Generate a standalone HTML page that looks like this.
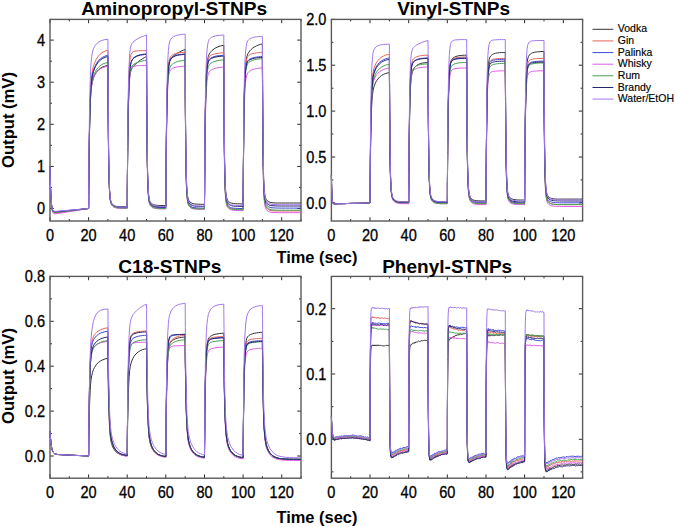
<!DOCTYPE html>
<html><head><meta charset="utf-8"><style>
html,body{margin:0;padding:0;background:#fff;width:675px;height:527px;overflow:hidden;font-family:"Liberation Sans", sans-serif;}
svg{display:block}
</style></head><body>
<svg width="675" height="527" viewBox="0 0 675 527">
<rect width="675" height="527" fill="#fff"/>
<path d="M50.0 221.0V217.2M50.0 19.4V23.2M69.3 221.0V219.0M69.3 19.4V21.4M88.6 221.0V217.2M88.6 19.4V23.2M107.9 221.0V219.0M107.9 19.4V21.4M127.2 221.0V217.2M127.2 19.4V23.2M146.5 221.0V219.0M146.5 19.4V21.4M165.8 221.0V217.2M165.8 19.4V23.2M185.2 221.0V219.0M185.2 19.4V21.4M204.5 221.0V217.2M204.5 19.4V23.2M223.8 221.0V219.0M223.8 19.4V21.4M243.1 221.0V217.2M243.1 19.4V23.2M262.4 221.0V219.0M262.4 19.4V21.4M281.7 221.0V217.2M281.7 19.4V23.2M301.0 221.0V219.0M301.0 19.4V21.4M50.0 208.5H53.8M301.0 208.5H297.2M50.0 166.4H53.8M301.0 166.4H297.2M50.0 124.3H53.8M301.0 124.3H297.2M50.0 82.2H53.8M301.0 82.2H297.2M50.0 40.1H53.8M301.0 40.1H297.2M50.0 187.4H52.0M301.0 187.4H299.0M50.0 145.3H52.0M301.0 145.3H299.0M50.0 103.2H52.0M301.0 103.2H299.0M50.0 61.2H52.0M301.0 61.2H299.0" stroke="#2a2a2a" stroke-width="1.0" fill="none"/>
<rect x="50.0" y="19.4" width="251.0" height="201.6" fill="none" stroke="#5a5a5a" stroke-width="1.4"/>
<g fill="none" stroke-width="1.0" stroke-linejoin="round">
<path d="M50.0 166.4L50.1 171.3L50.2 175.8L50.3 179.7L50.4 183.3L50.6 189.3L50.8 194.1L51.0 197.9L51.4 203.4L51.7 206.9L52.3 210.0L52.9 211.5L53.9 212.5L54.8 212.7L55.8 212.7L57.7 212.5L59.7 212.3L63.5 211.8L69.3 211.0L75.1 210.3L80.9 209.5L88.6 208.5L88.7 203.4L88.7 196.0L88.8 184.8L88.9 174.8L89.0 165.7L89.2 150.3L89.4 137.7L89.6 127.6L89.8 119.3L90.2 106.9L90.5 98.5L91.1 90.4L91.7 85.4L92.5 81.3L93.4 78.0L94.4 75.7L95.4 73.8L96.3 72.3L98.3 70.0L100.2 68.4L102.1 67.2L104.1 66.4L106.0 65.8L107.9 65.4L108.0 73.8L108.0 85.4L108.1 102.5L108.2 117.0L108.3 129.3L108.5 148.8L108.7 162.9L108.9 173.1L109.1 180.7L109.5 190.3L109.9 195.7L110.4 199.9L111.0 202.1L111.8 203.6L112.8 204.7L113.7 205.4L114.7 205.9L115.6 206.2L117.6 206.5L119.5 206.7L121.4 206.8L123.4 206.8L125.3 206.8L127.2 206.8L127.3 201.0L127.3 192.6L127.4 180.0L127.5 168.6L127.6 158.4L127.8 141.1L128.0 127.2L128.2 116.0L128.4 107.0L128.8 93.9L129.2 85.3L129.7 77.5L130.3 73.2L131.1 70.1L132.1 68.0L133.0 66.6L134.0 65.5L135.0 64.6L136.9 62.9L138.8 61.3L140.7 59.9L142.7 58.7L144.6 57.5L146.5 56.5L146.6 65.4L146.6 77.7L146.7 95.6L146.8 110.9L146.9 123.9L147.1 144.4L147.3 159.2L147.5 170.1L147.7 178.0L148.1 188.2L148.5 193.9L149.0 198.3L149.6 200.6L150.4 202.2L151.4 203.3L152.3 204.1L153.3 204.5L154.3 204.9L156.2 205.2L158.1 205.4L160.1 205.5L162.0 205.5L163.9 205.5L165.8 205.5L165.9 199.3L165.9 190.4L166.0 176.9L166.1 164.8L166.2 153.9L166.4 135.5L166.6 120.7L166.8 108.8L167.0 99.2L167.4 85.3L167.8 76.3L168.4 68.2L168.9 63.8L169.7 60.6L170.7 58.7L171.6 57.5L172.6 56.6L173.6 55.8L175.5 54.5L177.4 53.2L179.4 52.1L181.3 51.1L183.2 50.2L185.2 49.4L185.2 58.6L185.3 71.4L185.3 90.0L185.4 105.9L185.5 119.4L185.7 140.7L185.9 156.1L186.1 167.4L186.3 175.7L186.7 186.2L187.1 192.1L187.7 196.8L188.2 199.1L189.0 200.8L190.0 202.0L190.9 202.7L191.9 203.2L192.9 203.6L194.8 204.0L196.7 204.1L198.7 204.2L200.6 204.3L202.5 204.3L204.5 204.3L204.5 198.0L204.6 189.1L204.7 175.5L204.8 163.3L204.8 152.3L205.0 133.7L205.2 118.7L205.4 106.7L205.6 96.9L206.0 82.7L206.4 73.4L207.0 64.8L207.6 60.0L208.3 56.4L209.3 54.0L210.3 52.5L211.2 51.4L212.2 50.4L214.1 48.9L216.0 47.7L218.0 46.8L219.9 46.1L221.8 45.6L223.8 45.2L223.8 54.6L223.9 67.7L224.0 86.8L224.1 103.1L224.2 116.9L224.3 138.7L224.5 154.5L224.7 166.1L224.9 174.5L225.3 185.4L225.7 191.4L226.3 196.2L226.9 198.5L227.6 200.3L228.6 201.5L229.6 202.3L230.5 202.8L231.5 203.1L233.4 203.5L235.4 203.7L237.3 203.8L239.2 203.8L241.1 203.9L243.1 203.9L243.1 197.6L243.2 188.8L243.3 175.3L243.4 163.1L243.5 152.3L243.7 133.7L243.8 118.8L244.0 106.8L244.2 97.1L244.6 82.9L245.0 73.6L245.6 65.0L246.2 60.1L246.9 56.4L247.9 53.8L248.9 52.1L249.8 50.9L250.8 49.8L252.7 48.1L254.7 46.8L256.6 45.8L258.5 45.0L260.5 44.4L262.4 43.9L262.4 53.4L262.5 66.5L262.6 85.7L262.7 102.0L262.8 115.8L263.0 137.7L263.2 153.6L263.4 165.1L263.5 173.6L263.9 184.5L264.3 190.5L264.9 195.3L265.5 197.7L266.2 199.4L267.2 200.7L268.2 201.4L269.1 201.9L270.1 202.3L272.0 202.7L274.0 202.9L275.9 203.0L277.8 203.0L279.8 203.0L281.7 203.0L285.6 203.0L289.4 203.0L293.3 203.0L297.1 203.0L301.0 203.0" stroke="#333333"/>
<path d="M50.0 166.4L50.1 171.3L50.2 175.8L50.3 179.7L50.4 183.3L50.6 189.3L50.8 194.1L51.0 197.9L51.4 203.4L51.7 206.9L52.3 210.0L52.9 211.5L53.9 212.5L54.8 212.7L55.8 212.7L57.7 212.5L59.7 212.3L63.5 211.8L69.3 211.0L75.1 210.3L80.9 209.5L88.6 208.5L88.7 203.0L88.7 195.2L88.8 183.2L88.9 172.5L89.0 162.8L89.2 146.2L89.4 132.7L89.6 121.7L89.8 112.7L90.2 99.2L90.5 90.0L91.1 81.0L91.7 75.3L92.5 70.4L93.4 66.3L94.4 63.4L95.4 61.1L96.3 59.2L98.3 56.2L100.2 54.1L102.1 52.6L104.1 51.5L106.0 50.8L107.9 50.2L108.0 59.6L108.0 72.6L108.1 91.5L108.2 107.7L108.3 121.4L108.5 143.0L108.7 158.7L108.9 170.2L109.1 178.6L109.5 189.3L109.9 195.3L110.4 200.0L111.0 202.4L111.8 204.1L112.8 205.3L113.7 206.1L114.7 206.6L115.6 206.9L117.6 207.3L119.5 207.5L121.4 207.6L123.4 207.6L125.3 207.6L127.2 207.7L127.3 201.1L127.3 191.7L127.4 177.4L127.5 164.6L127.6 153.1L127.8 133.6L128.0 117.9L128.2 105.2L128.4 95.1L128.8 80.3L129.2 70.7L129.7 62.1L130.3 57.5L131.1 54.4L132.1 52.6L133.0 51.8L134.0 51.4L135.0 51.2L136.9 50.9L138.8 50.8L140.7 50.7L142.7 50.7L144.6 50.6L146.5 50.6L146.6 60.0L146.6 72.9L146.7 91.9L146.8 107.9L146.9 121.6L147.1 143.2L147.3 158.9L147.5 170.3L147.7 178.6L148.1 189.4L148.5 195.3L149.0 200.0L149.6 202.4L150.4 204.1L151.4 205.3L152.3 206.1L153.3 206.6L154.3 206.9L156.2 207.3L158.1 207.5L160.1 207.6L162.0 207.6L163.9 207.6L165.8 207.7L165.9 201.3L165.9 192.2L166.0 178.4L166.1 166.0L166.2 154.9L166.4 136.0L166.6 120.8L166.8 108.6L167.0 98.7L167.4 84.4L167.8 75.0L168.4 66.5L168.9 61.9L169.7 58.6L170.7 56.6L171.6 55.5L172.6 54.8L173.6 54.3L175.5 53.6L177.4 53.1L179.4 52.8L181.3 52.5L183.2 52.4L185.2 52.3L185.2 61.6L185.3 74.5L185.3 93.3L185.4 109.3L185.5 122.9L185.7 144.4L185.9 160.0L186.1 171.3L186.3 179.6L186.7 190.3L187.1 196.2L187.7 200.9L188.2 203.3L189.0 205.0L190.0 206.2L190.9 206.9L191.9 207.4L192.9 207.8L194.8 208.2L196.7 208.3L198.7 208.4L200.6 208.5L202.5 208.5L204.5 208.5L204.5 202.0L204.6 192.9L204.7 178.8L204.8 166.3L204.8 155.1L205.0 136.0L205.2 120.6L205.4 108.3L205.6 98.4L206.0 84.0L206.4 74.6L207.0 66.3L207.6 61.7L208.3 58.6L209.3 56.8L210.3 55.8L211.2 55.2L212.2 54.7L214.1 54.1L216.0 53.6L218.0 53.3L219.9 53.0L221.8 52.9L223.8 52.7L223.8 62.1L223.9 75.0L224.0 93.8L224.1 109.9L224.2 123.5L224.3 145.1L224.5 160.7L224.7 172.1L224.9 180.4L225.3 191.1L225.7 197.1L226.3 201.7L226.9 204.1L227.6 205.8L228.6 207.0L229.6 207.8L230.5 208.3L231.5 208.6L233.4 209.0L235.4 209.2L237.3 209.3L239.2 209.3L241.1 209.3L243.1 209.3L243.1 202.8L243.2 193.6L243.3 179.4L243.4 166.8L243.5 155.4L243.7 136.2L243.8 120.7L244.0 108.3L244.2 98.3L244.6 83.8L245.0 74.4L245.6 65.9L246.2 61.4L246.9 58.2L247.9 56.4L248.9 55.4L249.8 54.8L250.8 54.3L252.7 53.6L254.7 53.2L256.6 52.8L258.5 52.6L260.5 52.4L262.4 52.3L262.4 61.8L262.5 74.8L262.6 94.0L262.7 110.2L262.8 124.1L263.0 145.9L263.2 161.7L263.4 173.2L263.5 181.7L263.9 192.5L264.3 198.6L264.9 203.3L265.5 205.7L266.2 207.4L267.2 208.7L268.2 209.4L269.1 209.9L270.1 210.3L272.0 210.7L274.0 210.9L275.9 211.0L277.8 211.0L279.8 211.0L281.7 211.0L285.6 211.0L289.4 211.0L293.3 211.0L297.1 211.0L301.0 211.0" stroke="#e6655a"/>
<path d="M50.0 166.4L50.1 171.3L50.2 175.6L50.3 179.5L50.4 183.0L50.6 188.9L50.8 193.6L51.0 197.4L51.4 202.8L51.7 206.3L52.3 209.2L52.9 210.7L53.9 211.7L54.8 212.0L55.8 212.0L57.7 211.9L59.7 211.7L63.5 211.2L69.3 210.6L75.1 210.0L80.9 209.3L88.6 208.5L88.7 203.1L88.7 195.5L88.8 183.9L88.9 173.4L89.0 164.0L89.2 147.8L89.4 134.7L89.6 124.0L89.8 115.3L90.2 102.2L90.5 93.3L91.1 84.5L91.7 79.1L92.5 74.4L93.4 70.5L94.4 67.7L95.4 65.5L96.3 63.7L98.3 60.9L100.2 59.0L102.1 57.5L104.1 56.5L106.0 55.8L107.9 55.3L108.0 64.3L108.0 76.9L108.1 95.3L108.2 110.9L108.3 124.2L108.5 145.1L108.7 160.3L108.9 171.4L109.1 179.5L109.5 189.9L109.9 195.7L110.4 200.3L111.0 202.5L111.8 204.2L112.8 205.4L113.7 206.1L114.7 206.6L115.6 207.0L117.6 207.3L119.5 207.5L121.4 207.6L123.4 207.6L125.3 207.6L127.2 207.7L127.3 201.5L127.3 192.7L127.4 179.4L127.5 167.4L127.6 156.6L127.8 138.4L128.0 123.6L128.2 111.7L128.4 102.1L128.8 88.1L129.2 78.8L129.7 70.4L130.3 65.6L131.1 62.1L132.1 59.8L133.0 58.4L134.0 57.5L135.0 56.8L136.9 55.8L138.8 55.1L140.7 54.6L142.7 54.3L144.6 54.1L146.5 54.0L146.6 63.1L146.6 75.8L146.7 94.3L146.8 110.1L146.9 123.5L147.1 144.6L147.3 159.9L147.5 171.1L147.7 179.3L148.1 189.7L148.5 195.6L149.0 200.2L149.6 202.5L150.4 204.2L151.4 205.4L152.3 206.1L153.3 206.6L154.3 206.9L156.2 207.3L158.1 207.5L160.1 207.6L162.0 207.6L163.9 207.6L165.8 207.7L165.9 201.4L165.9 192.6L166.0 179.0L166.1 166.9L166.2 156.1L166.4 137.6L166.6 122.7L166.8 110.7L167.0 101.1L167.4 86.9L167.8 77.7L168.4 69.3L168.9 64.6L169.7 61.2L170.7 59.0L171.6 57.8L172.6 57.0L173.6 56.4L175.5 55.5L177.4 54.9L179.4 54.5L181.3 54.3L183.2 54.1L185.2 54.0L185.2 63.2L185.3 75.9L185.3 94.4L185.4 110.2L185.5 123.7L185.7 144.8L185.9 160.2L186.1 171.4L186.3 179.6L186.7 190.1L187.1 196.0L187.7 200.6L188.2 202.9L189.0 204.6L190.0 205.8L190.9 206.5L191.9 207.0L192.9 207.4L194.8 207.7L196.7 207.9L198.7 208.0L200.6 208.0L202.5 208.1L204.5 208.1L204.5 201.7L204.6 192.7L204.7 179.0L204.8 166.7L204.8 155.7L205.0 137.0L205.2 121.9L205.4 109.9L205.6 100.2L206.0 86.0L206.4 76.8L207.0 68.6L207.6 64.2L208.3 61.1L209.3 59.3L210.3 58.3L211.2 57.7L212.2 57.3L214.1 56.6L216.0 56.1L218.0 55.8L219.9 55.6L221.8 55.4L223.8 55.3L223.8 64.4L223.9 77.0L224.0 95.5L224.1 111.2L224.2 124.6L224.3 145.6L224.5 160.9L224.7 172.0L224.9 180.2L225.3 190.6L225.7 196.5L226.3 201.1L226.9 203.4L227.6 205.0L228.6 206.2L229.6 207.0L230.5 207.5L231.5 207.8L233.4 208.2L235.4 208.3L237.3 208.4L239.2 208.5L241.1 208.5L243.1 208.5L243.1 202.2L243.2 193.3L243.3 179.6L243.4 167.4L243.5 156.4L243.7 137.8L243.8 122.9L244.0 110.9L244.2 101.2L244.6 87.2L245.0 78.0L245.6 69.9L246.2 65.4L246.9 62.4L247.9 60.6L248.9 59.6L249.8 59.0L250.8 58.5L252.7 57.9L254.7 57.4L256.6 57.1L258.5 56.8L260.5 56.6L262.4 56.5L262.4 65.5L262.5 78.0L262.6 96.3L262.7 111.8L262.8 125.1L263.0 145.9L263.2 161.0L263.4 172.0L263.5 180.1L263.9 190.4L264.3 196.2L264.9 200.7L265.5 203.0L266.2 204.7L267.2 205.8L268.2 206.6L269.1 207.1L270.1 207.4L272.0 207.8L274.0 207.9L275.9 208.0L277.8 208.0L279.8 208.1L281.7 208.1L285.6 208.1L289.4 208.1L293.3 208.1L297.1 208.1L301.0 208.1" stroke="#3a48d8"/>
<path d="M50.0 166.4L50.1 171.5L50.2 176.0L50.3 180.1L50.4 183.7L50.6 189.9L50.8 194.8L51.0 198.7L51.4 204.4L51.7 208.0L52.3 211.1L52.9 212.6L53.9 213.6L54.8 213.8L55.8 213.8L57.7 213.5L59.7 213.2L63.5 212.6L69.3 211.7L75.1 210.7L80.9 209.8L88.6 208.5L88.7 203.3L88.7 195.9L88.8 184.7L88.9 174.5L89.0 165.4L89.2 149.9L89.4 137.3L89.6 127.0L89.8 118.7L90.2 106.3L90.5 98.0L91.1 90.0L91.7 85.1L92.5 81.1L93.4 78.0L94.4 75.8L95.4 74.1L96.3 72.7L98.3 70.6L100.2 69.0L102.1 67.9L104.1 67.2L106.0 66.6L107.9 66.2L108.0 74.7L108.0 86.4L108.1 103.6L108.2 118.1L108.3 130.5L108.5 150.1L108.7 164.3L108.9 174.6L109.1 182.2L109.5 191.9L109.9 197.3L110.4 201.6L111.0 203.7L111.8 205.3L112.8 206.4L113.7 207.1L114.7 207.5L115.6 207.8L117.6 208.2L119.5 208.4L121.4 208.4L123.4 208.5L125.3 208.5L127.2 208.5L127.3 202.5L127.3 193.9L127.4 180.9L127.5 169.3L127.6 158.8L127.8 141.0L128.0 126.8L128.2 115.3L128.4 106.1L128.8 92.7L129.2 84.0L129.7 76.2L130.3 72.1L131.1 69.3L132.1 67.7L133.0 66.9L134.0 66.5L135.0 66.2L136.9 65.8L138.8 65.6L140.7 65.5L142.7 65.4L144.6 65.4L146.5 65.4L146.6 73.9L146.6 85.7L146.7 103.0L146.8 117.8L146.9 130.3L147.1 150.0L147.3 164.3L147.5 174.7L147.7 182.4L148.1 192.2L148.5 197.7L149.0 201.9L149.6 204.1L150.4 205.7L151.4 206.8L152.3 207.5L153.3 207.9L154.3 208.3L156.2 208.6L158.1 208.8L160.1 208.9L162.0 208.9L163.9 208.9L165.8 208.9L165.9 203.0L165.9 194.6L166.0 181.8L166.1 170.3L166.2 160.1L166.4 142.6L166.6 128.6L166.8 117.3L167.0 108.2L167.4 95.0L167.8 86.3L168.4 78.6L168.9 74.4L169.7 71.5L170.7 69.7L171.6 68.8L172.6 68.2L173.6 67.8L175.5 67.2L177.4 66.8L179.4 66.6L181.3 66.4L183.2 66.3L185.2 66.2L185.2 74.7L185.3 86.5L185.3 103.8L185.4 118.5L185.5 130.9L185.7 150.6L185.9 164.9L186.1 175.3L186.3 182.9L186.7 192.7L187.1 198.1L187.7 202.4L188.2 204.5L189.0 206.1L190.0 207.2L190.9 207.9L191.9 208.4L192.9 208.7L194.8 209.0L196.7 209.2L198.7 209.3L200.6 209.3L202.5 209.3L204.5 209.3L204.5 203.5L204.6 195.3L204.7 182.7L204.8 171.5L204.8 161.4L205.0 144.2L205.2 130.4L205.4 119.3L205.6 110.3L206.0 97.3L206.4 88.8L207.0 81.1L207.6 76.8L208.3 73.8L209.3 71.9L210.3 70.8L211.2 70.1L212.2 69.5L214.1 68.7L216.0 68.1L218.0 67.7L219.9 67.4L221.8 67.2L223.8 67.0L223.8 75.6L223.9 87.4L224.0 104.7L224.1 119.4L224.2 132.0L224.3 151.7L224.5 166.0L224.7 176.4L224.9 184.1L225.3 193.9L225.7 199.3L226.3 203.6L226.9 205.8L227.6 207.4L228.6 208.5L229.6 209.2L230.5 209.6L231.5 209.9L233.4 210.3L235.4 210.5L237.3 210.5L239.2 210.6L241.1 210.6L243.1 210.6L243.1 204.8L243.2 196.5L243.3 183.9L243.4 172.6L243.5 162.5L243.7 145.2L243.8 131.4L244.0 120.3L244.2 111.3L244.6 98.2L245.0 89.6L245.6 81.9L246.2 77.7L246.9 74.7L247.9 72.8L248.9 71.7L249.8 71.0L250.8 70.4L252.7 69.6L254.7 69.0L256.6 68.6L258.5 68.3L260.5 68.0L262.4 67.9L262.4 76.5L262.5 88.4L262.6 105.9L262.7 120.7L262.8 133.4L263.0 153.3L263.2 167.7L263.4 178.2L263.5 185.9L263.9 195.8L264.3 201.3L264.9 205.7L265.5 207.9L266.2 209.4L267.2 210.6L268.2 211.3L269.1 211.7L270.1 212.0L272.0 212.4L274.0 212.6L275.9 212.6L277.8 212.7L279.8 212.7L281.7 212.7L285.6 212.7L289.4 212.7L293.3 212.7L297.1 212.7L301.0 212.7" stroke="#e05ae6"/>
<path d="M50.0 166.4L50.1 171.3L50.2 175.7L50.3 179.6L50.4 183.1L50.6 189.1L50.8 193.8L51.0 197.6L51.4 203.1L51.7 206.6L52.3 209.6L52.9 211.1L53.9 212.1L54.8 212.4L55.8 212.4L57.7 212.2L59.7 212.0L63.5 211.5L69.3 210.8L75.1 210.1L80.9 209.4L88.6 208.5L88.7 203.3L88.7 195.9L88.8 184.6L88.9 174.4L89.0 165.3L89.2 149.7L89.4 137.0L89.6 126.7L89.8 118.2L90.2 105.7L90.5 97.1L91.1 88.8L91.7 83.7L92.5 79.4L93.4 75.9L94.4 73.4L95.4 71.5L96.3 69.9L98.3 67.4L100.2 65.7L102.1 64.4L104.1 63.5L106.0 62.9L107.9 62.4L108.0 71.1L108.0 83.1L108.1 100.7L108.2 115.6L108.3 128.3L108.5 148.3L108.7 162.8L108.9 173.4L109.1 181.2L109.5 191.1L109.9 196.7L110.4 201.0L111.0 203.2L111.8 204.8L112.8 205.9L113.7 206.6L114.7 207.1L115.6 207.4L117.6 207.8L119.5 207.9L121.4 208.0L123.4 208.0L125.3 208.1L127.2 208.1L127.3 202.0L127.3 193.5L127.4 180.4L127.5 168.7L127.6 158.3L127.8 140.5L128.0 126.2L128.2 114.7L128.4 105.4L128.8 91.9L129.2 83.2L129.7 75.3L130.3 71.0L131.1 67.9L132.1 66.0L133.0 65.0L134.0 64.2L135.0 63.6L136.9 62.7L138.8 61.9L140.7 61.4L142.7 60.9L144.6 60.6L146.5 60.3L146.6 69.1L146.6 81.3L146.7 99.2L146.8 114.4L146.9 127.3L147.1 147.7L147.3 162.4L147.5 173.2L147.7 181.1L148.1 191.2L148.5 196.9L149.0 201.3L149.6 203.5L150.4 205.1L151.4 206.3L152.3 207.0L153.3 207.5L154.3 207.8L156.2 208.2L158.1 208.4L160.1 208.4L162.0 208.5L163.9 208.5L165.8 208.5L165.9 202.5L165.9 194.0L166.0 181.1L166.1 169.4L166.2 159.0L166.4 141.3L166.6 127.0L166.8 115.6L167.0 106.3L167.4 92.8L167.8 83.9L168.4 75.9L168.9 71.4L169.7 68.2L170.7 66.1L171.6 64.8L172.6 64.0L173.6 63.3L175.5 62.3L177.4 61.6L179.4 61.1L181.3 60.8L183.2 60.5L185.2 60.3L185.2 69.2L185.3 81.4L185.3 99.3L185.4 114.6L185.5 127.5L185.7 147.9L185.9 162.7L186.1 173.5L186.3 181.5L186.7 191.6L187.1 197.3L187.7 201.7L188.2 203.9L189.0 205.6L190.0 206.7L190.9 207.4L191.9 207.9L192.9 208.2L194.8 208.6L196.7 208.8L198.7 208.9L200.6 208.9L202.5 208.9L204.5 208.9L204.5 202.8L204.6 194.2L204.7 181.0L204.8 169.1L204.8 158.5L205.0 140.5L205.2 126.0L205.4 114.3L205.6 104.9L206.0 91.3L206.4 82.3L207.0 74.3L207.6 69.9L208.3 66.7L209.3 64.8L210.3 63.7L211.2 63.0L212.2 62.4L214.1 61.6L216.0 61.0L218.0 60.6L219.9 60.3L221.8 60.0L223.8 59.9L223.8 68.8L223.9 81.2L224.0 99.2L224.1 114.6L224.2 127.7L224.3 148.2L224.5 163.2L224.7 174.1L224.9 182.1L225.3 192.3L225.7 198.0L226.3 202.5L226.9 204.7L227.6 206.4L228.6 207.5L229.6 208.3L230.5 208.7L231.5 209.1L233.4 209.4L235.4 209.6L237.3 209.7L239.2 209.7L241.1 209.7L243.1 209.8L243.1 203.6L243.2 194.8L243.3 181.4L243.4 169.4L243.5 158.6L243.7 140.3L243.8 125.6L244.0 113.8L244.2 104.2L244.6 90.4L245.0 81.3L245.6 73.1L246.2 68.7L246.9 65.5L247.9 63.5L248.9 62.4L249.8 61.7L250.8 61.1L252.7 60.3L254.7 59.7L256.6 59.3L258.5 59.0L260.5 58.8L262.4 58.6L262.4 67.7L262.5 80.1L262.6 98.4L262.7 113.9L262.8 127.2L263.0 148.0L263.2 163.1L263.4 174.1L263.5 182.2L263.9 192.5L264.3 198.3L264.9 202.8L265.5 205.1L266.2 206.8L267.2 207.9L268.2 208.7L269.1 209.2L270.1 209.5L272.0 209.9L274.0 210.0L275.9 210.1L277.8 210.2L279.8 210.2L281.7 210.2L285.6 210.2L289.4 210.2L293.3 210.2L297.1 210.2L301.0 210.2" stroke="#45a04d"/>
<path d="M50.0 166.4L50.1 171.2L50.2 175.5L50.3 179.4L50.4 182.8L50.6 188.7L50.8 193.3L51.0 197.1L51.4 202.5L51.7 205.9L52.3 208.9L52.9 210.4L53.9 211.4L54.8 211.6L55.8 211.7L57.7 211.5L59.7 211.3L63.5 211.0L69.3 210.4L75.1 209.8L80.9 209.3L88.6 208.5L88.7 203.2L88.7 195.7L88.8 184.1L88.9 173.8L89.0 164.4L89.2 148.4L89.4 135.4L89.6 124.9L89.8 116.2L90.2 103.3L90.5 94.4L91.1 85.7L91.7 80.3L92.5 75.6L93.4 71.8L94.4 69.0L95.4 66.8L96.3 65.0L98.3 62.2L100.2 60.2L102.1 58.8L104.1 57.8L106.0 57.0L107.9 56.5L108.0 65.5L108.0 77.9L108.1 96.1L108.2 111.5L108.3 124.7L108.5 145.4L108.7 160.4L108.9 171.4L109.1 179.4L109.5 189.7L109.9 195.4L110.4 199.9L111.0 202.2L111.8 203.8L112.8 205.0L113.7 205.7L114.7 206.2L115.6 206.5L117.6 206.9L119.5 207.1L121.4 207.2L123.4 207.2L125.3 207.2L127.2 207.2L127.3 201.1L127.3 192.4L127.4 179.1L127.5 167.2L127.6 156.5L127.8 138.3L128.0 123.7L128.2 111.9L128.4 102.3L128.8 88.4L129.2 79.2L129.7 70.7L130.3 66.0L131.1 62.5L132.1 60.2L133.0 58.8L134.0 57.9L135.0 57.2L136.9 56.2L138.8 55.5L140.7 55.1L142.7 54.8L144.6 54.5L146.5 54.4L146.6 63.5L146.6 76.0L146.7 94.4L146.8 110.0L146.9 123.3L147.1 144.3L147.3 159.5L147.5 170.5L147.7 178.6L148.1 189.0L148.5 194.9L149.0 199.4L149.6 201.7L150.4 203.4L151.4 204.6L152.3 205.3L153.3 205.8L154.3 206.1L156.2 206.5L158.1 206.7L160.1 206.7L162.0 206.8L163.9 206.8L165.8 206.8L165.9 200.6L165.9 191.9L166.0 178.5L166.1 166.4L166.2 155.7L166.4 137.3L166.6 122.6L166.8 110.7L167.0 101.1L167.4 87.1L167.8 77.9L168.4 69.6L168.9 65.0L169.7 61.6L170.7 59.5L171.6 58.2L172.6 57.4L173.6 56.8L175.5 55.9L177.4 55.3L179.4 55.0L181.3 54.7L183.2 54.5L185.2 54.4L185.2 63.5L185.3 76.0L185.3 94.3L185.4 109.9L185.5 123.1L185.7 144.0L185.9 159.2L186.1 170.2L186.3 178.3L186.7 188.7L187.1 194.5L187.7 199.0L188.2 201.3L189.0 203.0L190.0 204.1L190.9 204.9L191.9 205.4L192.9 205.7L194.8 206.1L196.7 206.2L198.7 206.3L200.6 206.4L202.5 206.4L204.5 206.4L204.5 200.2L204.6 191.3L204.7 177.8L204.8 165.7L204.8 154.9L205.0 136.5L205.2 121.8L205.4 109.9L205.6 100.3L206.0 86.5L206.4 77.4L207.0 69.3L207.6 65.0L208.3 61.9L209.3 60.1L210.3 59.2L211.2 58.6L212.2 58.1L214.1 57.4L216.0 57.0L218.0 56.6L219.9 56.4L221.8 56.2L223.8 56.1L223.8 65.1L223.9 77.4L224.0 95.6L224.1 111.0L224.2 124.1L224.3 144.7L224.5 159.7L224.7 170.6L224.9 178.6L225.3 188.9L225.7 194.6L226.3 199.1L226.9 201.4L227.6 203.0L228.6 204.2L229.6 204.9L230.5 205.4L231.5 205.7L233.4 206.1L235.4 206.2L237.3 206.3L239.2 206.4L241.1 206.4L243.1 206.4L243.1 200.2L243.2 191.5L243.3 178.1L243.4 166.1L243.5 155.4L243.7 137.1L243.8 122.5L244.0 110.7L244.2 101.3L244.6 87.5L245.0 78.5L245.6 70.5L246.2 66.2L246.9 63.2L247.9 61.4L248.9 60.4L249.8 59.8L250.8 59.4L252.7 58.7L254.7 58.2L256.6 57.9L258.5 57.7L260.5 57.5L262.4 57.4L262.4 66.2L262.5 78.5L262.6 96.4L262.7 111.6L262.8 124.6L263.0 145.0L263.2 159.8L263.4 170.6L263.5 178.5L263.9 188.6L264.3 194.3L264.9 198.8L265.5 201.0L266.2 202.6L267.2 203.8L268.2 204.5L269.1 205.0L270.1 205.3L272.0 205.7L274.0 205.8L275.9 205.9L277.8 205.9L279.8 206.0L281.7 206.0L285.6 206.0L289.4 206.0L293.3 206.0L297.1 206.0L301.0 206.0" stroke="#26266e"/>
<path d="M50.0 166.4L50.1 171.2L50.2 175.4L50.3 179.3L50.4 182.7L50.6 188.5L50.8 193.1L51.0 196.8L51.4 202.2L51.7 205.6L52.3 208.5L52.9 210.0L53.9 211.0L54.8 211.3L55.8 211.3L57.7 211.2L59.7 211.0L63.5 210.7L69.3 210.2L75.1 209.7L80.9 209.2L88.6 208.5L88.7 202.0L88.7 192.8L88.8 178.8L88.9 166.2L89.0 154.9L89.2 135.5L89.4 119.9L89.6 107.3L89.8 97.0L90.2 81.8L90.5 71.6L91.1 62.1L91.7 56.5L92.5 52.0L93.4 48.8L94.4 46.7L95.4 45.2L96.3 44.0L98.3 42.3L100.2 41.1L102.1 40.4L104.1 39.8L106.0 39.5L107.9 39.3L108.0 49.3L108.0 63.1L108.1 83.4L108.2 100.6L108.3 115.2L108.5 138.3L108.7 155.0L108.9 167.2L109.1 176.2L109.5 187.7L109.9 194.1L110.4 199.1L111.0 201.6L111.8 203.4L112.8 204.7L113.7 205.6L114.7 206.1L115.6 206.5L117.6 206.9L119.5 207.1L121.4 207.2L123.4 207.2L125.3 207.2L127.2 207.2L127.3 200.2L127.3 190.3L127.4 175.2L127.5 161.6L127.6 149.5L127.8 128.9L128.0 112.3L128.2 99.1L128.4 88.4L128.8 72.9L129.2 62.8L129.7 53.7L130.3 48.8L131.1 45.4L132.1 43.3L133.0 42.1L134.0 41.2L135.0 40.5L136.9 39.2L138.8 38.1L140.7 37.2L142.7 36.4L144.6 35.7L146.5 35.0L146.6 45.3L146.6 59.4L146.7 80.0L146.8 97.6L146.9 112.5L147.1 136.1L147.3 153.1L147.5 165.6L147.7 174.7L148.1 186.4L148.5 193.0L149.0 198.1L149.6 200.6L150.4 202.5L151.4 203.9L152.3 204.7L153.3 205.2L154.3 205.6L156.2 206.0L158.1 206.2L160.1 206.3L162.0 206.4L163.9 206.4L165.8 206.4L165.9 199.3L165.9 189.4L166.0 174.1L166.1 160.4L166.2 148.1L166.4 127.3L166.6 110.5L166.8 97.0L167.0 86.1L167.4 70.3L167.8 59.9L168.4 50.5L168.9 45.3L169.7 41.6L170.7 39.3L171.6 38.0L172.6 37.2L173.6 36.6L175.5 35.7L177.4 35.1L179.4 34.8L181.3 34.5L183.2 34.3L185.2 34.2L185.2 44.4L185.3 58.6L185.3 79.3L185.4 96.9L185.5 111.9L185.7 135.5L185.9 152.6L186.1 165.1L186.3 174.2L186.7 185.9L187.1 192.5L187.7 197.6L188.2 200.2L189.0 202.1L190.0 203.4L190.9 204.3L191.9 204.8L192.9 205.2L194.8 205.6L196.7 205.8L198.7 205.9L200.6 205.9L202.5 206.0L204.5 206.0L204.5 198.9L204.6 188.9L204.7 173.6L204.8 159.9L204.8 147.6L205.0 126.7L205.2 109.9L205.4 96.4L205.6 85.6L206.0 69.7L206.4 59.4L207.0 50.1L207.6 45.1L208.3 41.6L209.3 39.4L210.3 38.3L211.2 37.6L212.2 37.0L214.1 36.3L216.0 35.8L218.0 35.5L219.9 35.3L221.8 35.1L223.8 35.0L223.8 45.2L223.9 59.2L224.0 79.8L224.1 97.3L224.2 112.1L224.3 135.6L224.5 152.6L224.7 165.0L224.9 174.0L225.3 185.7L225.7 192.2L226.3 197.3L226.9 199.8L227.6 201.7L228.6 203.0L229.6 203.8L230.5 204.4L231.5 204.8L233.4 205.2L235.4 205.4L237.3 205.5L239.2 205.5L241.1 205.5L243.1 205.5L243.1 198.6L243.2 188.6L243.3 173.5L243.4 159.9L243.5 147.8L243.7 127.1L243.8 110.5L244.0 97.1L244.2 86.4L244.6 70.7L245.0 60.5L245.6 51.3L246.2 46.3L246.9 42.8L247.9 40.7L248.9 39.5L249.8 38.8L250.8 38.3L252.7 37.6L254.7 37.1L256.6 36.8L258.5 36.6L260.5 36.4L262.4 36.3L262.4 46.3L262.5 60.2L262.6 80.5L262.7 97.8L262.8 112.5L263.0 135.6L263.2 152.4L263.4 164.6L263.5 173.6L263.9 185.1L264.3 191.5L264.9 196.5L265.5 199.1L266.2 200.9L267.2 202.2L268.2 203.0L269.1 203.6L270.1 203.9L272.0 204.4L274.0 204.5L275.9 204.6L277.8 204.7L279.8 204.7L281.7 204.7L285.6 204.7L289.4 204.7L293.3 204.7L297.1 204.7L301.0 204.7" stroke="#a278ec"/>
</g>
<text transform="translate(45.0,214.3) scale(0.920,1)" text-anchor="end" font-size="15.8" font-family='"Liberation Sans", sans-serif' fill="#000" stroke="#000" stroke-width="0.3">0</text>
<text transform="translate(45.0,172.2) scale(0.920,1)" text-anchor="end" font-size="15.8" font-family='"Liberation Sans", sans-serif' fill="#000" stroke="#000" stroke-width="0.3">1</text>
<text transform="translate(45.0,130.1) scale(0.920,1)" text-anchor="end" font-size="15.8" font-family='"Liberation Sans", sans-serif' fill="#000" stroke="#000" stroke-width="0.3">2</text>
<text transform="translate(45.0,88.0) scale(0.920,1)" text-anchor="end" font-size="15.8" font-family='"Liberation Sans", sans-serif' fill="#000" stroke="#000" stroke-width="0.3">3</text>
<text transform="translate(45.0,45.9) scale(0.920,1)" text-anchor="end" font-size="15.8" font-family='"Liberation Sans", sans-serif' fill="#000" stroke="#000" stroke-width="0.3">4</text>
<text transform="translate(50.0,240.6) scale(0.920,1)" text-anchor="middle" font-size="15.8" font-family='"Liberation Sans", sans-serif' fill="#000" stroke="#000" stroke-width="0.3">0</text>
<text transform="translate(88.6,240.6) scale(0.920,1)" text-anchor="middle" font-size="15.8" font-family='"Liberation Sans", sans-serif' fill="#000" stroke="#000" stroke-width="0.3">20</text>
<text transform="translate(127.2,240.6) scale(0.920,1)" text-anchor="middle" font-size="15.8" font-family='"Liberation Sans", sans-serif' fill="#000" stroke="#000" stroke-width="0.3">40</text>
<text transform="translate(165.8,240.6) scale(0.920,1)" text-anchor="middle" font-size="15.8" font-family='"Liberation Sans", sans-serif' fill="#000" stroke="#000" stroke-width="0.3">60</text>
<text transform="translate(204.5,240.6) scale(0.920,1)" text-anchor="middle" font-size="15.8" font-family='"Liberation Sans", sans-serif' fill="#000" stroke="#000" stroke-width="0.3">80</text>
<text transform="translate(243.1,240.6) scale(0.920,1)" text-anchor="middle" font-size="15.8" font-family='"Liberation Sans", sans-serif' fill="#000" stroke="#000" stroke-width="0.3">100</text>
<text transform="translate(281.7,240.6) scale(0.920,1)" text-anchor="middle" font-size="15.8" font-family='"Liberation Sans", sans-serif' fill="#000" stroke="#000" stroke-width="0.3">120</text>
<path d="M331.4 221.0V217.2M331.4 19.4V23.2M350.7 221.0V219.0M350.7 19.4V21.4M370.0 221.0V217.2M370.0 19.4V23.2M389.4 221.0V219.0M389.4 19.4V21.4M408.7 221.0V217.2M408.7 19.4V23.2M428.0 221.0V219.0M428.0 19.4V21.4M447.3 221.0V217.2M447.3 19.4V23.2M466.7 221.0V219.0M466.7 19.4V21.4M486.0 221.0V217.2M486.0 19.4V23.2M505.3 221.0V219.0M505.3 19.4V21.4M524.6 221.0V217.2M524.6 19.4V23.2M544.0 221.0V219.0M544.0 19.4V21.4M563.3 221.0V217.2M563.3 19.4V23.2M582.6 221.0V219.0M582.6 19.4V21.4M331.4 202.8H335.2M582.6 202.8H578.8M331.4 157.0H335.2M582.6 157.0H578.8M331.4 111.1H335.2M582.6 111.1H578.8M331.4 65.2H335.2M582.6 65.2H578.8M331.4 19.4H335.2M582.6 19.4H578.8M331.4 179.9H333.4M582.6 179.9H580.6M331.4 134.0H333.4M582.6 134.0H580.6M331.4 88.2H333.4M582.6 88.2H580.6M331.4 42.3H333.4M582.6 42.3H580.6" stroke="#2a2a2a" stroke-width="1.0" fill="none"/>
<rect x="331.4" y="19.4" width="251.2" height="201.6" fill="none" stroke="#5a5a5a" stroke-width="1.4"/>
<g fill="none" stroke-width="1.0" stroke-linejoin="round">
<path d="M331.4 175.3L331.5 181.1L331.6 185.7L331.7 189.4L331.8 192.4L332.0 196.6L332.2 199.2L332.4 200.9L332.8 202.7L333.1 203.4L333.7 203.7L334.3 203.8L335.3 203.8L336.2 203.8L337.2 203.8L339.1 203.7L341.1 203.7L344.9 203.6L350.7 203.4L356.5 203.3L362.3 203.2L370.0 203.0L370.1 197.8L370.1 190.4L370.2 179.3L370.3 169.4L370.4 160.7L370.6 146.0L370.8 134.4L371.0 125.2L371.2 117.9L371.6 107.3L372.0 100.5L372.6 94.1L373.1 90.2L373.9 86.9L374.9 84.2L375.8 82.1L376.8 80.5L377.8 79.1L379.7 77.0L381.6 75.4L383.6 74.3L385.5 73.6L387.4 73.0L389.4 72.6L389.4 80.3L389.5 90.9L389.6 106.5L389.7 119.8L389.8 131.1L389.9 148.8L390.1 161.7L390.3 171.1L390.5 178.0L390.9 186.8L391.3 191.7L391.9 195.6L392.5 197.5L393.2 199.0L394.2 200.0L395.2 200.6L396.1 201.0L397.1 201.3L399.0 201.6L401.0 201.8L402.9 201.8L404.8 201.9L406.8 201.9L408.7 201.9L408.7 195.9L408.8 187.4L408.9 174.6L409.0 163.3L409.1 153.2L409.3 136.4L409.5 123.1L409.7 112.7L409.9 104.4L410.2 92.6L410.6 85.0L411.2 78.2L411.8 74.3L412.6 71.3L413.5 69.1L414.5 67.6L415.5 66.5L416.4 65.6L418.4 64.4L420.3 63.6L422.2 63.1L424.2 62.8L426.1 62.6L428.0 62.5L428.1 70.8L428.1 82.3L428.2 99.1L428.3 113.4L428.4 125.5L428.6 144.7L428.8 158.6L429.0 168.7L429.2 176.1L429.6 185.6L429.9 190.9L430.5 195.1L431.1 197.2L431.9 198.7L432.8 199.8L433.8 200.5L434.8 200.9L435.7 201.2L437.7 201.6L439.6 201.7L441.5 201.8L443.5 201.9L445.4 201.9L447.3 201.9L447.4 195.2L447.4 185.8L447.5 171.6L447.6 159.1L447.7 148.0L447.9 129.4L448.1 114.9L448.3 103.5L448.5 94.5L448.9 81.9L449.3 73.9L449.9 67.0L450.4 63.3L451.2 60.7L452.2 59.0L453.1 58.0L454.1 57.3L455.1 56.8L457.0 56.1L458.9 55.7L460.9 55.5L462.8 55.3L464.7 55.2L466.7 55.2L466.7 63.8L466.8 75.9L466.9 93.4L467.0 108.4L467.0 121.1L467.2 141.1L467.4 155.7L467.6 166.3L467.8 174.0L468.2 184.0L468.6 189.5L469.2 193.9L469.8 196.1L470.5 197.7L471.5 198.8L472.5 199.5L473.4 200.0L474.4 200.3L476.3 200.7L478.3 200.8L480.2 200.9L482.1 200.9L484.1 201.0L486.0 201.0L486.0 194.1L486.1 184.5L486.2 170.0L486.3 157.1L486.4 145.8L486.6 126.8L486.8 112.0L487.0 100.4L487.1 91.2L487.5 78.4L487.9 70.3L488.5 63.5L489.1 59.8L489.8 57.3L490.8 55.8L491.8 54.9L492.7 54.3L493.7 53.8L495.6 53.2L497.6 52.9L499.5 52.7L501.4 52.5L503.4 52.5L505.3 52.4L505.3 61.2L505.4 73.4L505.5 91.2L505.6 106.3L505.7 119.2L505.9 139.4L506.1 154.2L506.3 164.9L506.5 172.8L506.9 182.8L507.2 188.5L507.8 192.9L508.4 195.1L509.2 196.7L510.1 197.9L511.1 198.6L512.1 199.0L513.0 199.4L515.0 199.7L516.9 199.9L518.8 200.0L520.8 200.0L522.7 200.0L524.6 200.0L524.7 193.2L524.7 183.6L524.8 169.1L524.9 156.2L525.0 144.9L525.2 125.9L525.4 111.1L525.6 99.5L525.8 90.3L526.2 77.5L526.6 69.4L527.1 62.5L527.7 58.9L528.5 56.4L529.5 54.9L530.4 54.0L531.4 53.4L532.4 52.9L534.3 52.3L536.2 52.0L538.2 51.8L540.1 51.6L542.0 51.5L544.0 51.5L544.0 60.3L544.1 72.5L544.1 90.3L544.2 105.4L544.3 118.3L544.5 138.5L544.7 153.3L544.9 164.0L545.1 171.8L545.5 181.9L545.9 187.6L546.5 192.0L547.0 194.2L547.8 195.8L548.8 196.9L549.8 197.7L550.7 198.1L551.7 198.5L553.6 198.8L555.5 199.0L557.5 199.1L559.4 199.1L561.3 199.1L563.3 199.1L567.1 199.1L571.0 199.1L574.9 199.1L578.7 199.1L582.6 199.1" stroke="#333333"/>
<path d="M331.4 175.3L331.5 181.1L331.6 185.7L331.7 189.4L331.8 192.4L332.0 196.6L332.2 199.2L332.4 200.9L332.8 202.7L333.1 203.4L333.7 203.7L334.3 203.8L335.3 203.8L336.2 203.8L337.2 203.8L339.1 203.7L341.1 203.7L344.9 203.6L350.7 203.4L356.5 203.3L362.3 203.2L370.0 203.0L370.1 196.9L370.1 188.3L370.2 175.2L370.3 163.7L370.4 153.4L370.6 136.3L370.8 122.8L371.0 112.1L371.2 103.6L371.6 91.5L372.0 83.6L372.6 76.4L373.1 72.2L373.9 68.7L374.9 65.9L375.8 63.8L376.8 62.1L377.8 60.8L379.7 58.6L381.6 57.1L383.6 56.0L385.5 55.2L387.4 54.6L389.4 54.2L389.4 63.1L389.5 75.3L389.6 93.2L389.7 108.5L389.8 121.4L389.9 141.8L390.1 156.6L390.3 167.4L390.5 175.3L390.9 185.5L391.3 191.1L391.9 195.6L392.5 197.8L393.2 199.4L394.2 200.6L395.2 201.3L396.1 201.8L397.1 202.1L399.0 202.5L401.0 202.7L402.9 202.7L404.8 202.8L406.8 202.8L408.7 202.8L408.7 196.0L408.8 186.5L408.9 172.1L409.0 159.3L409.1 148.1L409.3 129.3L409.5 114.6L409.7 103.0L409.9 94.0L410.2 81.3L410.6 73.3L411.2 66.5L411.8 62.9L412.6 60.4L413.5 58.9L414.5 58.0L415.5 57.3L416.4 56.9L418.4 56.2L420.3 55.8L422.2 55.5L424.2 55.3L426.1 55.2L428.0 55.2L428.1 64.0L428.1 76.1L428.2 93.9L428.3 109.1L428.4 121.9L428.6 142.2L428.8 156.9L429.0 167.7L429.2 175.5L429.6 185.6L429.9 191.2L430.5 195.6L431.1 197.8L431.9 199.5L432.8 200.6L433.8 201.3L434.8 201.8L435.7 202.1L437.7 202.5L439.6 202.7L441.5 202.7L443.5 202.8L445.4 202.8L447.3 202.8L447.4 196.0L447.4 186.3L447.5 171.8L447.6 159.0L447.7 147.6L447.9 128.7L448.1 113.9L448.3 102.4L448.5 93.3L448.9 80.6L449.3 72.8L449.9 66.2L450.4 62.8L451.2 60.6L452.2 59.3L453.1 58.7L454.1 58.3L455.1 58.0L457.0 57.6L458.9 57.3L460.9 57.2L462.8 57.1L464.7 57.0L466.7 57.0L466.7 65.7L466.8 77.8L466.9 95.5L467.0 110.6L467.0 123.3L467.2 143.5L467.4 158.1L467.6 168.8L467.8 176.6L468.2 186.6L468.6 192.2L469.2 196.6L469.8 198.8L470.5 200.4L471.5 201.5L472.5 202.3L473.4 202.7L474.4 203.0L476.3 203.4L478.3 203.6L480.2 203.6L482.1 203.7L484.1 203.7L486.0 203.7L486.0 196.9L486.1 187.2L486.2 172.7L486.3 159.8L486.4 148.4L486.6 129.5L486.8 114.7L487.0 103.2L487.1 94.1L487.5 81.5L487.9 73.7L488.5 67.1L489.1 63.8L489.8 61.6L490.8 60.4L491.8 59.8L492.7 59.5L493.7 59.2L495.6 58.9L497.6 58.7L499.5 58.5L501.4 58.4L503.4 58.4L505.3 58.4L505.3 67.0L505.4 79.0L505.5 96.5L505.6 111.4L505.7 124.1L505.9 144.1L506.1 158.6L506.3 169.1L506.5 176.9L506.9 186.8L507.2 192.3L507.8 196.7L508.4 198.8L509.2 200.4L510.1 201.6L511.1 202.3L512.1 202.7L513.0 203.0L515.0 203.4L516.9 203.6L518.8 203.7L520.8 203.7L522.7 203.7L524.6 203.7L524.7 196.9L524.7 187.2L524.8 172.7L524.9 159.8L525.0 148.4L525.2 129.5L525.4 114.7L525.6 103.2L525.8 94.1L526.2 81.5L526.6 73.7L527.1 67.1L527.7 63.8L528.5 61.6L529.5 60.4L530.4 59.8L531.4 59.5L532.4 59.2L534.3 58.9L536.2 58.7L538.2 58.5L540.1 58.4L542.0 58.4L544.0 58.4L544.0 67.1L544.1 79.1L544.1 96.8L544.2 111.8L544.3 124.5L544.5 144.6L544.7 159.2L544.9 169.8L545.1 177.6L545.5 187.6L545.9 193.2L546.5 197.5L547.0 199.7L547.8 201.3L548.8 202.5L549.8 203.2L550.7 203.6L551.7 204.0L553.6 204.3L555.5 204.5L557.5 204.6L559.4 204.6L561.3 204.6L563.3 204.6L567.1 204.6L571.0 204.6L574.9 204.6L578.7 204.6L582.6 204.6" stroke="#e6655a"/>
<path d="M331.4 175.3L331.5 181.1L331.6 185.7L331.7 189.4L331.8 192.4L332.0 196.6L332.2 199.2L332.4 200.9L332.8 202.7L333.1 203.4L333.7 203.7L334.3 203.8L335.3 203.8L336.2 203.8L337.2 203.8L339.1 203.7L341.1 203.7L344.9 203.6L350.7 203.4L356.5 203.3L362.3 203.2L370.0 203.0L370.1 197.1L370.1 188.7L370.2 176.0L370.3 164.8L370.4 154.9L370.6 138.2L370.8 125.1L371.0 114.7L371.2 106.5L371.6 94.7L372.0 87.0L372.6 80.0L373.1 75.8L373.9 72.3L374.9 69.5L375.8 67.5L376.8 65.8L377.8 64.4L379.7 62.3L381.6 60.8L383.6 59.7L385.5 58.9L387.4 58.3L389.4 57.9L389.4 66.5L389.5 78.5L389.6 96.0L389.7 110.8L389.8 123.4L389.9 143.3L390.1 157.8L390.3 168.3L390.5 176.0L390.9 185.9L391.3 191.4L391.9 195.8L392.5 197.9L393.2 199.5L394.2 200.7L395.2 201.4L396.1 201.8L397.1 202.1L399.0 202.5L401.0 202.7L402.9 202.7L404.8 202.8L406.8 202.8L408.7 202.8L408.7 196.2L408.8 186.8L408.9 172.7L409.0 160.2L409.1 149.2L409.3 130.7L409.5 116.3L409.7 105.0L409.9 96.1L410.2 83.6L410.6 75.8L411.2 69.1L411.8 65.6L412.6 63.2L413.5 61.6L414.5 60.7L415.5 60.1L416.4 59.6L418.4 58.9L420.3 58.5L422.2 58.3L424.2 58.1L426.1 58.0L428.0 57.9L428.1 66.5L428.1 78.5L428.2 96.0L428.3 110.8L428.4 123.4L428.6 143.3L428.8 157.8L429.0 168.3L429.2 176.0L429.6 185.9L429.9 191.4L430.5 195.8L431.1 197.9L431.9 199.5L432.8 200.7L433.8 201.4L434.8 201.8L435.7 202.1L437.7 202.5L439.6 202.7L441.5 202.7L443.5 202.8L445.4 202.8L447.3 202.8L447.4 196.0L447.4 186.4L447.5 172.0L447.6 159.2L447.7 148.0L447.9 129.2L448.1 114.5L448.3 103.0L448.5 94.0L448.9 81.4L449.3 73.6L449.9 67.1L450.4 63.7L451.2 61.5L452.2 60.2L453.1 59.6L454.1 59.2L455.1 58.9L457.0 58.5L458.9 58.2L460.9 58.1L462.8 58.0L464.7 57.9L466.7 57.9L466.7 66.5L466.8 78.5L466.9 96.0L467.0 110.8L467.0 123.4L467.2 143.3L467.4 157.8L467.6 168.3L467.8 176.0L468.2 185.9L468.6 191.4L469.2 195.8L469.8 197.9L470.5 199.5L471.5 200.7L472.5 201.4L473.4 201.8L474.4 202.1L476.3 202.5L478.3 202.7L480.2 202.7L482.1 202.8L484.1 202.8L486.0 202.8L486.0 196.0L486.1 186.5L486.2 172.2L486.3 159.5L486.4 148.2L486.6 129.6L486.8 115.0L487.0 103.6L487.1 94.6L487.5 82.1L487.9 74.4L488.5 67.9L489.1 64.7L489.8 62.5L490.8 61.4L491.8 60.8L492.7 60.4L493.7 60.1L495.6 59.8L497.6 59.6L499.5 59.4L501.4 59.4L503.4 59.3L505.3 59.3L505.3 67.8L505.4 79.7L505.5 97.0L505.6 111.7L505.7 124.2L505.9 143.9L506.1 158.2L506.3 168.6L506.5 176.3L506.9 186.1L507.2 191.5L507.8 195.8L508.4 198.0L509.2 199.6L510.1 200.7L511.1 201.4L512.1 201.8L513.0 202.1L515.0 202.5L516.9 202.7L518.8 202.7L520.8 202.8L522.7 202.8L524.6 202.8L524.7 196.1L524.7 186.7L524.8 172.6L524.9 160.0L525.0 149.0L525.2 130.5L525.4 116.1L525.6 104.9L525.8 96.0L526.2 83.7L526.6 76.1L527.1 69.7L527.7 66.5L528.5 64.4L529.5 63.2L530.4 62.6L531.4 62.2L532.4 62.0L534.3 61.6L536.2 61.4L538.2 61.3L540.1 61.2L542.0 61.2L544.0 61.1L544.0 69.6L544.1 81.2L544.1 98.3L544.2 112.8L544.3 125.2L544.5 144.6L544.7 158.8L544.9 169.1L545.1 176.6L545.5 186.3L545.9 191.7L546.5 195.9L547.0 198.0L547.8 199.6L548.8 200.7L549.8 201.4L550.7 201.8L551.7 202.1L553.6 202.5L555.5 202.7L557.5 202.7L559.4 202.8L561.3 202.8L563.3 202.8L567.1 202.8L571.0 202.8L574.9 202.8L578.7 202.8L582.6 202.8" stroke="#3a48d8"/>
<path d="M331.4 175.3L331.5 181.1L331.6 185.7L331.7 189.4L331.8 192.4L332.0 196.6L332.2 199.2L332.4 200.9L332.8 202.7L333.1 203.4L333.7 203.7L334.3 203.8L335.3 203.8L336.2 203.8L337.2 203.8L339.1 203.7L341.1 203.7L344.9 203.6L350.7 203.4L356.5 203.3L362.3 203.2L370.0 203.0L370.1 197.4L370.1 189.4L370.2 177.4L370.3 166.8L370.4 157.4L370.6 141.6L370.8 129.2L371.0 119.4L371.2 111.6L371.6 100.5L372.0 93.4L372.6 86.9L373.1 83.2L373.9 80.1L374.9 77.7L375.8 76.0L376.8 74.6L377.8 73.4L379.7 71.6L381.6 70.4L383.6 69.5L385.5 68.8L387.4 68.3L389.4 68.0L389.4 76.1L389.5 87.3L389.6 103.6L389.7 117.5L389.8 129.4L389.9 148.0L390.1 161.5L390.3 171.4L390.5 178.6L390.9 187.9L391.3 193.1L391.9 197.1L392.5 199.2L393.2 200.6L394.2 201.7L395.2 202.4L396.1 202.8L397.1 203.1L399.0 203.4L401.0 203.6L402.9 203.7L404.8 203.7L406.8 203.7L408.7 203.7L408.7 197.4L408.8 188.5L408.9 175.1L409.0 163.2L409.1 152.8L409.3 135.3L409.5 121.6L409.7 110.9L409.9 102.5L410.2 90.7L410.6 83.3L411.2 77.1L411.8 73.8L412.6 71.6L413.5 70.2L414.5 69.4L415.5 68.9L416.4 68.5L418.4 67.9L420.3 67.6L422.2 67.4L424.2 67.2L426.1 67.1L428.0 67.1L428.1 75.2L428.1 86.5L428.2 103.0L428.3 117.0L428.4 128.9L428.6 147.6L428.8 161.3L429.0 171.2L429.2 178.5L429.6 187.8L429.9 193.0L430.5 197.1L431.1 199.1L431.9 200.6L432.8 201.7L433.8 202.4L434.8 202.8L435.7 203.1L437.7 203.4L439.6 203.6L441.5 203.7L443.5 203.7L445.4 203.7L447.3 203.7L447.4 197.3L447.4 188.3L447.5 174.6L447.6 162.6L447.7 152.0L447.9 134.2L448.1 120.4L448.3 109.6L448.5 101.1L448.9 89.3L449.3 82.0L449.9 75.9L450.4 72.8L451.2 70.9L452.2 69.8L453.1 69.3L454.1 68.9L455.1 68.7L457.0 68.4L458.9 68.2L460.9 68.1L462.8 68.1L464.7 68.0L466.7 68.0L466.7 76.1L466.8 87.4L466.9 103.9L467.0 117.9L467.0 129.8L467.2 148.5L467.4 162.2L467.6 172.1L467.8 179.4L468.2 188.7L468.6 193.9L469.2 198.0L469.8 200.0L470.5 201.5L471.5 202.6L472.5 203.3L473.4 203.7L474.4 204.0L476.3 204.3L478.3 204.5L480.2 204.6L482.1 204.6L484.1 204.6L486.0 204.6L486.0 198.3L486.1 189.3L486.2 175.8L486.3 163.9L486.4 153.3L486.6 135.8L486.8 122.1L487.0 111.4L487.1 103.0L487.5 91.3L487.9 84.1L488.5 78.1L489.1 75.2L489.8 73.3L490.8 72.3L491.8 71.8L492.7 71.5L493.7 71.4L495.6 71.1L497.6 71.0L499.5 70.9L501.4 70.8L503.4 70.8L505.3 70.8L505.3 78.7L505.4 89.8L505.5 105.9L505.6 119.6L505.7 131.3L505.9 149.7L506.1 163.0L506.3 172.8L506.5 179.9L506.9 189.0L507.2 194.1L507.8 198.1L508.4 200.1L509.2 201.6L510.1 202.6L511.1 203.3L512.1 203.7L513.0 204.0L515.0 204.3L516.9 204.5L518.8 204.6L520.8 204.6L522.7 204.6L524.6 204.6L524.7 198.3L524.7 189.3L524.8 175.8L524.9 163.9L525.0 153.3L525.2 135.8L525.4 122.1L525.6 111.4L525.8 103.0L526.2 91.3L526.6 84.1L527.1 78.1L527.7 75.2L528.5 73.3L529.5 72.3L530.4 71.8L531.4 71.5L532.4 71.4L534.3 71.1L536.2 71.0L538.2 70.9L540.1 70.8L542.0 70.8L544.0 70.8L544.0 78.8L544.1 90.0L544.1 106.4L544.2 120.3L544.3 132.1L544.5 150.8L544.7 164.3L544.9 174.2L545.1 181.4L545.5 190.6L545.9 195.8L546.5 199.9L547.0 201.9L547.8 203.4L548.8 204.5L549.8 205.1L550.7 205.5L551.7 205.8L553.6 206.2L555.5 206.3L557.5 206.4L559.4 206.4L561.3 206.5L563.3 206.5L567.1 206.5L571.0 206.5L574.9 206.5L578.7 206.5L582.6 206.5" stroke="#e05ae6"/>
<path d="M331.4 175.3L331.5 181.1L331.6 185.7L331.7 189.4L331.8 192.4L332.0 196.6L332.2 199.2L332.4 200.9L332.8 202.7L333.1 203.4L333.7 203.7L334.3 203.8L335.3 203.8L336.2 203.8L337.2 203.8L339.1 203.7L341.1 203.7L344.9 203.6L350.7 203.4L356.5 203.3L362.3 203.2L370.0 203.0L370.1 197.3L370.1 189.3L370.2 177.1L370.3 166.4L370.4 156.8L370.6 140.8L370.8 128.2L371.0 118.3L371.2 110.4L371.6 99.1L372.0 91.7L372.6 85.0L373.1 81.1L373.9 77.8L374.9 75.2L375.8 73.2L376.8 71.7L377.8 70.4L379.7 68.4L381.6 67.0L383.6 66.0L385.5 65.2L387.4 64.7L389.4 64.3L389.4 72.6L389.5 84.0L389.6 100.7L389.7 114.9L389.8 126.9L389.9 146.0L390.1 159.8L390.3 169.8L390.5 177.2L390.9 186.7L391.3 191.9L391.9 196.1L392.5 198.2L393.2 199.7L394.2 200.7L395.2 201.4L396.1 201.9L397.1 202.2L399.0 202.5L401.0 202.7L402.9 202.7L404.8 202.8L406.8 202.8L408.7 202.8L408.7 196.6L408.8 187.8L408.9 174.5L409.0 162.7L409.1 152.3L409.3 135.0L409.5 121.4L409.7 110.7L409.9 102.2L410.2 90.3L410.6 82.8L411.2 76.3L411.8 72.7L412.6 70.2L413.5 68.4L414.5 67.4L415.5 66.6L416.4 66.0L418.4 65.2L420.3 64.6L422.2 64.3L424.2 64.1L426.1 64.0L428.0 63.9L428.1 72.2L428.1 83.7L428.2 100.6L428.3 114.9L428.4 127.1L428.6 146.3L428.8 160.3L429.0 170.4L429.2 177.9L429.6 187.4L429.9 192.7L430.5 196.9L431.1 199.0L431.9 200.6L432.8 201.6L433.8 202.3L434.8 202.8L435.7 203.1L437.7 203.4L439.6 203.6L441.5 203.7L443.5 203.7L445.4 203.7L447.3 203.7L447.4 197.2L447.4 188.0L447.5 174.1L447.6 161.8L447.7 150.9L447.9 132.8L448.1 118.6L448.3 107.5L448.5 98.7L448.9 86.5L449.3 78.9L449.9 72.4L450.4 69.0L451.2 66.7L452.2 65.3L453.1 64.6L454.1 64.1L455.1 63.7L457.0 63.2L458.9 62.9L460.9 62.7L462.8 62.6L464.7 62.5L466.7 62.5L466.7 70.9L466.8 82.5L466.9 99.6L467.0 114.0L467.0 126.4L467.2 145.7L467.4 159.8L467.6 170.1L467.8 177.6L468.2 187.3L468.6 192.6L469.2 196.9L469.8 199.0L470.5 200.5L471.5 201.6L472.5 202.3L473.4 202.8L474.4 203.1L476.3 203.4L478.3 203.6L480.2 203.7L482.1 203.7L484.1 203.7L486.0 203.7L486.0 197.2L486.1 187.9L486.2 173.9L486.3 161.6L486.4 150.7L486.6 132.5L486.8 118.3L487.0 107.2L487.1 98.5L487.5 86.3L487.9 78.8L488.5 72.4L489.1 69.1L489.8 67.0L490.8 65.7L491.8 65.1L492.7 64.7L493.7 64.4L495.6 64.0L497.6 63.7L499.5 63.6L501.4 63.5L503.4 63.4L505.3 63.4L505.3 71.8L505.4 83.3L505.5 100.2L505.6 114.6L505.7 126.9L505.9 146.1L506.1 160.1L506.3 170.3L506.5 177.8L506.9 187.4L507.2 192.7L507.8 196.9L508.4 199.0L509.2 200.5L510.1 201.6L511.1 202.3L512.1 202.8L513.0 203.1L515.0 203.4L516.9 203.6L518.8 203.7L520.8 203.7L522.7 203.7L524.6 203.7L524.7 197.1L524.7 187.9L524.8 173.8L524.9 161.5L525.0 150.5L525.2 132.3L525.4 118.0L525.6 106.9L525.8 98.1L526.2 85.9L526.6 78.3L527.1 71.9L527.7 68.7L528.5 66.5L529.5 65.3L530.4 64.6L531.4 64.2L532.4 63.9L534.3 63.5L536.2 63.3L538.2 63.1L540.1 63.0L542.0 63.0L544.0 63.0L544.0 71.4L544.1 83.1L544.1 100.2L544.2 114.7L544.3 127.0L544.5 146.5L544.7 160.6L544.9 170.9L545.1 178.4L545.5 188.1L545.9 193.5L546.5 197.7L547.0 199.9L547.8 201.4L548.8 202.5L549.8 203.2L550.7 203.7L551.7 204.0L553.6 204.3L555.5 204.5L557.5 204.6L559.4 204.6L561.3 204.6L563.3 204.6L567.1 204.6L571.0 204.6L574.9 204.6L578.7 204.6L582.6 204.6" stroke="#45a04d"/>
<path d="M331.4 175.3L331.5 181.1L331.6 185.7L331.7 189.4L331.8 192.4L332.0 196.6L332.2 199.2L332.4 200.9L332.8 202.7L333.1 203.4L333.7 203.7L334.3 203.8L335.3 203.8L336.2 203.8L337.2 203.8L339.1 203.7L341.1 203.7L344.9 203.6L350.7 203.4L356.5 203.3L362.3 203.2L370.0 203.0L370.1 197.1L370.1 188.9L370.2 176.3L370.3 165.3L370.4 155.4L370.6 139.0L370.8 126.0L371.0 115.7L371.2 107.6L371.6 95.8L372.0 88.2L372.6 81.3L373.1 77.1L373.9 73.7L374.9 70.9L375.8 68.8L376.8 67.2L377.8 65.8L379.7 63.7L381.6 62.1L383.6 61.0L385.5 60.3L387.4 59.7L389.4 59.3L389.4 67.8L389.5 79.6L389.6 96.8L389.7 111.5L389.8 124.0L389.9 143.6L390.1 157.9L390.3 168.3L390.5 175.9L390.9 185.7L391.3 191.1L391.9 195.4L392.5 197.5L393.2 199.1L394.2 200.2L395.2 200.9L396.1 201.4L397.1 201.7L399.0 202.0L401.0 202.2L402.9 202.3L404.8 202.3L406.8 202.3L408.7 202.3L408.7 195.7L408.8 186.5L408.9 172.4L409.0 160.0L409.1 149.1L409.3 130.8L409.5 116.4L409.7 105.2L409.9 96.4L410.2 84.0L410.6 76.2L411.2 69.6L411.8 66.1L412.6 63.6L413.5 62.1L414.5 61.2L415.5 60.5L416.4 60.1L418.4 59.4L420.3 59.0L422.2 58.7L424.2 58.5L426.1 58.4L428.0 58.4L428.1 66.9L428.1 78.8L428.2 96.2L428.3 110.9L428.4 123.5L428.6 143.2L428.8 157.6L429.0 168.1L429.2 175.7L429.6 185.6L429.9 191.0L430.5 195.3L431.1 197.5L431.9 199.1L432.8 200.2L433.8 200.9L434.8 201.4L435.7 201.7L437.7 202.0L439.6 202.2L441.5 202.3L443.5 202.3L445.4 202.3L447.3 202.3L447.4 195.6L447.4 186.1L447.5 171.8L447.6 159.1L447.7 147.9L447.9 129.2L448.1 114.6L448.3 103.2L448.5 94.3L448.9 81.8L449.3 74.0L449.9 67.5L450.4 64.1L451.2 62.0L452.2 60.7L453.1 60.0L454.1 59.6L455.1 59.3L457.0 58.9L458.9 58.7L460.9 58.5L462.8 58.5L464.7 58.4L466.7 58.4L466.7 66.9L466.8 78.7L466.9 96.0L467.0 110.8L467.0 123.3L467.2 143.0L467.4 157.3L467.6 167.7L467.8 175.4L468.2 185.2L468.6 190.6L469.2 194.9L469.8 197.1L470.5 198.6L471.5 199.8L472.5 200.4L473.4 200.9L474.4 201.2L476.3 201.6L478.3 201.7L480.2 201.8L482.1 201.9L484.1 201.9L486.0 201.9L486.0 195.3L486.1 185.9L486.2 171.8L486.3 159.4L486.4 148.4L486.6 130.1L486.8 115.8L487.0 104.6L487.1 95.8L487.5 83.6L487.9 76.0L488.5 69.7L489.1 66.4L489.8 64.4L490.8 63.2L491.8 62.6L492.7 62.2L493.7 62.0L495.6 61.6L497.6 61.4L499.5 61.3L501.4 61.2L503.4 61.2L505.3 61.1L505.3 69.5L505.4 81.1L505.5 98.1L505.6 112.5L505.7 124.8L505.9 144.1L506.1 158.1L506.3 168.4L506.5 175.9L506.9 185.5L507.2 190.8L507.8 195.0L508.4 197.2L509.2 198.7L510.1 199.8L511.1 200.5L512.1 200.9L513.0 201.2L515.0 201.6L516.9 201.7L518.8 201.8L520.8 201.9L522.7 201.9L524.6 201.9L524.7 195.3L524.7 186.0L524.8 172.0L524.9 159.7L525.0 148.8L525.2 130.6L525.4 116.4L525.6 105.3L525.8 96.6L526.2 84.4L526.6 76.9L527.1 70.5L527.7 67.3L528.5 65.3L529.5 64.1L530.4 63.5L531.4 63.1L532.4 62.9L534.3 62.5L536.2 62.3L538.2 62.2L540.1 62.1L542.0 62.1L544.0 62.0L544.0 70.3L544.1 81.8L544.1 98.5L544.2 112.8L544.3 124.9L544.5 143.9L544.7 157.8L544.9 167.9L545.1 175.3L545.5 184.8L545.9 190.1L546.5 194.2L547.0 196.3L547.8 197.8L548.8 198.9L549.8 199.6L550.7 200.0L551.7 200.3L553.6 200.7L555.5 200.8L557.5 200.9L559.4 200.9L561.3 201.0L563.3 201.0L567.1 201.0L571.0 201.0L574.9 201.0L578.7 201.0L582.6 201.0" stroke="#26266e"/>
<path d="M331.4 175.3L331.5 181.1L331.6 185.7L331.7 189.4L331.8 192.4L332.0 196.6L332.2 199.2L332.4 200.9L332.8 202.7L333.1 203.4L333.7 203.7L334.3 203.8L335.3 203.8L336.2 203.8L337.2 203.8L339.1 203.7L341.1 203.7L344.9 203.6L350.7 203.4L356.5 203.3L362.3 203.2L370.0 203.0L370.1 195.7L370.1 185.5L370.2 170.1L370.3 156.4L370.4 144.3L370.6 124.2L370.8 108.4L371.0 96.0L371.2 86.2L371.6 72.5L372.0 63.9L372.6 56.5L373.1 52.6L373.9 49.8L374.9 48.1L375.8 47.0L376.8 46.3L377.8 45.8L379.7 45.1L381.6 44.7L383.6 44.5L385.5 44.3L387.4 44.2L389.4 44.2L389.4 53.6L389.5 66.5L389.6 85.6L389.7 101.7L389.8 115.5L389.9 137.1L390.1 152.9L390.3 164.3L390.5 172.7L390.9 183.5L391.3 189.5L391.9 194.2L392.5 196.6L393.2 198.3L394.2 199.5L395.2 200.3L396.1 200.8L397.1 201.2L399.0 201.5L401.0 201.7L402.9 201.8L404.8 201.8L406.8 201.9L408.7 201.9L408.7 194.5L408.8 184.1L408.9 168.4L409.0 154.5L409.1 142.3L409.3 121.9L409.5 106.0L409.7 93.6L409.9 83.9L410.2 70.3L410.6 61.9L411.2 54.9L411.8 51.3L412.6 48.9L413.5 47.4L414.5 46.5L415.5 45.8L416.4 45.2L418.4 44.1L420.3 43.2L422.2 42.3L424.2 41.6L426.1 41.0L428.0 40.5L428.1 50.1L428.1 63.4L428.2 82.9L428.3 99.4L428.4 113.5L428.6 135.6L428.8 151.7L429.0 163.5L429.2 172.1L429.6 183.1L429.9 189.2L430.5 194.0L431.1 196.5L431.9 198.2L432.8 199.5L433.8 200.3L434.8 200.8L435.7 201.1L437.7 201.5L439.6 201.7L441.5 201.8L443.5 201.8L445.4 201.9L447.3 201.9L447.4 194.2L447.4 183.3L447.5 167.0L447.6 152.5L447.7 139.7L447.9 118.5L448.1 101.8L448.3 88.8L448.5 78.7L448.9 64.4L449.3 55.7L449.9 48.3L450.4 44.6L451.2 42.3L452.2 41.1L453.1 40.5L454.1 40.2L455.1 40.0L457.0 39.8L458.9 39.7L460.9 39.6L462.8 39.6L464.7 39.6L466.7 39.6L466.7 49.2L466.8 62.6L466.9 82.2L467.0 98.8L467.0 113.0L467.2 135.3L467.4 151.4L467.6 163.2L467.8 171.9L468.2 183.0L468.6 189.2L469.2 194.0L469.8 196.4L470.5 198.2L471.5 199.5L472.5 200.3L473.4 200.8L474.4 201.1L476.3 201.5L478.3 201.7L480.2 201.8L482.1 201.8L484.1 201.9L486.0 201.9L486.0 194.2L486.1 183.3L486.2 166.8L486.3 152.3L486.4 139.5L486.6 118.1L486.8 101.5L487.0 88.4L487.1 78.2L487.5 64.0L487.9 55.3L488.5 48.0L489.1 44.3L489.8 42.1L490.8 40.9L491.8 40.4L492.7 40.1L493.7 40.0L495.6 39.8L497.6 39.7L499.5 39.6L501.4 39.6L503.4 39.6L505.3 39.6L505.3 49.2L505.4 62.5L505.5 81.9L505.6 98.5L505.7 112.6L505.9 134.7L506.1 150.8L506.3 162.5L506.5 171.1L506.9 182.2L507.2 188.3L507.8 193.1L508.4 195.6L509.2 197.3L510.1 198.6L511.1 199.4L512.1 199.9L513.0 200.2L515.0 200.6L516.9 200.8L518.8 200.9L520.8 200.9L522.7 201.0L524.6 201.0L524.7 193.3L524.7 182.6L524.8 166.3L524.9 152.0L525.0 139.3L525.2 118.2L525.4 101.7L525.6 88.8L525.8 78.8L526.2 64.7L526.6 56.0L527.1 48.8L527.7 45.2L528.5 43.0L529.5 41.8L530.4 41.3L531.4 41.0L532.4 40.9L534.3 40.7L536.2 40.6L538.2 40.5L540.1 40.5L542.0 40.5L544.0 40.5L544.0 50.0L544.1 63.1L544.1 82.4L544.2 98.7L544.3 112.6L544.5 134.6L544.7 150.5L544.9 162.1L545.1 170.6L545.5 181.4L545.9 187.5L546.5 192.3L547.0 194.7L547.8 196.4L548.8 197.7L549.8 198.5L550.7 199.0L551.7 199.3L553.6 199.7L555.5 199.9L557.5 200.0L559.4 200.0L561.3 200.0L563.3 200.0L567.1 200.0L571.0 200.0L574.9 200.0L578.7 200.0L582.6 200.0" stroke="#a278ec"/>
</g>
<text transform="translate(326.4,208.6) scale(0.920,1)" text-anchor="end" font-size="15.8" font-family='"Liberation Sans", sans-serif' fill="#000" stroke="#000" stroke-width="0.3">0.0</text>
<text transform="translate(326.4,162.8) scale(0.920,1)" text-anchor="end" font-size="15.8" font-family='"Liberation Sans", sans-serif' fill="#000" stroke="#000" stroke-width="0.3">0.5</text>
<text transform="translate(326.4,116.9) scale(0.920,1)" text-anchor="end" font-size="15.8" font-family='"Liberation Sans", sans-serif' fill="#000" stroke="#000" stroke-width="0.3">1.0</text>
<text transform="translate(326.4,71.0) scale(0.920,1)" text-anchor="end" font-size="15.8" font-family='"Liberation Sans", sans-serif' fill="#000" stroke="#000" stroke-width="0.3">1.5</text>
<text transform="translate(326.4,25.2) scale(0.920,1)" text-anchor="end" font-size="15.8" font-family='"Liberation Sans", sans-serif' fill="#000" stroke="#000" stroke-width="0.3">2.0</text>
<text transform="translate(331.4,240.6) scale(0.920,1)" text-anchor="middle" font-size="15.8" font-family='"Liberation Sans", sans-serif' fill="#000" stroke="#000" stroke-width="0.3">0</text>
<text transform="translate(370.0,240.6) scale(0.920,1)" text-anchor="middle" font-size="15.8" font-family='"Liberation Sans", sans-serif' fill="#000" stroke="#000" stroke-width="0.3">20</text>
<text transform="translate(408.7,240.6) scale(0.920,1)" text-anchor="middle" font-size="15.8" font-family='"Liberation Sans", sans-serif' fill="#000" stroke="#000" stroke-width="0.3">40</text>
<text transform="translate(447.3,240.6) scale(0.920,1)" text-anchor="middle" font-size="15.8" font-family='"Liberation Sans", sans-serif' fill="#000" stroke="#000" stroke-width="0.3">60</text>
<text transform="translate(486.0,240.6) scale(0.920,1)" text-anchor="middle" font-size="15.8" font-family='"Liberation Sans", sans-serif' fill="#000" stroke="#000" stroke-width="0.3">80</text>
<text transform="translate(524.6,240.6) scale(0.920,1)" text-anchor="middle" font-size="15.8" font-family='"Liberation Sans", sans-serif' fill="#000" stroke="#000" stroke-width="0.3">100</text>
<text transform="translate(563.3,240.6) scale(0.920,1)" text-anchor="middle" font-size="15.8" font-family='"Liberation Sans", sans-serif' fill="#000" stroke="#000" stroke-width="0.3">120</text>
<path d="M50.0 478.2V474.4M50.0 276.4V280.2M69.3 478.2V476.2M69.3 276.4V278.4M88.6 478.2V474.4M88.6 276.4V280.2M107.9 478.2V476.2M107.9 276.4V278.4M127.2 478.2V474.4M127.2 276.4V280.2M146.5 478.2V476.2M146.5 276.4V278.4M165.8 478.2V474.4M165.8 276.4V280.2M185.2 478.2V476.2M185.2 276.4V278.4M204.5 478.2V474.4M204.5 276.4V280.2M223.8 478.2V476.2M223.8 276.4V278.4M243.1 478.2V474.4M243.1 276.4V280.2M262.4 478.2V476.2M262.4 276.4V278.4M281.7 478.2V474.4M281.7 276.4V280.2M301.0 478.2V476.2M301.0 276.4V278.4M50.0 456.0H53.8M301.0 456.0H297.2M50.0 411.1H53.8M301.0 411.1H297.2M50.0 366.2H53.8M301.0 366.2H297.2M50.0 321.3H53.8M301.0 321.3H297.2M50.0 276.4H53.8M301.0 276.4H297.2M50.0 433.6H52.0M301.0 433.6H299.0M50.0 388.6H52.0M301.0 388.6H299.0M50.0 343.8H52.0M301.0 343.8H299.0M50.0 298.9H52.0M301.0 298.9H299.0" stroke="#2a2a2a" stroke-width="1.0" fill="none"/>
<rect x="50.0" y="276.4" width="251.0" height="201.8" fill="none" stroke="#5a5a5a" stroke-width="1.4"/>
<g fill="none" stroke-width="1.0" stroke-linejoin="round">
<path d="M50.0 431.3L50.1 432.9L50.2 434.4L50.3 435.7L50.4 437.0L50.6 439.3L50.8 441.3L51.0 443.0L51.4 445.8L51.7 448.0L52.3 450.2L52.9 451.7L53.9 453.1L54.8 453.8L55.8 454.2L57.7 454.5L59.7 454.6L63.5 454.8L69.3 455.1L75.1 455.4L80.9 455.6L88.6 456.0L88.7 452.7L88.7 448.1L88.8 441.0L88.9 434.6L89.0 428.8L89.2 418.9L89.4 410.9L89.6 404.3L89.8 398.9L90.2 390.7L90.5 385.0L91.1 379.4L91.7 375.8L92.5 372.5L93.4 369.8L94.4 367.7L95.4 366.1L96.3 364.7L98.3 362.6L100.2 361.1L102.1 360.1L104.1 359.3L106.0 358.7L107.9 358.3L108.0 361.7L108.0 366.6L108.1 374.0L108.2 380.6L108.3 386.6L108.5 396.9L108.7 405.3L108.9 412.1L109.1 417.8L109.5 426.2L109.9 432.0L110.4 437.8L111.0 441.4L111.8 444.6L112.8 447.1L113.7 449.0L114.7 450.4L115.6 451.5L117.6 453.1L119.5 454.2L121.4 455.0L123.4 455.4L125.3 455.8L127.2 456.0L127.3 452.3L127.3 447.1L127.4 439.1L127.5 431.9L127.6 425.4L127.8 414.2L128.0 405.2L128.2 397.8L128.4 391.8L128.8 382.7L129.2 376.4L129.7 370.3L130.3 366.4L131.1 363.0L132.1 360.1L133.0 358.1L134.0 356.4L135.0 355.1L136.9 353.0L138.8 351.5L140.7 350.4L142.7 349.6L144.6 349.1L146.5 348.7L146.6 352.4L146.6 357.8L146.7 366.0L146.8 373.3L146.9 380.0L147.1 391.3L147.3 400.6L147.5 408.2L147.7 414.4L148.1 423.7L148.5 430.1L149.0 436.5L149.6 440.5L150.4 444.0L151.4 446.8L152.3 448.9L153.3 450.4L154.3 451.6L156.2 453.5L158.1 454.7L160.1 455.5L162.0 456.0L163.9 456.4L165.8 456.6L165.9 451.8L165.9 445.0L166.0 434.6L166.1 425.3L166.2 417.0L166.4 402.8L166.6 391.3L166.8 382.1L167.0 374.7L167.4 363.8L167.8 356.7L168.4 350.2L168.9 346.5L169.7 343.8L170.7 342.1L171.6 341.0L172.6 340.3L173.6 339.7L175.5 338.8L177.4 338.2L179.4 337.7L181.3 337.4L183.2 337.2L185.2 337.0L185.2 341.2L185.3 347.1L185.3 356.2L185.4 364.5L185.5 371.8L185.7 384.5L185.9 394.8L186.1 403.3L186.3 410.2L186.7 420.6L187.1 427.7L187.7 434.8L188.2 439.3L189.0 443.2L190.0 446.3L190.9 448.6L191.9 450.3L192.9 451.7L194.8 453.7L196.7 455.1L198.7 456.0L200.6 456.6L202.5 457.0L204.5 457.2L204.5 452.2L204.6 445.0L204.7 434.0L204.8 424.2L204.8 415.4L205.0 400.4L205.2 388.3L205.4 378.6L205.6 370.8L206.0 359.4L206.4 352.0L207.0 345.3L207.6 341.6L208.3 339.0L209.3 337.4L210.3 336.4L211.2 335.8L212.2 335.3L214.1 334.6L216.0 334.1L218.0 333.8L219.9 333.5L221.8 333.3L223.8 333.2L223.8 337.5L223.9 343.7L224.0 353.1L224.1 361.6L224.2 369.3L224.3 382.4L224.5 393.0L224.7 401.8L224.9 408.9L225.3 419.7L225.7 427.1L226.3 434.4L226.9 439.1L227.6 443.1L228.6 446.4L229.6 448.7L230.5 450.5L231.5 451.9L233.4 454.0L235.4 455.4L237.3 456.3L239.2 457.0L241.1 457.4L243.1 457.7L243.1 452.6L243.2 445.3L243.3 434.2L243.4 424.2L243.5 415.3L243.7 400.2L243.8 388.0L244.0 378.2L244.2 370.3L244.6 358.8L245.0 351.3L245.6 344.5L246.2 340.8L246.9 338.1L247.9 336.5L248.9 335.5L249.8 334.9L250.8 334.4L252.7 333.7L254.7 333.2L256.6 332.9L258.5 332.6L260.5 332.4L262.4 332.3L262.4 336.7L262.5 343.0L262.6 352.5L262.7 361.2L262.8 368.9L263.0 382.3L263.2 393.1L263.4 402.0L263.5 409.3L263.9 420.2L264.3 427.7L264.9 435.2L265.5 439.9L266.2 444.0L267.2 447.3L268.2 449.7L269.1 451.5L270.1 452.9L272.0 455.1L274.0 456.5L275.9 457.4L277.8 458.1L279.8 458.5L281.7 458.8L285.6 459.1L289.4 459.3L293.3 459.3L297.1 459.3L301.0 459.4" stroke="#333333"/>
<path d="M50.0 431.3L50.1 432.9L50.2 434.4L50.3 435.7L50.4 437.0L50.6 439.3L50.8 441.3L51.0 443.0L51.4 445.8L51.7 448.0L52.3 450.2L52.9 451.7L53.9 453.1L54.8 453.8L55.8 454.2L57.7 454.5L59.7 454.6L63.5 454.8L69.3 455.1L75.1 455.4L80.9 455.6L88.6 456.0L88.7 451.2L88.7 444.3L88.8 433.8L88.9 424.4L89.0 415.9L89.2 401.5L89.4 389.8L89.6 380.3L89.8 372.7L90.2 361.4L90.5 353.8L91.1 346.7L91.7 342.4L92.5 339.1L93.4 336.6L94.4 334.9L95.4 333.6L96.3 332.6L98.3 331.0L100.2 329.9L102.1 329.1L104.1 328.5L106.0 328.1L107.9 327.8L108.0 332.2L108.0 338.6L108.1 348.2L108.2 356.9L108.3 364.8L108.5 378.2L108.7 389.2L108.9 398.1L109.1 405.4L109.5 416.5L109.9 424.1L110.4 431.6L111.0 436.4L111.8 440.5L112.8 443.8L113.7 446.2L114.7 448.1L115.6 449.5L117.6 451.7L119.5 453.1L121.4 454.1L123.4 454.7L125.3 455.1L127.2 455.4L127.3 450.2L127.3 442.9L127.4 431.7L127.5 421.7L127.6 412.7L127.8 397.5L128.0 385.2L128.2 375.4L128.4 367.5L128.8 356.0L129.2 348.5L129.7 341.8L130.3 338.2L131.1 335.7L132.1 334.2L133.0 333.4L134.0 332.9L135.0 332.6L136.9 332.0L138.8 331.6L140.7 331.4L142.7 331.2L144.6 331.1L146.5 331.0L146.6 335.3L146.6 341.5L146.7 351.0L146.8 359.6L146.9 367.3L147.1 380.6L147.3 391.3L147.5 400.1L147.7 407.4L148.1 418.2L148.5 425.7L149.0 433.1L149.6 437.8L150.4 441.8L151.4 445.2L152.3 447.5L153.3 449.3L154.3 450.7L156.2 452.9L158.1 454.3L160.1 455.2L162.0 455.8L163.9 456.3L165.8 456.5L165.9 451.8L165.9 445.0L166.0 434.6L166.1 425.3L166.2 416.9L166.4 402.7L166.6 391.3L166.8 382.0L167.0 374.6L167.4 363.6L167.8 356.4L168.4 349.8L168.9 346.0L169.7 343.2L170.7 341.2L171.6 340.0L172.6 339.1L173.6 338.4L175.5 337.4L177.4 336.6L179.4 336.1L181.3 335.7L183.2 335.4L185.2 335.2L185.2 339.5L185.3 345.5L185.3 354.7L185.4 363.1L185.5 370.6L185.7 383.4L185.9 393.9L186.1 402.4L186.3 409.5L186.7 420.0L187.1 427.3L187.7 434.5L188.2 439.0L189.0 442.9L190.0 446.2L190.9 448.4L191.9 450.2L192.9 451.6L194.8 453.6L196.7 455.0L198.7 455.9L200.6 456.5L202.5 457.0L204.5 457.2L204.5 452.2L204.6 444.9L204.7 433.9L204.8 424.1L204.8 415.2L205.0 400.3L205.2 388.2L205.4 378.6L205.6 370.8L206.0 359.6L206.4 352.3L207.0 345.9L207.6 342.5L208.3 340.2L209.3 338.9L210.3 338.3L211.2 337.9L212.2 337.6L214.1 337.3L216.0 337.0L218.0 336.9L219.9 336.7L221.8 336.6L223.8 336.6L223.8 340.8L223.9 346.8L224.0 355.9L224.1 364.2L224.2 371.7L224.3 384.4L224.5 394.8L224.7 403.3L224.9 410.3L225.3 420.7L225.7 428.0L226.3 435.1L226.9 439.6L227.6 443.5L228.6 446.7L229.6 449.0L230.5 450.7L231.5 452.1L233.4 454.1L235.4 455.5L237.3 456.4L239.2 457.0L241.1 457.4L243.1 457.7L243.1 452.7L243.2 445.5L243.3 434.7L243.4 424.9L243.5 416.2L243.7 401.4L243.8 389.5L244.0 379.9L244.2 372.3L244.6 361.2L245.0 354.0L245.6 347.6L246.2 344.2L246.9 341.9L247.9 340.7L248.9 340.1L249.8 339.7L250.8 339.4L252.7 339.1L254.7 338.8L256.6 338.6L258.5 338.5L260.5 338.4L262.4 338.4L262.4 342.5L262.5 348.5L262.6 357.6L262.7 365.8L262.8 373.3L263.0 385.9L263.2 396.3L263.4 404.7L263.5 411.6L263.9 422.1L264.3 429.3L264.9 436.3L265.5 440.8L266.2 444.7L267.2 447.9L268.2 450.1L269.1 451.9L270.1 453.2L272.0 455.3L274.0 456.6L275.9 457.5L277.8 458.1L279.8 458.5L281.7 458.8L285.6 459.1L289.4 459.3L293.3 459.3L297.1 459.3L301.0 459.4" stroke="#e6655a"/>
<path d="M50.0 431.3L50.1 432.9L50.2 434.4L50.3 435.7L50.4 437.0L50.6 439.3L50.8 441.3L51.0 443.0L51.4 445.8L51.7 448.0L52.3 450.2L52.9 451.7L53.9 453.1L54.8 453.8L55.8 454.2L57.7 454.5L59.7 454.6L63.5 454.8L69.3 455.1L75.1 455.4L80.9 455.6L88.6 456.0L88.7 451.3L88.7 444.7L88.8 434.5L88.9 425.3L89.0 417.1L89.2 403.1L89.4 391.8L89.6 382.6L89.8 375.2L90.2 364.2L90.5 356.8L91.1 349.8L91.7 345.7L92.5 342.4L93.4 339.9L94.4 338.3L95.4 337.0L96.3 336.0L98.3 334.4L100.2 333.3L102.1 332.5L104.1 331.9L106.0 331.5L107.9 331.2L108.0 335.5L108.0 341.6L108.1 351.1L108.2 359.5L108.3 367.2L108.5 380.3L108.7 390.9L108.9 399.6L109.1 406.8L109.5 417.5L109.9 424.9L110.4 432.2L111.0 436.9L111.8 440.9L112.8 444.2L113.7 446.5L114.7 448.3L115.6 449.7L117.6 451.8L119.5 453.2L121.4 454.1L123.4 454.7L125.3 455.1L127.2 455.4L127.3 450.5L127.3 443.6L127.4 433.0L127.5 423.4L127.6 414.9L127.8 400.4L128.0 388.8L128.2 379.4L128.4 371.8L128.8 360.8L129.2 353.6L129.7 347.1L130.3 343.5L131.1 341.0L132.1 339.4L133.0 338.5L134.0 337.8L135.0 337.4L136.9 336.6L138.8 336.1L140.7 335.8L142.7 335.5L144.6 335.4L146.5 335.2L146.6 339.4L146.6 345.4L146.7 354.6L146.8 362.9L146.9 370.4L147.1 383.2L147.3 393.6L147.5 402.1L147.7 409.0L148.1 419.5L148.5 426.8L149.0 433.9L149.6 438.4L150.4 442.4L151.4 445.6L152.3 447.8L153.3 449.6L154.3 451.0L156.2 453.0L158.1 454.4L160.1 455.3L162.0 455.9L163.9 456.3L165.8 456.6L165.9 451.4L165.9 444.1L166.0 432.9L166.1 423.0L166.2 414.0L166.4 398.8L166.6 386.6L166.8 376.9L167.0 369.0L167.4 357.6L167.8 350.3L168.4 343.7L168.9 340.3L169.7 337.9L170.7 336.6L171.6 336.0L172.6 335.7L173.6 335.4L175.5 335.0L177.4 334.8L179.4 334.6L181.3 334.5L183.2 334.4L185.2 334.3L185.2 338.6L185.3 344.7L185.3 354.0L185.4 362.4L185.5 369.9L185.7 382.9L185.9 393.4L186.1 402.0L186.3 409.1L186.7 419.7L187.1 427.1L187.7 434.3L188.2 438.9L189.0 442.8L190.0 446.1L190.9 448.4L191.9 450.1L192.9 451.6L194.8 453.6L196.7 455.0L198.7 455.9L200.6 456.5L202.5 457.0L204.5 457.2L204.5 452.2L204.6 445.1L204.7 434.2L204.8 424.4L204.8 415.6L205.0 400.8L205.2 388.9L205.4 379.3L205.6 371.7L206.0 360.5L206.4 353.3L207.0 346.9L207.6 343.5L208.3 341.3L209.3 340.0L210.3 339.4L211.2 339.0L212.2 338.8L214.1 338.4L216.0 338.2L218.0 338.0L219.9 337.8L221.8 337.8L223.8 337.7L223.8 341.9L223.9 347.8L224.0 356.9L224.1 365.1L224.2 372.4L224.3 385.1L224.5 395.4L224.7 403.8L224.9 410.7L225.3 421.1L225.7 428.2L226.3 435.3L226.9 439.8L227.6 443.6L228.6 446.8L229.6 449.1L230.5 450.8L231.5 452.1L233.4 454.2L235.4 455.5L237.3 456.4L239.2 457.0L241.1 457.4L243.1 457.7L243.1 452.8L243.2 445.8L243.3 435.1L243.4 425.5L243.5 417.0L243.7 402.5L243.8 390.8L244.0 381.4L244.2 373.9L244.6 363.0L245.0 356.0L245.6 349.7L246.2 346.4L246.9 344.2L247.9 342.9L248.9 342.3L249.8 341.9L250.8 341.7L252.7 341.3L254.7 341.1L256.6 340.9L258.5 340.8L260.5 340.7L262.4 340.6L262.4 344.7L262.5 350.6L262.6 359.5L262.7 367.6L262.8 374.8L263.0 387.3L263.2 397.4L263.4 405.7L263.5 412.5L263.9 422.8L264.3 429.8L264.9 436.8L265.5 441.2L266.2 445.0L267.2 448.1L268.2 450.3L269.1 452.0L270.1 453.4L272.0 455.3L274.0 456.7L275.9 457.6L277.8 458.2L279.8 458.6L281.7 458.8L285.6 459.1L289.4 459.3L293.3 459.3L297.1 459.3L301.0 459.4" stroke="#3a48d8"/>
<path d="M50.0 431.3L50.1 432.9L50.2 434.4L50.3 435.7L50.4 437.0L50.6 439.3L50.8 441.3L51.0 443.0L51.4 445.8L51.7 448.0L52.3 450.2L52.9 451.7L53.9 453.1L54.8 453.8L55.8 454.2L57.7 454.5L59.7 454.6L63.5 454.8L69.3 455.1L75.1 455.4L80.9 455.6L88.6 456.0L88.7 451.5L88.7 445.1L88.8 435.4L88.9 426.7L89.0 418.8L89.2 405.5L89.4 394.8L89.6 386.1L89.8 379.1L90.2 368.8L90.5 362.0L91.1 355.7L91.7 352.1L92.5 349.4L93.4 347.5L94.4 346.3L95.4 345.4L96.3 344.7L98.3 343.6L100.2 342.9L102.1 342.4L104.1 342.0L106.0 341.7L107.9 341.5L108.0 345.5L108.0 351.2L108.1 359.8L108.2 367.7L108.3 374.7L108.5 386.8L108.7 396.6L108.9 404.7L109.1 411.3L109.5 421.2L109.9 428.0L110.4 434.8L111.0 439.0L111.8 442.7L112.8 445.7L113.7 447.9L114.7 449.5L115.6 450.8L117.6 452.8L119.5 454.1L121.4 454.9L123.4 455.5L125.3 455.9L127.2 456.1L127.3 451.3L127.3 444.4L127.4 433.8L127.5 424.4L127.6 415.9L127.8 401.6L128.0 390.1L128.2 380.8L128.4 373.5L128.8 362.8L129.2 355.9L129.7 349.8L130.3 346.7L131.1 344.6L132.1 343.5L133.0 343.1L134.0 342.9L135.0 342.7L136.9 342.5L138.8 342.4L140.7 342.3L142.7 342.3L144.6 342.2L146.5 342.2L146.6 346.2L146.6 351.9L146.7 360.6L146.8 368.4L146.9 375.5L147.1 387.6L147.3 397.5L147.5 405.6L147.7 412.2L148.1 422.2L148.5 429.0L149.0 435.8L149.6 440.1L150.4 443.8L151.4 446.8L152.3 449.0L153.3 450.6L154.3 451.9L156.2 453.9L158.1 455.2L160.1 456.0L162.0 456.6L163.9 457.0L165.8 457.3L165.9 452.5L165.9 445.7L166.0 435.4L166.1 426.1L166.2 417.8L166.4 403.8L166.6 392.5L166.8 383.5L167.0 376.2L167.4 365.7L167.8 359.0L168.4 353.1L168.9 350.0L169.7 347.9L170.7 346.9L171.6 346.5L172.6 346.2L173.6 346.1L175.5 345.9L177.4 345.8L179.4 345.7L181.3 345.6L183.2 345.6L185.2 345.5L185.2 349.5L185.3 355.0L185.3 363.6L185.4 371.2L185.5 378.2L185.7 390.0L185.9 399.7L186.1 407.6L186.3 414.1L186.7 423.8L187.1 430.5L187.7 437.2L188.2 441.4L189.0 445.0L190.0 448.0L190.9 450.1L191.9 451.7L192.9 453.0L194.8 454.9L196.7 456.1L198.7 457.0L200.6 457.5L202.5 457.9L204.5 458.2L204.5 453.6L204.6 447.0L204.7 437.0L204.8 428.0L204.8 420.0L205.0 406.3L205.2 395.4L205.4 386.5L205.6 379.5L206.0 369.2L206.4 362.5L207.0 356.6L207.6 353.3L208.3 351.1L209.3 349.8L210.3 349.2L211.2 348.8L212.2 348.5L214.1 348.0L216.0 347.7L218.0 347.5L219.9 347.3L221.8 347.2L223.8 347.1L223.8 351.0L223.9 356.5L224.0 365.0L224.1 372.6L224.2 379.5L224.3 391.3L224.5 400.8L224.7 408.7L224.9 415.1L225.3 424.8L225.7 431.4L226.3 438.0L226.9 442.2L227.6 445.8L228.6 448.7L229.6 450.8L230.5 452.4L231.5 453.7L233.4 455.6L235.4 456.8L237.3 457.7L239.2 458.2L241.1 458.6L243.1 458.9L243.1 454.3L243.2 447.7L243.3 437.7L243.4 428.8L243.5 420.8L243.7 407.2L243.8 396.3L244.0 387.5L244.2 380.5L244.6 370.2L245.0 363.6L245.6 357.6L246.2 354.4L246.9 352.3L247.9 351.0L248.9 350.3L249.8 349.9L250.8 349.6L252.7 349.1L254.7 348.8L256.6 348.6L258.5 348.4L260.5 348.3L262.4 348.2L262.4 352.1L262.5 357.6L262.6 366.1L262.7 373.7L262.8 380.6L263.0 392.4L263.2 402.0L263.4 409.8L263.5 416.2L263.9 425.9L264.3 432.6L264.9 439.1L265.5 443.3L266.2 446.9L267.2 449.8L268.2 451.9L269.1 453.5L270.1 454.8L272.0 456.7L274.0 457.9L275.9 458.8L277.8 459.3L279.8 459.7L281.7 460.0L285.6 460.3L289.4 460.4L293.3 460.4L297.1 460.5L301.0 460.5" stroke="#e05ae6"/>
<path d="M50.0 431.3L50.1 432.9L50.2 434.4L50.3 435.7L50.4 437.0L50.6 439.3L50.8 441.3L51.0 443.0L51.4 445.8L51.7 448.0L52.3 450.2L52.9 451.7L53.9 453.1L54.8 453.8L55.8 454.2L57.7 454.5L59.7 454.6L63.5 454.8L69.3 455.1L75.1 455.4L80.9 455.6L88.6 456.0L88.7 451.6L88.7 445.4L88.8 436.0L88.9 427.5L89.0 419.8L89.2 406.8L89.4 396.3L89.6 387.8L89.8 380.9L90.2 370.7L90.5 363.8L91.1 357.4L91.7 353.7L92.5 350.6L93.4 348.4L94.4 346.9L95.4 345.8L96.3 344.9L98.3 343.5L100.2 342.5L102.1 341.7L104.1 341.2L106.0 340.9L107.9 340.6L108.0 344.6L108.0 350.3L108.1 359.0L108.2 366.8L108.3 373.9L108.5 386.0L108.7 395.8L108.9 403.9L109.1 410.5L109.5 420.4L109.9 427.3L110.4 434.0L111.0 438.3L111.8 442.0L112.8 445.1L113.7 447.2L114.7 448.8L115.6 450.2L117.6 452.1L119.5 453.4L121.4 454.2L123.4 454.8L125.3 455.2L127.2 455.5L127.3 450.8L127.3 444.1L127.4 433.9L127.5 424.7L127.6 416.6L127.8 402.6L128.0 391.4L128.2 382.4L128.4 375.1L128.8 364.6L129.2 357.6L129.7 351.4L130.3 347.9L131.1 345.4L132.1 343.8L133.0 342.9L134.0 342.3L135.0 341.8L136.9 341.1L138.8 340.6L140.7 340.3L142.7 340.0L144.6 339.8L146.5 339.7L146.6 343.8L146.6 349.6L146.7 358.4L146.8 366.4L146.9 373.6L147.1 385.9L147.3 395.9L147.5 404.1L147.7 410.8L148.1 420.9L148.5 427.9L149.0 434.8L149.6 439.1L150.4 442.9L151.4 446.0L152.3 448.2L153.3 449.8L154.3 451.2L156.2 453.1L158.1 454.5L160.1 455.3L162.0 455.9L163.9 456.3L165.8 456.6L165.9 451.9L165.9 445.3L166.0 435.2L166.1 426.1L166.2 417.9L166.4 404.1L166.6 392.9L166.8 383.9L167.0 376.7L167.4 366.1L167.8 359.1L168.4 352.7L168.9 349.1L169.7 346.5L170.7 344.8L171.6 343.7L172.6 343.0L173.6 342.4L175.5 341.5L177.4 340.9L179.4 340.4L181.3 340.1L183.2 339.9L185.2 339.7L185.2 343.8L185.3 349.6L185.3 358.5L185.4 366.5L185.5 373.8L185.7 386.1L185.9 396.2L186.1 404.5L186.3 411.2L186.7 421.4L187.1 428.4L187.7 435.3L188.2 439.7L189.0 443.5L190.0 446.6L190.9 448.8L191.9 450.5L192.9 451.8L194.8 453.8L196.7 455.1L198.7 456.0L200.6 456.6L202.5 457.0L204.5 457.3L204.5 452.4L204.6 445.5L204.7 434.9L204.8 425.5L204.8 417.0L205.0 402.7L205.2 391.1L205.4 381.9L205.6 374.4L206.0 363.6L206.4 356.6L207.0 350.4L207.6 347.0L208.3 344.7L209.3 343.4L210.3 342.7L211.2 342.3L212.2 341.9L214.1 341.5L216.0 341.2L218.0 341.0L219.9 340.8L221.8 340.7L223.8 340.6L223.8 344.7L223.9 350.5L224.0 359.3L224.1 367.3L224.2 374.5L224.3 386.9L224.5 396.9L224.7 405.1L224.9 411.9L225.3 422.0L225.7 429.0L226.3 435.9L226.9 440.2L227.6 444.0L228.6 447.1L229.6 449.3L230.5 451.0L231.5 452.3L233.4 454.3L235.4 455.6L237.3 456.5L239.2 457.0L241.1 457.4L243.1 457.7L243.1 452.9L243.2 446.0L243.3 435.5L243.4 426.1L243.5 417.6L243.7 403.3L243.8 391.9L244.0 382.6L244.2 375.2L244.6 364.4L245.0 357.5L245.6 351.2L246.2 347.9L246.9 345.6L247.9 344.3L248.9 343.6L249.8 343.2L250.8 342.8L252.7 342.4L254.7 342.1L256.6 341.9L258.5 341.7L260.5 341.6L262.4 341.5L262.4 345.6L262.5 351.4L262.6 360.3L262.7 368.3L262.8 375.5L263.0 387.8L263.2 397.9L263.4 406.1L263.5 412.9L263.9 423.0L264.3 430.0L264.9 436.9L265.5 441.3L266.2 445.1L267.2 448.2L268.2 450.4L269.1 452.1L270.1 453.4L272.0 455.4L274.0 456.7L275.9 457.6L277.8 458.2L279.8 458.6L281.7 458.8L285.6 459.1L289.4 459.3L293.3 459.3L297.1 459.3L301.0 459.4" stroke="#45a04d"/>
<path d="M50.0 431.3L50.1 432.9L50.2 434.4L50.3 435.7L50.4 437.0L50.6 439.3L50.8 441.3L51.0 443.0L51.4 445.8L51.7 448.0L52.3 450.2L52.9 451.7L53.9 453.1L54.8 453.8L55.8 454.2L57.7 454.5L59.7 454.6L63.5 454.8L69.3 455.1L75.1 455.4L80.9 455.6L88.6 456.0L88.7 451.6L88.7 445.3L88.8 435.6L88.9 427.0L89.0 419.2L89.2 405.9L89.4 395.2L89.6 386.5L89.8 379.5L90.2 369.0L90.5 362.0L91.1 355.3L91.7 351.4L92.5 348.2L93.4 345.8L94.4 344.1L95.4 342.8L96.3 341.8L98.3 340.2L100.2 339.1L102.1 338.3L104.1 337.7L106.0 337.3L107.9 337.0L108.0 341.1L108.0 347.0L108.1 356.0L108.2 364.0L108.3 371.3L108.5 383.8L108.7 394.0L108.9 402.3L109.1 409.1L109.5 419.3L109.9 426.4L110.4 433.4L111.0 437.8L111.8 441.6L112.8 444.7L113.7 446.9L114.7 448.6L115.6 450.0L117.6 452.0L119.5 453.3L121.4 454.2L123.4 454.8L125.3 455.2L127.2 455.5L127.3 450.3L127.3 443.0L127.4 431.9L127.5 422.0L127.6 413.1L127.8 397.9L128.0 385.8L128.2 376.0L128.4 368.1L128.8 356.7L129.2 349.3L129.7 342.6L130.3 339.0L131.1 336.6L132.1 335.1L133.0 334.3L134.0 333.8L135.0 333.5L136.9 332.9L138.8 332.5L140.7 332.3L142.7 332.1L144.6 332.0L146.5 331.9L146.6 336.2L146.6 342.4L146.7 351.8L146.8 360.3L146.9 368.0L147.1 381.1L147.3 391.8L147.5 400.6L147.7 407.7L148.1 418.5L148.5 425.9L149.0 433.3L149.6 437.9L150.4 441.9L151.4 445.2L152.3 447.6L153.3 449.4L154.3 450.8L156.2 452.9L158.1 454.3L160.1 455.2L162.0 455.8L163.9 456.3L165.8 456.5L165.9 451.3L165.9 443.9L166.0 432.6L166.1 422.4L166.2 413.3L166.4 397.9L166.6 385.6L166.8 375.7L167.0 367.8L167.4 356.3L167.8 348.9L168.4 342.4L168.9 339.0L169.7 336.8L170.7 335.7L171.6 335.2L172.6 335.0L173.6 334.9L175.5 334.7L177.4 334.6L179.4 334.5L181.3 334.4L183.2 334.4L185.2 334.3L185.2 338.6L185.3 344.7L185.3 354.0L185.4 362.4L185.5 369.9L185.7 382.9L185.9 393.4L186.1 402.0L186.3 409.1L186.7 419.7L187.1 427.1L187.7 434.3L188.2 438.9L189.0 442.8L190.0 446.1L190.9 448.4L191.9 450.1L192.9 451.6L194.8 453.6L196.7 455.0L198.7 455.9L200.6 456.5L202.5 457.0L204.5 457.2L204.5 452.2L204.6 445.1L204.7 434.2L204.8 424.4L204.8 415.6L205.0 400.8L205.2 388.9L205.4 379.3L205.6 371.7L206.0 360.5L206.4 353.3L207.0 346.9L207.6 343.5L208.3 341.3L209.3 340.0L210.3 339.4L211.2 339.0L212.2 338.8L214.1 338.4L216.0 338.2L218.0 338.0L219.9 337.8L221.8 337.8L223.8 337.7L223.8 341.9L223.9 347.8L224.0 356.9L224.1 365.1L224.2 372.4L224.3 385.1L224.5 395.4L224.7 403.8L224.9 410.7L225.3 421.1L225.7 428.2L226.3 435.3L226.9 439.8L227.6 443.6L228.6 446.8L229.6 449.1L230.5 450.8L231.5 452.1L233.4 454.2L235.4 455.5L237.3 456.4L239.2 457.0L241.1 457.4L243.1 457.7L243.1 452.8L243.2 445.9L243.3 435.3L243.4 425.8L243.5 417.3L243.7 402.9L243.8 391.3L244.0 382.1L244.2 374.6L244.6 363.8L245.0 356.8L245.6 350.6L246.2 347.3L246.9 345.0L247.9 343.8L248.9 343.2L249.8 342.8L250.8 342.6L252.7 342.2L254.7 342.0L256.6 341.8L258.5 341.7L260.5 341.6L262.4 341.5L262.4 345.6L262.5 351.4L262.6 360.3L262.7 368.3L262.8 375.5L263.0 387.8L263.2 397.9L263.4 406.1L263.5 412.9L263.9 423.0L264.3 430.0L264.9 436.9L265.5 441.3L266.2 445.1L267.2 448.2L268.2 450.4L269.1 452.1L270.1 453.4L272.0 455.4L274.0 456.7L275.9 457.6L277.8 458.2L279.8 458.6L281.7 458.8L285.6 459.1L289.4 459.3L293.3 459.3L297.1 459.3L301.0 459.4" stroke="#26266e"/>
<path d="M50.0 431.3L50.1 432.9L50.2 434.4L50.3 435.7L50.4 437.0L50.6 439.3L50.8 441.3L51.0 443.0L51.4 445.8L51.7 448.0L52.3 450.2L52.9 451.7L53.9 453.1L54.8 453.8L55.8 454.2L57.7 454.5L59.7 454.6L63.5 454.8L69.3 455.1L75.1 455.4L80.9 455.6L88.6 456.0L88.7 451.2L88.7 444.4L88.8 433.9L88.9 424.4L89.0 415.7L89.2 400.9L89.4 388.6L89.6 378.5L89.8 370.0L90.2 357.1L90.5 347.8L91.1 338.3L91.7 331.9L92.5 326.2L93.4 321.5L94.4 318.2L95.4 315.9L96.3 314.1L98.3 311.8L100.2 310.5L102.1 309.8L104.1 309.3L106.0 309.1L107.9 309.0L108.0 314.0L108.0 321.1L108.1 332.1L108.2 341.9L108.3 350.8L108.5 366.0L108.7 378.4L108.9 388.5L109.1 396.7L109.5 409.1L109.9 417.7L110.4 426.0L111.0 431.3L111.8 435.9L112.8 439.7L113.7 442.4L114.7 444.6L115.6 446.3L117.6 449.0L119.5 450.8L121.4 452.1L123.4 453.0L125.3 453.6L127.2 454.1L127.3 448.4L127.3 440.2L127.4 427.8L127.5 416.7L127.6 406.7L127.8 389.8L128.0 376.1L128.2 365.1L128.4 356.2L128.8 343.2L129.2 334.7L129.7 326.8L130.3 322.3L131.1 318.9L132.1 316.5L133.0 314.8L134.0 313.5L135.0 312.3L136.9 310.4L138.8 308.7L140.7 307.3L142.7 306.1L144.6 305.1L146.5 304.2L146.6 309.4L146.6 316.8L146.7 328.2L146.8 338.4L146.9 347.6L147.1 363.3L147.3 376.1L147.5 386.6L147.7 395.1L148.1 407.9L148.5 416.8L149.0 425.5L149.6 430.9L150.4 435.7L151.4 439.6L152.3 442.4L153.3 444.7L154.3 446.5L156.2 449.2L158.1 451.1L160.1 452.4L162.0 453.4L163.9 454.0L165.8 454.5L165.9 448.7L165.9 440.5L166.0 427.9L166.1 416.7L166.2 406.6L166.4 389.3L166.6 375.3L166.8 364.0L167.0 354.8L167.4 341.3L167.8 332.2L168.4 323.7L168.9 318.7L169.7 314.7L170.7 311.8L171.6 310.0L172.6 308.6L173.6 307.6L175.5 306.0L177.4 305.0L179.4 304.3L181.3 303.9L183.2 303.5L185.2 303.3L185.2 308.6L185.3 316.1L185.3 327.5L185.4 337.8L185.5 347.1L185.7 362.9L185.9 375.8L186.1 386.4L186.3 395.0L186.7 408.0L187.1 416.9L187.7 425.6L188.2 431.2L189.0 436.0L190.0 439.9L190.9 442.8L191.9 445.0L192.9 446.8L194.8 449.6L196.7 451.5L198.7 452.9L200.6 453.8L202.5 454.5L204.5 454.9L204.5 449.1L204.6 440.9L204.7 428.4L204.8 417.1L204.8 406.9L205.0 389.6L205.2 375.6L205.4 364.3L205.6 355.1L206.0 341.4L206.4 332.3L207.0 323.7L207.6 318.6L208.3 314.6L209.3 311.8L210.3 310.0L211.2 308.7L212.2 307.7L214.1 306.3L216.0 305.5L218.0 304.9L219.9 304.6L221.8 304.4L223.8 304.2L223.8 309.5L223.9 316.9L224.0 328.3L224.1 338.6L224.2 347.8L224.3 363.7L224.5 376.5L224.7 387.0L224.9 395.6L225.3 408.6L225.7 417.5L226.3 426.2L226.9 431.7L227.6 436.5L228.6 440.4L229.6 443.3L230.5 445.5L231.5 447.3L233.4 450.1L235.4 452.0L237.3 453.3L239.2 454.3L241.1 454.9L243.1 455.4L243.1 449.6L243.2 441.5L243.3 429.0L243.4 417.8L243.5 407.7L243.7 390.5L243.8 376.6L244.0 365.3L244.2 356.2L244.6 342.6L245.0 333.5L245.6 325.0L246.2 319.9L246.9 316.0L247.9 313.1L248.9 311.3L249.8 310.0L250.8 309.0L252.7 307.7L254.7 306.8L256.6 306.3L258.5 305.9L260.5 305.7L262.4 305.6L262.4 310.8L262.5 318.3L262.6 329.7L262.7 339.9L262.8 349.2L263.0 365.0L263.2 377.9L263.4 388.4L263.5 397.0L263.9 409.9L264.3 418.8L264.9 427.5L265.5 433.0L266.2 437.8L267.2 441.8L268.2 444.6L269.1 446.8L270.1 448.7L272.0 451.4L274.0 453.3L275.9 454.7L277.8 455.6L279.8 456.3L281.7 456.7L285.6 457.3L289.4 457.5L293.3 457.7L297.1 457.7L301.0 457.8" stroke="#a278ec"/>
</g>
<text transform="translate(45.0,461.8) scale(0.920,1)" text-anchor="end" font-size="15.8" font-family='"Liberation Sans", sans-serif' fill="#000" stroke="#000" stroke-width="0.3">0.0</text>
<text transform="translate(45.0,416.9) scale(0.920,1)" text-anchor="end" font-size="15.8" font-family='"Liberation Sans", sans-serif' fill="#000" stroke="#000" stroke-width="0.3">0.2</text>
<text transform="translate(45.0,372.0) scale(0.920,1)" text-anchor="end" font-size="15.8" font-family='"Liberation Sans", sans-serif' fill="#000" stroke="#000" stroke-width="0.3">0.4</text>
<text transform="translate(45.0,327.1) scale(0.920,1)" text-anchor="end" font-size="15.8" font-family='"Liberation Sans", sans-serif' fill="#000" stroke="#000" stroke-width="0.3">0.6</text>
<text transform="translate(45.0,282.2) scale(0.920,1)" text-anchor="end" font-size="15.8" font-family='"Liberation Sans", sans-serif' fill="#000" stroke="#000" stroke-width="0.3">0.8</text>
<text transform="translate(50.0,497.8) scale(0.920,1)" text-anchor="middle" font-size="15.8" font-family='"Liberation Sans", sans-serif' fill="#000" stroke="#000" stroke-width="0.3">0</text>
<text transform="translate(88.6,497.8) scale(0.920,1)" text-anchor="middle" font-size="15.8" font-family='"Liberation Sans", sans-serif' fill="#000" stroke="#000" stroke-width="0.3">20</text>
<text transform="translate(127.2,497.8) scale(0.920,1)" text-anchor="middle" font-size="15.8" font-family='"Liberation Sans", sans-serif' fill="#000" stroke="#000" stroke-width="0.3">40</text>
<text transform="translate(165.8,497.8) scale(0.920,1)" text-anchor="middle" font-size="15.8" font-family='"Liberation Sans", sans-serif' fill="#000" stroke="#000" stroke-width="0.3">60</text>
<text transform="translate(204.5,497.8) scale(0.920,1)" text-anchor="middle" font-size="15.8" font-family='"Liberation Sans", sans-serif' fill="#000" stroke="#000" stroke-width="0.3">80</text>
<text transform="translate(243.1,497.8) scale(0.920,1)" text-anchor="middle" font-size="15.8" font-family='"Liberation Sans", sans-serif' fill="#000" stroke="#000" stroke-width="0.3">100</text>
<text transform="translate(281.7,497.8) scale(0.920,1)" text-anchor="middle" font-size="15.8" font-family='"Liberation Sans", sans-serif' fill="#000" stroke="#000" stroke-width="0.3">120</text>
<path d="M331.4 478.2V474.4M331.4 276.4V280.2M350.7 478.2V476.2M350.7 276.4V278.4M370.0 478.2V474.4M370.0 276.4V280.2M389.4 478.2V476.2M389.4 276.4V278.4M408.7 478.2V474.4M408.7 276.4V280.2M428.0 478.2V476.2M428.0 276.4V278.4M447.3 478.2V474.4M447.3 276.4V280.2M466.7 478.2V476.2M466.7 276.4V278.4M486.0 478.2V474.4M486.0 276.4V280.2M505.3 478.2V476.2M505.3 276.4V278.4M524.6 478.2V474.4M524.6 276.4V280.2M544.0 478.2V476.2M544.0 276.4V278.4M563.3 478.2V474.4M563.3 276.4V280.2M582.6 478.2V476.2M582.6 276.4V278.4M331.4 439.3H335.2M582.6 439.3H578.8M331.4 374.0H335.2M582.6 374.0H578.8M331.4 308.7H335.2M582.6 308.7H578.8M331.4 471.9H333.4M582.6 471.9H580.6M331.4 406.7H333.4M582.6 406.7H580.6M331.4 341.4H333.4M582.6 341.4H580.6" stroke="#2a2a2a" stroke-width="1.0" fill="none"/>
<rect x="331.4" y="276.4" width="251.2" height="201.8" fill="none" stroke="#5a5a5a" stroke-width="1.4"/>
<g fill="none" stroke-width="1.0" stroke-linejoin="round">
<path d="M331.4 416.9L331.5 420.1L331.6 421.9L331.7 424.3L331.8 427.1L332.0 430.3L332.0 430.3L332.2 432.4L332.4 434.5L332.6 435.8L332.8 436.9L333.1 437.8L333.1 438.1L333.7 439.0L333.7 439.3L334.3 439.9L334.3 439.9L334.9 439.5L335.3 439.4L335.5 439.2L336.0 438.8L336.2 438.8L336.6 439.2L337.2 438.9L337.2 439.0L337.8 439.4L338.4 438.9L338.9 438.8L339.1 438.4L339.5 438.2L340.1 438.4L340.7 438.1L341.1 438.4L341.3 438.9L341.8 438.5L342.4 437.9L343.0 438.5L343.6 438.4L344.2 438.2L344.7 438.3L344.9 438.2L345.3 438.2L345.9 437.7L346.5 438.3L347.1 438.2L347.6 437.4L348.2 438.0L348.8 437.9L349.4 437.6L350.0 437.7L350.5 437.6L350.7 438.0L351.1 437.6L351.7 438.0L352.3 437.5L352.8 438.1L353.4 438.1L354.0 437.7L354.6 437.9L355.2 438.2L355.7 438.1L356.3 437.9L356.5 437.6L356.9 437.8L357.5 438.2L358.1 437.8L358.6 438.6L359.2 438.0L359.8 438.7L360.4 438.2L361.0 439.0L361.5 438.8L362.1 438.7L362.3 438.7L362.7 438.9L363.3 439.0L363.9 438.8L364.4 438.8L365.0 439.2L365.6 439.8L366.2 439.6L366.8 439.1L367.3 440.0L367.9 440.0L368.5 440.3L369.1 439.7L370.0 440.5L370.1 427.9L370.1 413.5L370.2 393.8L370.3 379.9L370.4 370.7L370.6 357.7L370.8 351.9L371.0 349.1L371.2 346.8L371.4 346.1L371.6 346.2L372.0 345.4L372.0 345.7L372.6 344.9L372.6 345.2L373.1 345.1L373.1 345.6L373.7 345.0L373.9 345.9L374.3 344.9L374.9 345.7L374.9 345.0L375.5 345.2L375.8 345.8L376.0 345.1L376.6 345.2L376.8 345.7L377.2 345.4L377.8 345.0L377.8 346.0L378.4 345.2L378.9 345.0L379.5 345.4L379.7 345.6L380.1 345.8L380.7 345.1L381.3 345.4L381.6 345.1L381.8 345.5L382.4 345.8L383.0 345.8L383.6 346.0L383.6 345.8L384.2 345.9L384.7 345.8L385.3 345.5L385.5 345.3L385.9 345.7L386.5 345.4L387.1 345.2L387.4 345.5L387.6 346.0L388.2 345.2L389.4 345.7L389.4 357.4L389.5 373.0L389.6 393.3L389.7 409.8L389.8 420.9L389.9 437.0L390.1 445.8L390.3 450.5L390.5 453.9L390.5 453.5L390.9 456.0L391.1 456.3L391.3 456.8L391.7 456.7L391.9 457.3L392.3 457.0L392.5 457.4L392.8 457.1L393.2 456.9L393.4 456.0L394.0 455.9L394.2 455.6L394.6 455.7L395.2 455.4L395.2 455.6L395.7 455.2L396.1 454.5L396.3 454.6L396.9 454.4L397.1 453.8L397.5 453.6L398.1 453.8L398.6 453.2L399.0 453.7L399.2 453.1L399.8 452.8L400.4 452.6L401.0 452.5L401.0 452.5L401.5 452.6L402.1 452.4L402.7 452.1L402.9 452.4L403.3 451.9L403.9 452.5L404.4 452.4L404.8 452.1L405.0 451.7L405.6 451.7L406.2 451.7L406.8 451.1L406.8 451.4L407.3 451.5L407.9 451.1L408.7 450.9L408.7 438.5L408.8 421.4L408.9 400.2L409.0 385.3L409.1 373.9L409.3 360.0L409.5 353.7L409.7 349.3L409.9 347.0L410.2 346.0L410.2 345.4L410.6 344.9L410.8 345.3L411.2 344.8L411.4 344.0L411.8 344.2L412.0 344.0L412.6 343.8L412.6 343.5L413.1 343.6L413.5 342.8L413.7 343.0L414.3 342.8L414.5 343.3L414.9 342.2L415.5 342.7L415.5 342.1L416.0 342.3L416.4 342.0L416.6 342.0L417.2 342.1L417.8 341.6L418.4 341.1L418.4 341.1L418.9 340.9L419.5 341.6L420.1 341.2L420.3 341.5L420.7 341.2L421.3 340.4L421.8 340.9L422.2 341.0L422.4 340.9L423.0 340.6L423.6 340.4L424.2 340.4L424.2 340.7L424.7 340.1L425.3 340.3L425.9 340.2L426.1 340.7L426.5 340.5L427.0 340.6L428.0 340.4L428.1 352.5L428.1 369.0L428.2 391.4L428.3 408.0L428.4 420.8L428.6 437.9L428.8 447.7L429.0 452.9L429.2 456.2L429.4 456.9L429.6 458.5L429.9 459.9L429.9 459.0L430.5 459.4L430.5 459.0L431.1 458.8L431.1 459.6L431.7 459.3L431.9 458.8L432.3 458.1L432.8 457.9L432.8 457.8L433.4 457.9L433.8 457.7L434.0 457.3L434.6 457.1L434.8 456.6L435.2 456.8L435.7 456.9L435.7 456.7L436.3 455.8L436.9 455.9L437.5 455.9L437.7 455.3L438.1 455.8L438.6 455.2L439.2 455.2L439.6 454.8L439.8 455.3L440.4 455.0L441.0 454.6L441.5 454.0L441.5 454.3L442.1 453.8L442.7 454.2L443.3 454.4L443.5 453.6L443.9 453.9L444.4 453.7L445.0 453.6L445.4 453.8L445.6 454.0L446.2 453.7L446.8 453.4L447.3 453.8L447.4 439.1L447.4 421.7L447.5 398.8L447.6 382.5L447.7 370.8L447.9 355.6L448.1 348.4L448.3 344.2L448.5 342.4L448.9 340.8L449.1 340.1L449.3 339.1L449.7 339.2L449.9 339.2L450.2 339.1L450.4 338.7L450.8 338.6L451.2 337.5L451.4 338.3L452.0 337.7L452.2 337.5L452.6 337.6L453.1 337.2L453.1 336.4L453.7 336.9L454.1 336.6L454.3 336.0L454.9 336.3L455.1 336.0L455.5 335.5L456.0 335.9L456.6 335.0L457.0 335.4L457.2 335.1L457.8 334.8L458.4 334.9L458.9 334.7L458.9 334.4L459.5 335.1L460.1 334.0L460.7 333.8L460.9 334.3L461.3 334.6L461.8 334.3L462.4 334.3L462.8 334.0L463.0 334.1L463.6 333.7L464.1 333.6L464.7 333.7L464.7 333.2L465.3 333.2L465.9 333.8L466.7 333.2L466.7 347.4L466.8 365.1L466.9 388.5L467.0 406.7L467.0 420.4L467.2 438.6L467.4 448.2L467.6 454.1L467.8 457.7L468.2 460.8L468.2 460.6L468.6 461.2L468.8 461.9L469.2 462.4L469.4 461.7L469.8 461.8L469.9 461.5L470.5 461.3L470.5 461.7L471.1 460.8L471.5 461.0L471.7 460.7L472.3 460.4L472.5 460.7L472.8 459.7L473.4 460.1L473.4 459.6L474.0 459.7L474.4 459.6L474.6 459.4L475.2 458.9L475.7 459.1L476.3 458.2L476.3 458.7L476.9 458.3L477.5 458.2L478.1 458.4L478.3 458.2L478.6 458.0L479.2 457.5L479.8 457.3L480.2 457.4L480.4 457.1L481.0 457.1L481.5 457.6L482.1 456.7L482.1 457.4L482.7 456.8L483.3 456.7L483.9 456.6L484.1 456.3L484.4 456.7L485.0 456.3L486.0 456.5L486.0 441.3L486.1 422.8L486.2 398.3L486.3 380.3L486.4 367.9L486.6 352.7L486.8 344.2L487.0 339.9L487.1 337.9L487.3 337.0L487.5 336.6L487.9 335.8L487.9 335.8L488.5 336.0L488.5 335.5L489.1 336.0L489.1 335.8L489.7 335.5L489.8 335.9L490.2 335.4L490.8 335.8L490.8 335.9L491.4 335.4L491.8 335.6L492.0 335.8L492.6 335.6L492.7 335.5L493.1 335.6L493.7 335.7L493.7 335.5L494.3 335.7L494.9 334.9L495.5 335.2L495.6 335.3L496.0 335.0L496.6 335.0L497.2 334.7L497.6 335.5L497.8 334.9L498.4 335.0L498.9 335.4L499.5 334.6L499.5 335.4L500.1 334.6L500.7 334.4L501.2 334.8L501.4 334.8L501.8 335.3L502.4 335.3L503.0 335.1L503.4 334.8L503.6 334.9L504.1 334.6L504.7 335.2L505.3 334.7L505.3 348.9L505.4 367.8L505.5 392.2L505.6 411.2L505.7 426.0L505.9 444.1L506.1 454.9L506.3 461.1L506.5 464.6L506.9 467.8L507.0 468.0L507.2 468.5L507.6 468.4L507.8 468.4L508.2 468.5L508.4 468.1L508.8 467.9L509.2 467.9L509.4 467.1L509.9 466.7L510.1 467.3L510.5 466.5L511.1 466.4L511.1 465.8L511.7 465.8L512.1 465.8L512.3 465.2L512.8 465.2L513.0 465.0L513.4 464.5L514.0 464.8L514.6 463.9L515.0 463.7L515.2 463.8L515.7 463.2L516.3 463.5L516.9 463.0L516.9 463.0L517.5 462.8L518.1 463.0L518.6 462.8L518.8 462.6L519.2 462.1L519.8 461.9L520.4 461.9L520.8 461.3L521.0 461.3L521.5 462.1L522.1 461.1L522.7 461.8L522.7 461.5L523.3 461.6L523.9 460.7L524.6 460.8L524.7 445.5L524.7 424.6L524.8 398.9L524.9 380.8L525.0 367.4L525.2 351.1L525.4 343.4L525.6 338.5L525.8 337.3L526.2 335.3L526.2 334.7L526.6 335.2L526.8 334.5L527.1 334.8L527.3 334.9L527.7 334.5L527.9 334.9L528.5 334.6L528.5 334.7L529.1 335.5L529.5 335.5L529.7 335.2L530.2 335.4L530.4 335.7L530.8 335.0L531.4 335.4L531.4 335.0L532.0 335.1L532.4 335.1L532.6 335.2L533.1 335.1L533.7 335.4L534.3 335.6L534.3 335.8L534.9 336.1L535.5 336.2L536.0 336.0L536.2 335.8L536.6 336.3L537.2 335.5L537.8 335.5L538.2 336.2L538.4 336.1L538.9 335.7L539.5 335.9L540.1 335.8L540.1 335.9L540.7 336.0L541.2 335.9L541.8 336.4L542.0 336.4L542.4 336.1L543.0 336.1L544.0 335.9L544.0 350.6L544.1 369.4L544.1 393.4L544.2 412.6L544.3 426.8L544.5 445.7L544.7 455.9L544.9 462.6L545.1 465.8L545.3 467.3L545.5 469.3L545.9 470.3L545.9 470.3L546.5 470.6L546.5 470.6L547.0 470.1L547.0 469.7L547.6 470.2L547.8 470.1L548.2 469.9L548.8 469.4L548.8 468.8L549.4 468.6L549.8 468.3L549.9 468.8L550.5 468.4L550.7 467.9L551.1 468.5L551.7 468.3L551.7 468.2L552.3 467.5L552.8 467.1L553.4 466.8L553.6 467.3L554.0 467.1L554.6 466.4L555.2 466.9L555.5 466.4L555.7 466.2L556.3 466.1L556.9 466.2L557.5 465.8L557.5 466.0L558.1 465.3L558.6 465.8L559.2 465.3L559.4 465.9L559.8 465.1L560.4 465.1L561.0 465.2L561.3 465.0L561.5 465.1L562.1 465.5L562.7 464.7L563.3 465.2L565.0 464.9L565.6 465.0L566.2 464.6L566.8 464.6L567.1 464.4L567.3 464.5L567.9 464.3L568.5 464.2L569.1 464.4L569.7 464.1L570.2 464.4L570.8 464.4L571.0 464.2L571.4 464.0L572.0 464.4L572.6 464.7L573.1 464.0L573.7 464.4L574.3 464.4L574.9 464.6L574.9 464.4L575.5 464.0L576.0 463.9L576.6 464.5L577.2 464.0L577.8 463.7L578.3 464.5L578.7 463.9L578.9 464.0L579.5 464.0L580.1 463.9L580.7 464.4L581.2 464.0L581.8 464.1L582.6 464.0" stroke="#333333"/>
<path d="M331.4 416.4L331.5 419.4L331.6 421.8L331.7 424.8L331.8 425.9L332.0 429.6L332.0 430.0L332.2 431.5L332.4 433.8L332.6 435.0L332.8 435.6L333.1 437.2L333.1 437.5L333.7 438.2L333.7 438.4L334.3 438.2L334.3 438.2L334.9 438.1L335.3 438.5L335.5 438.9L336.0 438.5L336.2 438.6L336.6 438.2L337.2 438.4L337.2 437.8L337.8 437.8L338.4 438.1L338.9 438.1L339.1 437.7L339.5 437.3L340.1 437.4L340.7 437.2L341.1 437.2L341.3 437.8L341.8 437.1L342.4 437.7L343.0 437.6L343.6 436.7L344.2 437.0L344.7 437.0L344.9 436.5L345.3 436.9L345.9 437.3L346.5 436.5L347.1 437.0L347.6 436.5L348.2 436.9L348.8 437.2L349.4 436.5L350.0 436.2L350.5 436.3L350.7 436.7L351.1 436.2L351.7 436.3L352.3 436.8L352.8 437.2L353.4 436.7L354.0 436.7L354.6 437.0L355.2 436.5L355.7 437.0L356.3 436.6L356.5 437.1L356.9 437.5L357.5 436.7L358.1 437.2L358.6 437.4L359.2 437.0L359.8 437.2L360.4 438.0L361.0 438.1L361.5 437.3L362.1 437.9L362.3 438.2L362.7 437.6L363.3 438.1L363.9 437.6L364.4 438.1L365.0 438.5L365.6 438.5L366.2 438.8L366.8 438.2L367.3 438.6L367.9 439.2L368.5 439.1L369.1 439.1L370.0 439.2L370.1 424.5L370.1 404.6L370.2 379.1L370.3 362.1L370.4 348.8L370.6 333.2L370.8 325.0L371.0 321.1L371.2 318.9L371.4 317.9L371.6 317.6L372.0 316.8L372.0 317.4L372.6 316.7L372.6 317.4L373.1 317.6L373.1 317.2L373.7 317.6L373.9 317.1L374.3 317.7L374.9 317.5L374.9 317.3L375.5 318.1L375.8 317.6L376.0 317.6L376.6 318.1L376.8 317.6L377.2 318.0L377.8 317.6L377.8 318.2L378.4 317.7L378.9 317.5L379.5 318.5L379.7 317.7L380.1 318.5L380.7 318.6L381.3 318.3L381.6 317.7L381.8 317.8L382.4 317.9L383.0 318.2L383.6 318.4L383.6 318.8L384.2 318.2L384.7 318.0L385.3 318.4L385.5 318.0L385.9 318.0L386.5 318.5L387.1 318.6L387.4 318.0L387.6 318.4L388.2 318.7L389.4 318.8L389.4 332.8L389.5 352.2L389.6 376.7L389.7 396.4L389.8 410.9L389.9 430.2L390.1 440.9L390.3 446.8L390.5 450.3L390.5 450.8L390.9 453.6L391.1 454.6L391.3 454.5L391.7 455.3L391.9 454.8L392.3 454.5L392.5 454.6L392.8 454.7L393.2 454.6L393.4 454.3L394.0 453.7L394.2 453.9L394.6 454.2L395.2 453.4L395.2 453.8L395.7 452.6L396.1 453.4L396.3 453.2L396.9 452.6L397.1 452.4L397.5 452.3L398.1 452.4L398.6 451.3L399.0 451.7L399.2 451.6L399.8 451.1L400.4 451.4L401.0 451.2L401.0 450.5L401.5 451.0L402.1 450.6L402.7 450.5L402.9 450.6L403.3 449.9L403.9 450.3L404.4 450.0L404.8 450.4L405.0 449.7L405.6 450.2L406.2 450.0L406.8 449.8L406.8 450.1L407.3 449.2L407.9 449.6L408.7 449.6L408.7 433.4L408.8 412.5L408.9 385.8L409.0 367.0L409.1 353.9L409.3 336.9L409.5 328.3L409.7 324.3L409.9 322.3L410.2 320.8L410.2 320.3L410.6 320.8L410.8 320.5L411.2 321.0L411.4 320.4L411.8 321.5L412.0 321.2L412.6 321.9L412.6 321.9L413.1 322.0L413.5 321.4L413.7 321.7L414.3 321.8L414.5 322.4L414.9 322.0L415.5 322.2L415.5 322.1L416.0 322.3L416.4 323.2L416.6 323.3L417.2 322.8L417.8 323.3L418.4 323.2L418.4 323.2L418.9 323.2L419.5 323.6L420.1 323.3L420.3 323.3L420.7 323.6L421.3 323.4L421.8 323.7L422.2 324.3L422.4 323.4L423.0 323.5L423.6 324.3L424.2 323.6L424.2 323.8L424.7 324.5L425.3 324.3L425.9 323.9L426.1 323.8L426.5 324.0L427.0 324.1L428.0 324.7L428.1 339.0L428.1 357.3L428.2 382.1L428.3 400.9L428.4 415.0L428.6 433.8L428.8 444.6L429.0 449.9L429.2 453.6L429.4 455.1L429.6 457.0L429.9 457.8L429.9 457.6L430.5 458.3L430.5 457.8L431.1 457.4L431.1 457.5L431.7 457.3L431.9 457.4L432.3 457.1L432.8 456.6L432.8 456.4L433.4 456.2L433.8 455.9L434.0 455.7L434.6 455.7L434.8 455.3L435.2 455.6L435.7 455.2L435.7 454.7L436.3 454.9L436.9 454.4L437.5 454.2L437.7 454.3L438.1 454.3L438.6 454.2L439.2 453.9L439.6 453.2L439.8 453.5L440.4 453.1L441.0 452.7L441.5 453.0L441.5 453.0L442.1 453.2L442.7 452.5L443.3 452.9L443.5 452.6L443.9 452.1L444.4 452.6L445.0 452.1L445.4 452.3L445.6 451.8L446.2 451.6L446.8 452.5L447.3 451.5L447.4 435.9L447.4 415.9L447.5 390.3L447.6 372.7L447.7 359.7L447.9 343.3L448.1 334.9L448.3 331.2L448.5 328.8L448.9 327.0L449.1 327.4L449.3 327.0L449.7 327.0L449.9 327.1L450.2 327.3L450.4 327.2L450.8 327.8L451.2 328.3L451.4 328.1L452.0 327.8L452.2 328.5L452.6 328.0L453.1 328.7L453.1 329.0L453.7 329.0L454.1 329.4L454.3 329.3L454.9 329.0L455.1 328.9L455.5 329.3L456.0 329.7L456.6 329.4L457.0 329.6L457.2 330.0L457.8 329.7L458.4 330.1L458.9 330.1L458.9 330.5L459.5 329.7L460.1 330.0L460.7 330.6L460.9 330.5L461.3 330.0L461.8 330.1L462.4 330.3L462.8 330.6L463.0 331.0L463.6 330.4L464.1 330.4L464.7 331.0L464.7 330.7L465.3 331.2L465.9 331.3L466.7 331.3L466.7 344.8L466.8 362.5L466.9 386.1L467.0 404.9L467.0 418.2L467.2 436.5L467.4 447.2L467.6 453.5L467.8 456.5L468.2 459.9L468.2 459.9L468.6 459.9L468.8 460.3L469.2 460.9L469.4 460.7L469.8 460.8L469.9 459.9L470.5 460.0L470.5 460.4L471.1 459.7L471.5 459.6L471.7 459.8L472.3 458.7L472.5 458.5L472.8 459.1L473.4 458.5L473.4 458.1L474.0 458.5L474.4 457.8L474.6 457.5L475.2 457.5L475.7 457.0L476.3 457.1L476.3 457.5L476.9 457.0L477.5 457.3L478.1 456.2L478.3 456.2L478.6 456.1L479.2 456.4L479.8 455.9L480.2 456.2L480.4 456.1L481.0 456.0L481.5 456.1L482.1 456.0L482.1 456.1L482.7 455.2L483.3 455.4L483.9 455.9L484.1 455.3L484.4 455.1L485.0 455.2L486.0 454.8L486.0 440.1L486.1 420.3L486.2 394.7L486.3 377.6L486.4 364.3L486.6 348.2L486.8 340.5L487.0 336.7L487.1 334.0L487.3 332.8L487.5 332.2L487.9 331.7L487.9 332.2L488.5 332.0L488.5 332.5L489.1 332.0L489.1 331.8L489.7 332.3L489.8 332.0L490.2 332.3L490.8 332.3L490.8 332.2L491.4 332.8L491.8 333.1L492.0 332.6L492.6 332.9L492.7 332.6L493.1 333.3L493.7 333.0L493.7 332.4L494.3 333.2L494.9 332.7L495.5 332.6L495.6 332.6L496.0 333.4L496.6 333.4L497.2 333.0L497.6 333.3L497.8 333.4L498.4 332.8L498.9 333.5L499.5 333.5L499.5 333.8L500.1 332.9L500.7 333.4L501.2 333.4L501.4 333.7L501.8 333.3L502.4 333.6L503.0 333.8L503.4 333.3L503.6 333.5L504.1 333.9L504.7 333.0L505.3 334.0L505.3 347.5L505.4 366.1L505.5 390.7L505.6 409.8L505.7 423.7L505.9 442.7L506.1 452.7L506.3 459.6L506.5 463.0L506.9 465.8L507.0 465.7L507.2 466.1L507.6 466.3L507.8 465.9L508.2 466.6L508.4 465.9L508.8 466.2L509.2 465.1L509.4 465.4L509.9 465.1L510.1 464.8L510.5 464.2L511.1 463.4L511.1 463.8L511.7 463.4L512.1 463.6L512.3 463.5L512.8 463.1L513.0 463.0L513.4 462.0L514.0 461.6L514.6 461.5L515.0 461.0L515.2 461.0L515.7 461.2L516.3 460.6L516.9 460.7L516.9 460.5L517.5 460.2L518.1 460.7L518.6 459.7L518.8 460.3L519.2 459.9L519.8 459.9L520.4 459.2L520.8 459.7L521.0 459.8L521.5 459.0L522.1 459.1L522.7 459.2L522.7 459.0L523.3 459.2L523.9 459.0L524.6 458.5L524.7 443.4L524.7 423.9L524.8 398.4L524.9 380.6L525.0 367.7L525.2 351.7L525.4 343.2L525.6 339.4L525.8 337.7L526.2 336.0L526.2 335.4L526.6 335.4L526.8 335.5L527.1 335.5L527.3 335.1L527.7 335.7L527.9 335.8L528.5 335.7L528.5 336.1L529.1 335.8L529.5 335.3L529.7 335.6L530.2 336.1L530.4 335.5L530.8 336.5L531.4 336.3L531.4 336.3L532.0 335.8L532.4 335.7L532.6 336.6L533.1 336.2L533.7 336.2L534.3 336.4L534.3 336.6L534.9 336.3L535.5 336.7L536.0 336.1L536.2 337.0L536.6 336.7L537.2 336.3L537.8 336.5L538.2 337.0L538.4 336.4L538.9 336.8L539.5 337.0L540.1 337.1L540.1 336.4L540.7 337.0L541.2 336.8L541.8 337.0L542.0 336.3L542.4 336.7L543.0 336.7L544.0 337.1L544.0 350.5L544.1 368.2L544.1 392.4L544.2 411.3L544.3 425.2L544.5 443.2L544.7 453.2L544.9 459.9L545.1 463.4L545.3 464.4L545.5 466.1L545.9 466.8L545.9 466.6L546.5 467.4L546.5 466.9L547.0 466.6L547.0 467.4L547.6 466.3L547.8 466.9L548.2 466.7L548.8 465.8L548.8 465.9L549.4 465.5L549.8 465.7L549.9 465.9L550.5 465.4L550.7 465.0L551.1 464.9L551.7 464.5L551.7 464.8L552.3 464.1L552.8 463.8L553.4 464.1L553.6 463.5L554.0 464.1L554.6 463.7L555.2 463.0L555.5 462.7L555.7 463.2L556.3 462.6L556.9 462.8L557.5 462.7L557.5 462.9L558.1 462.4L558.6 462.4L559.2 462.6L559.4 461.9L559.8 462.0L560.4 462.4L561.0 461.9L561.3 462.4L561.5 461.5L562.1 461.4L562.7 461.6L563.3 461.7L565.0 461.4L565.6 461.2L566.2 461.4L566.8 461.8L567.1 461.8L567.3 461.5L567.9 461.1L568.5 461.4L569.1 460.9L569.7 460.8L570.2 461.5L570.8 460.9L571.0 460.8L571.4 461.5L572.0 460.8L572.6 460.8L573.1 460.7L573.7 461.5L574.3 461.2L574.9 460.7L574.9 460.6L575.5 461.4L576.0 460.6L576.6 461.2L577.2 461.2L577.8 461.1L578.3 460.9L578.7 460.9L578.9 460.7L579.5 461.1L580.1 460.6L580.7 460.9L581.2 460.7L581.8 460.8L582.6 461.3" stroke="#e6655a"/>
<path d="M331.4 416.3L331.5 419.3L331.6 421.7L331.7 423.9L331.8 425.7L332.0 429.0L332.0 428.6L332.2 431.2L332.4 432.3L332.6 433.6L332.8 434.8L333.1 435.8L333.1 436.4L333.7 436.8L333.7 437.2L334.3 437.7L334.3 437.0L334.9 437.6L335.3 437.5L335.5 437.4L336.0 436.6L336.2 437.0L336.6 437.1L337.2 436.7L337.2 436.6L337.8 436.6L338.4 436.4L338.9 436.8L339.1 436.3L339.5 436.3L340.1 436.5L340.7 436.7L341.1 436.0L341.3 435.7L341.8 436.5L342.4 436.3L343.0 436.2L343.6 435.9L344.2 435.5L344.7 435.3L344.9 435.5L345.3 435.6L345.9 435.2L346.5 435.8L347.1 435.8L347.6 435.0L348.2 435.8L348.8 435.5L349.4 435.9L350.0 435.4L350.5 435.7L350.7 435.3L351.1 435.5L351.7 435.4L352.3 435.0L352.8 435.1L353.4 435.2L354.0 435.4L354.6 435.4L355.2 435.6L355.7 435.8L356.3 435.6L356.5 435.5L356.9 435.7L357.5 436.3L358.1 436.2L358.6 436.1L359.2 436.4L359.8 435.8L360.4 435.8L361.0 435.9L361.5 436.0L362.1 435.9L362.3 436.6L362.7 437.0L363.3 436.3L363.9 437.0L364.4 437.3L365.0 437.3L365.6 436.8L366.2 437.4L366.8 437.1L367.3 437.1L367.9 437.1L368.5 437.7L369.1 438.2L370.0 437.6L370.1 423.2L370.1 405.1L370.2 381.3L370.3 364.9L370.4 353.2L370.6 338.1L370.8 330.1L371.0 326.2L371.2 324.4L371.4 324.1L371.6 323.7L372.0 322.9L372.0 322.5L372.6 322.5L372.6 322.7L373.1 322.5L373.1 322.5L373.7 322.9L373.9 323.3L374.3 322.8L374.9 323.5L374.9 323.5L375.5 323.1L375.8 322.9L376.0 322.9L376.6 323.4L376.8 323.6L377.2 323.6L377.8 323.0L377.8 323.2L378.4 322.9L378.9 323.2L379.5 323.2L379.7 323.1L380.1 323.0L380.7 324.0L381.3 323.3L381.6 323.5L381.8 323.6L382.4 323.5L383.0 323.7L383.6 323.6L383.6 323.6L384.2 323.2L384.7 323.8L385.3 323.8L385.5 323.9L385.9 323.5L386.5 323.6L387.1 324.0L387.4 323.9L387.6 323.2L388.2 323.5L389.4 323.4L389.4 337.6L389.5 355.1L389.6 378.9L389.7 396.8L389.8 410.7L389.9 429.1L390.1 439.4L390.3 444.9L390.5 448.4L390.5 448.7L390.9 451.1L391.1 452.4L391.3 451.9L391.7 452.6L391.9 452.2L392.3 452.9L392.5 452.5L392.8 451.9L393.2 451.9L393.4 452.2L394.0 451.8L394.2 451.5L394.6 451.3L395.2 451.0L395.2 451.2L395.7 450.5L396.1 450.4L396.3 450.5L396.9 449.9L397.1 449.5L397.5 449.7L398.1 449.2L398.6 449.4L399.0 449.2L399.2 449.3L399.8 448.3L400.4 448.0L401.0 448.8L401.0 448.6L401.5 448.7L402.1 448.3L402.7 448.3L402.9 447.5L403.3 447.4L403.9 447.7L404.4 447.7L404.8 447.0L405.0 447.8L405.6 447.0L406.2 446.9L406.8 447.0L406.8 446.8L407.3 446.6L407.9 446.5L408.7 446.4L408.7 431.4L408.8 412.7L408.9 388.2L409.0 370.6L409.1 357.6L409.3 342.5L409.5 333.9L409.7 330.6L409.9 328.1L410.2 326.3L410.2 326.5L410.6 326.0L410.8 326.5L411.2 326.2L411.4 325.8L411.8 326.1L412.0 326.0L412.6 327.0L412.6 326.4L413.1 326.9L413.5 326.8L413.7 326.6L414.3 327.0L414.5 326.9L414.9 326.4L415.5 327.4L415.5 326.8L416.0 327.1L416.4 326.9L416.6 327.5L417.2 326.8L417.8 326.7L418.4 326.7L418.4 327.1L418.9 327.6L419.5 327.2L420.1 327.8L420.3 327.0L420.7 327.8L421.3 327.1L421.8 327.8L422.2 327.1L422.4 327.5L423.0 327.6L423.6 328.0L424.2 327.4L424.2 327.9L424.7 327.1L425.3 328.0L425.9 327.6L426.1 327.6L426.5 328.1L427.0 327.4L428.0 327.8L428.1 341.3L428.1 358.9L428.2 382.5L428.3 400.7L428.4 414.2L428.6 432.6L428.8 442.7L429.0 448.3L429.2 452.3L429.4 454.0L429.6 455.2L429.9 455.7L429.9 455.7L430.5 456.5L430.5 456.0L431.1 456.0L431.1 455.4L431.7 455.8L431.9 455.7L432.3 454.9L432.8 454.5L432.8 454.9L433.4 454.8L433.8 454.4L434.0 453.6L434.6 453.3L434.8 454.0L435.2 453.3L435.7 453.6L435.7 453.1L436.3 453.2L436.9 452.3L437.5 452.8L437.7 452.2L438.1 451.6L438.6 451.6L439.2 451.3L439.6 451.5L439.8 452.0L440.4 451.8L441.0 451.6L441.5 450.9L441.5 451.3L442.1 451.1L442.7 451.1L443.3 451.1L443.5 450.9L443.9 450.8L444.4 450.2L445.0 450.0L445.4 450.2L445.6 450.0L446.2 450.4L446.8 449.7L447.3 449.7L447.4 434.7L447.4 414.2L447.5 388.8L447.6 370.6L447.7 357.6L447.9 341.7L448.1 334.2L448.3 329.6L448.5 327.3L448.9 326.1L449.1 325.8L449.3 325.3L449.7 325.4L449.9 325.6L450.2 325.8L450.4 325.6L450.8 326.0L451.2 326.1L451.4 326.6L452.0 326.4L452.2 326.2L452.6 326.1L453.1 326.2L453.1 326.4L453.7 327.1L454.1 327.2L454.3 326.4L454.9 326.9L455.1 327.1L455.5 327.3L456.0 327.2L456.6 327.1L457.0 326.6L457.2 326.8L457.8 327.6L458.4 327.6L458.9 327.6L458.9 327.1L459.5 327.6L460.1 327.6L460.7 327.3L460.9 327.2L461.3 327.4L461.8 327.5L462.4 327.0L462.8 327.0L463.0 328.0L463.6 327.4L464.1 327.5L464.7 327.7L464.7 327.6L465.3 327.8L465.9 327.6L466.7 327.2L466.7 341.0L466.8 359.3L466.9 383.6L467.0 402.6L467.0 415.9L467.2 434.0L467.4 445.2L467.6 450.8L467.8 454.3L468.2 457.6L468.2 457.7L468.6 458.1L468.8 458.3L469.2 458.1L469.4 458.9L469.8 458.7L469.9 458.6L470.5 457.7L470.5 458.1L471.1 457.6L471.5 457.1L471.7 457.1L472.3 457.4L472.5 457.1L472.8 456.9L473.4 456.1L473.4 456.6L474.0 456.6L474.4 455.7L474.6 455.7L475.2 456.1L475.7 455.2L476.3 455.2L476.3 455.7L476.9 455.3L477.5 454.7L478.1 454.5L478.3 454.4L478.6 454.1L479.2 454.4L479.8 453.9L480.2 453.9L480.4 454.4L481.0 453.6L481.5 453.4L482.1 453.3L482.1 453.9L482.7 453.4L483.3 453.3L483.9 453.5L484.1 453.7L484.4 453.8L485.0 452.9L486.0 453.0L486.0 437.1L486.1 417.7L486.2 392.7L486.3 374.2L486.4 361.3L486.6 345.2L486.8 337.7L487.0 333.4L487.1 331.4L487.3 330.3L487.5 329.8L487.9 329.2L487.9 328.7L488.5 328.7L488.5 329.6L489.1 329.3L489.1 329.5L489.7 329.4L489.8 329.8L490.2 329.2L490.8 329.3L490.8 329.3L491.4 330.0L491.8 329.9L492.0 329.9L492.6 329.6L492.7 329.9L493.1 329.8L493.7 329.7L493.7 330.5L494.3 330.5L494.9 330.5L495.5 330.2L495.6 330.7L496.0 330.7L496.6 330.1L497.2 330.9L497.6 330.8L497.8 330.1L498.4 330.2L498.9 330.2L499.5 330.8L499.5 330.3L500.1 330.3L500.7 330.2L501.2 330.7L501.4 330.6L501.8 330.8L502.4 330.5L503.0 331.0L503.4 331.0L503.6 330.7L504.1 331.3L504.7 331.0L505.3 330.9L505.3 344.7L505.4 363.2L505.5 388.2L505.6 406.4L505.7 420.2L505.9 439.2L506.1 449.9L506.3 455.6L506.5 459.1L506.9 462.8L507.0 463.0L507.2 463.1L507.6 463.4L507.8 463.3L508.2 462.6L508.4 462.8L508.8 462.0L509.2 462.2L509.4 462.0L509.9 461.1L510.1 461.4L510.5 460.8L511.1 460.8L511.1 461.1L511.7 460.5L512.1 459.5L512.3 459.9L512.8 459.5L513.0 459.7L513.4 458.9L514.0 458.4L514.6 458.3L515.0 458.1L515.2 458.5L515.7 458.3L516.3 457.7L516.9 457.6L516.9 457.3L517.5 456.9L518.1 456.9L518.6 456.9L518.8 456.5L519.2 456.9L519.8 456.4L520.4 456.0L520.8 456.2L521.0 456.5L521.5 455.9L522.1 455.7L522.7 455.8L522.7 456.2L523.3 456.0L523.9 455.8L524.6 455.2L524.7 440.8L524.7 422.2L524.8 397.9L524.9 381.0L525.0 368.4L525.2 354.1L525.4 346.1L525.6 342.2L525.8 340.4L526.2 338.9L526.2 338.5L526.6 338.5L526.8 338.0L527.1 338.6L527.3 338.4L527.7 338.6L527.9 339.0L528.5 338.6L528.5 338.5L529.1 339.3L529.5 338.9L529.7 339.5L530.2 339.7L530.4 339.0L530.8 339.4L531.4 339.9L531.4 339.7L532.0 339.8L532.4 339.3L532.6 339.6L533.1 340.1L533.7 339.4L534.3 340.2L534.3 339.8L534.9 339.8L535.5 340.4L536.0 340.0L536.2 340.2L536.6 340.7L537.2 340.1L537.8 340.8L538.2 340.2L538.4 340.5L538.9 340.0L539.5 340.9L540.1 340.5L540.1 340.5L540.7 341.0L541.2 340.5L541.8 340.1L542.0 340.5L542.4 340.2L543.0 340.2L544.0 341.1L544.0 353.9L544.1 370.7L544.1 393.2L544.2 410.1L544.3 423.2L544.5 440.1L544.7 450.3L544.9 456.0L545.1 458.8L545.3 460.1L545.5 461.6L545.9 462.3L545.9 463.0L546.5 463.0L546.5 462.5L547.0 462.1L547.0 462.5L547.6 462.4L547.8 461.9L548.2 462.1L548.8 461.4L548.8 461.2L549.4 461.5L549.8 461.2L549.9 460.8L550.5 460.8L550.7 460.3L551.1 460.6L551.7 460.2L551.7 460.1L552.3 459.6L552.8 459.7L553.4 459.0L553.6 459.7L554.0 459.1L554.6 459.1L555.2 458.3L555.5 458.2L555.7 458.4L556.3 458.1L556.9 458.1L557.5 458.2L557.5 458.3L558.1 457.6L558.6 458.0L559.2 457.3L559.4 457.9L559.8 458.0L560.4 457.7L561.0 457.3L561.3 457.2L561.5 457.6L562.1 457.6L562.7 456.8L563.3 456.9L565.0 457.3L565.6 457.2L566.2 456.6L566.8 456.5L567.1 456.3L567.3 456.6L567.9 457.1L568.5 456.8L569.1 456.4L569.7 456.3L570.2 456.2L570.8 456.5L571.0 456.2L571.4 456.2L572.0 456.6L572.6 456.2L573.1 456.0L573.7 456.0L574.3 456.8L574.9 456.6L574.9 456.0L575.5 456.9L576.0 456.8L576.6 455.9L577.2 456.8L577.8 455.9L578.3 456.1L578.7 456.0L578.9 456.4L579.5 456.5L580.1 456.1L580.7 456.5L581.2 456.6L581.8 455.9L582.6 456.0" stroke="#3a48d8"/>
<path d="M331.4 416.9L331.5 420.0L331.6 422.6L331.7 424.2L331.8 426.7L332.0 429.8L332.0 429.9L332.2 431.9L332.4 433.8L332.6 435.3L332.8 436.2L333.1 437.8L333.1 437.3L333.7 438.3L333.7 438.9L334.3 438.9L334.3 439.0L334.9 439.3L335.3 438.9L335.5 438.6L336.0 439.2L336.2 439.0L336.6 439.0L337.2 438.8L337.2 439.2L337.8 438.4L338.4 438.7L338.9 438.2L339.1 438.4L339.5 438.4L340.1 438.0L340.7 437.6L341.1 438.0L341.3 438.2L341.8 438.0L342.4 437.8L343.0 437.9L343.6 437.4L344.2 437.3L344.7 437.3L344.9 437.8L345.3 437.2L345.9 437.1L346.5 437.0L347.1 436.9L347.6 437.1L348.2 437.4L348.8 437.6L349.4 437.1L350.0 437.1L350.5 437.0L350.7 437.0L351.1 437.5L351.7 437.3L352.3 437.0L352.8 436.9L353.4 437.6L354.0 437.6L354.6 437.7L355.2 437.2L355.7 437.5L356.3 437.9L356.5 437.6L356.9 438.0L357.5 437.3L358.1 438.2L358.6 437.3L359.2 437.8L359.8 437.5L360.4 438.3L361.0 438.3L361.5 438.7L362.1 438.6L362.3 438.7L362.7 438.4L363.3 439.0L363.9 438.8L364.4 438.6L365.0 439.3L365.6 438.8L366.2 438.7L366.8 438.7L367.3 439.3L367.9 439.1L368.5 439.9L369.1 440.1L370.0 439.5L370.1 425.1L370.1 407.3L370.2 383.7L370.3 367.3L370.4 355.6L370.6 340.4L370.8 333.0L371.0 329.6L371.2 327.2L371.4 326.3L371.6 326.1L372.0 325.6L372.0 325.7L372.6 325.4L372.6 325.2L373.1 325.5L373.1 325.6L373.7 325.4L373.9 325.0L374.3 325.1L374.9 325.3L374.9 325.6L375.5 325.4L375.8 325.5L376.0 325.7L376.6 325.0L376.8 325.6L377.2 325.3L377.8 325.5L377.8 325.8L378.4 325.2L378.9 326.0L379.5 325.1L379.7 325.6L380.1 325.6L380.7 325.3L381.3 325.6L381.6 325.5L381.8 325.5L382.4 325.8L383.0 325.1L383.6 325.5L383.6 325.9L384.2 325.3L384.7 326.0L385.3 325.3L385.5 325.8L385.9 325.3L386.5 325.6L387.1 325.6L387.4 325.2L387.6 325.9L388.2 325.6L389.4 325.9L389.4 339.5L389.5 357.6L389.6 381.7L389.7 399.8L389.8 414.2L389.9 431.8L390.1 443.1L390.3 449.1L390.5 452.1L390.5 452.4L390.9 455.3L391.1 455.7L391.3 455.8L391.7 456.0L391.9 456.1L392.3 455.9L392.5 456.4L392.8 455.6L393.2 455.5L393.4 455.4L394.0 455.4L394.2 455.0L394.6 454.8L395.2 454.2L395.2 454.2L395.7 453.7L396.1 453.7L396.3 453.6L396.9 453.9L397.1 453.5L397.5 452.9L398.1 453.0L398.6 452.4L399.0 452.7L399.2 452.5L399.8 452.7L400.4 451.9L401.0 452.3L401.0 451.7L401.5 452.3L402.1 451.8L402.7 451.1L402.9 451.8L403.3 451.2L403.9 451.1L404.4 450.8L404.8 451.4L405.0 450.6L405.6 451.2L406.2 450.7L406.8 450.9L406.8 450.5L407.3 450.2L407.9 451.0L408.7 450.6L408.7 435.2L408.8 416.9L408.9 392.5L409.0 374.3L409.1 361.6L409.3 346.9L409.5 338.6L409.7 335.2L409.9 332.9L410.2 331.7L410.2 331.5L410.6 331.5L410.8 331.5L411.2 331.4L411.4 331.4L411.8 331.3L412.0 331.1L412.6 331.2L412.6 332.0L413.1 331.5L413.5 331.8L413.7 331.8L414.3 332.2L414.5 332.2L414.9 332.6L415.5 332.3L415.5 332.2L416.0 332.6L416.4 332.7L416.6 333.0L417.2 332.4L417.8 333.1L418.4 333.3L418.4 333.3L418.9 332.5L419.5 332.8L420.1 333.3L420.3 333.3L420.7 332.6L421.3 333.0L421.8 333.4L422.2 333.4L422.4 333.2L423.0 333.0L423.6 333.2L424.2 332.9L424.2 333.1L424.7 333.3L425.3 333.7L425.9 333.5L426.1 333.3L426.5 333.2L427.0 333.3L428.0 333.7L428.1 346.8L428.1 363.9L428.2 387.7L428.3 405.0L428.4 418.7L428.6 435.9L428.8 446.1L429.0 451.7L429.2 455.1L429.4 456.9L429.6 458.4L429.9 458.9L429.9 458.6L430.5 458.4L430.5 459.1L431.1 458.4L431.1 458.4L431.7 457.8L431.9 457.6L432.3 457.7L432.8 458.0L432.8 457.7L433.4 457.3L433.8 457.1L434.0 456.6L434.6 456.1L434.8 456.5L435.2 455.7L435.7 455.9L435.7 455.9L436.3 455.6L436.9 455.0L437.5 454.6L437.7 455.0L438.1 454.5L438.6 454.8L439.2 454.3L439.6 454.4L439.8 454.5L440.4 454.2L441.0 454.0L441.5 453.5L441.5 453.6L442.1 454.1L442.7 453.3L443.3 453.2L443.5 453.3L443.9 453.3L444.4 453.5L445.0 452.9L445.4 453.5L445.6 452.5L446.2 453.2L446.8 452.9L447.3 453.1L447.4 437.9L447.4 420.1L447.5 396.8L447.6 379.7L447.7 367.1L447.9 353.0L448.1 345.5L448.3 340.8L448.5 339.5L448.9 337.3L449.1 337.1L449.3 337.7L449.7 337.6L449.9 337.8L450.2 337.6L450.4 337.5L450.8 337.3L451.2 337.7L451.4 338.1L452.0 337.9L452.2 338.1L452.6 337.5L453.1 338.1L453.1 338.1L453.7 337.5L454.1 338.3L454.3 337.7L454.9 337.8L455.1 337.7L455.5 338.3L456.0 337.9L456.6 338.7L457.0 337.8L457.2 338.6L457.8 338.6L458.4 338.5L458.9 338.5L458.9 338.7L459.5 338.6L460.1 338.1L460.7 338.8L460.9 338.4L461.3 338.6L461.8 338.6L462.4 339.0L462.8 338.5L463.0 339.0L463.6 338.2L464.1 338.5L464.7 338.9L464.7 338.8L465.3 339.0L465.9 338.4L466.7 339.0L466.7 352.0L466.8 368.4L466.9 391.0L467.0 408.6L467.0 422.0L467.2 438.9L467.4 448.6L467.6 454.4L467.8 457.9L468.2 460.4L468.2 460.4L468.6 461.3L468.8 461.7L469.2 461.7L469.4 461.6L469.8 460.9L469.9 461.2L470.5 461.1L470.5 461.0L471.1 460.9L471.5 460.6L471.7 459.8L472.3 459.8L472.5 459.6L472.8 459.2L473.4 459.2L473.4 459.7L474.0 459.2L474.4 458.4L474.6 458.4L475.2 458.3L475.7 458.6L476.3 457.9L476.3 457.6L476.9 457.8L477.5 457.4L478.1 457.0L478.3 457.4L478.6 457.7L479.2 457.4L479.8 457.2L480.2 456.5L480.4 456.9L481.0 456.8L481.5 456.8L482.1 456.4L482.1 456.0L482.7 456.8L483.3 456.1L483.9 456.4L484.1 456.1L484.4 456.4L485.0 455.9L486.0 455.5L486.0 441.6L486.1 423.5L486.2 400.5L486.3 383.5L486.4 371.8L486.6 356.9L486.8 349.7L487.0 345.4L487.1 344.1L487.3 343.5L487.5 341.8L487.9 342.3L487.9 342.2L488.5 342.2L488.5 341.6L489.1 342.3L489.1 342.3L489.7 342.3L489.8 342.7L490.2 342.7L490.8 342.5L490.8 342.8L491.4 342.1L491.8 342.3L492.0 342.5L492.6 342.6L492.7 343.0L493.1 342.8L493.7 342.8L493.7 342.8L494.3 343.2L494.9 342.7L495.5 343.1L495.6 343.0L496.0 342.8L496.6 342.8L497.2 342.6L497.6 342.5L497.8 342.9L498.4 342.9L498.9 342.7L499.5 343.1L499.5 343.0L500.1 343.6L500.7 343.4L501.2 343.4L501.4 343.5L501.8 343.0L502.4 342.8L503.0 343.4L503.4 343.0L503.6 343.7L504.1 343.2L504.7 343.7L505.3 343.1L505.3 356.2L505.4 374.1L505.5 397.3L505.6 414.4L505.7 428.3L505.9 445.9L506.1 455.7L506.3 461.6L506.5 464.9L506.9 466.8L507.0 467.7L507.2 468.1L507.6 468.0L507.8 467.6L508.2 467.5L508.4 467.5L508.8 467.4L509.2 466.3L509.4 466.5L509.9 465.9L510.1 466.2L510.5 465.3L511.1 464.8L511.1 464.8L511.7 464.4L512.1 464.4L512.3 464.7L512.8 463.9L513.0 463.5L513.4 463.8L514.0 463.2L514.6 463.1L515.0 463.0L515.2 462.7L515.7 462.7L516.3 462.3L516.9 462.3L516.9 462.2L517.5 462.1L518.1 461.8L518.6 461.1L518.8 461.3L519.2 461.4L519.8 461.3L520.4 461.1L520.8 461.1L521.0 461.0L521.5 460.6L522.1 460.6L522.7 459.9L522.7 460.3L523.3 460.5L523.9 460.6L524.6 460.4L524.7 445.6L524.7 427.1L524.8 404.3L524.9 387.3L525.0 374.8L525.2 359.9L525.4 353.1L525.6 349.0L525.8 346.5L526.2 345.9L526.2 345.5L526.6 345.3L526.8 345.4L527.1 344.8L527.3 345.1L527.7 344.8L527.9 345.2L528.5 345.1L528.5 345.5L529.1 344.9L529.5 345.0L529.7 345.2L530.2 344.8L530.4 345.3L530.8 345.9L531.4 345.8L531.4 345.1L532.0 345.8L532.4 345.2L532.6 345.3L533.1 345.7L533.7 345.4L534.3 345.3L534.3 345.2L534.9 345.3L535.5 345.4L536.0 346.1L536.2 345.3L536.6 345.8L537.2 345.5L537.8 346.0L538.2 345.3L538.4 345.7L538.9 346.1L539.5 345.4L540.1 345.8L540.1 345.7L540.7 345.8L541.2 346.0L541.8 345.5L542.0 346.3L542.4 345.7L543.0 346.2L544.0 345.6L544.0 358.6L544.1 375.7L544.1 398.4L544.2 415.8L544.3 428.8L544.5 446.0L544.7 456.7L544.9 462.1L545.1 465.3L545.3 466.7L545.5 468.4L545.9 468.5L545.9 468.5L546.5 469.3L546.5 468.6L547.0 468.9L547.0 469.0L547.6 468.9L547.8 468.0L548.2 468.1L548.8 467.7L548.8 468.0L549.4 467.1L549.8 467.6L549.9 467.7L550.5 467.0L550.7 467.0L551.1 467.0L551.7 466.8L551.7 466.7L552.3 466.2L552.8 465.5L553.4 466.0L553.6 466.0L554.0 465.7L554.6 465.1L555.2 465.6L555.5 465.1L555.7 464.7L556.3 465.1L556.9 464.3L557.5 464.2L557.5 464.9L558.1 463.9L558.6 464.6L559.2 464.0L559.4 464.1L559.8 464.2L560.4 464.3L561.0 463.5L561.3 463.4L561.5 463.8L562.1 463.4L562.7 463.5L563.3 463.1L565.0 463.0L565.6 463.4L566.2 462.8L566.8 463.0L567.1 463.1L567.3 462.8L567.9 463.5L568.5 463.5L569.1 462.6L569.7 463.4L570.2 462.7L570.8 463.2L571.0 462.5L571.4 463.2L572.0 463.4L572.6 462.7L573.1 462.6L573.7 462.7L574.3 463.2L574.9 463.1L574.9 462.5L575.5 463.3L576.0 463.1L576.6 463.3L577.2 463.3L577.8 462.5L578.3 463.0L578.7 462.3L578.9 462.5L579.5 462.8L580.1 462.5L580.7 462.5L581.2 462.6L581.8 462.7L582.6 463.2" stroke="#e05ae6"/>
<path d="M331.4 416.5L331.5 419.2L331.6 421.6L331.7 424.4L331.8 425.9L332.0 429.1L332.0 429.2L332.2 431.8L332.4 433.9L332.6 434.5L332.8 436.2L333.1 437.5L333.1 436.7L333.7 437.4L333.7 437.5L334.3 438.5L334.3 438.2L334.9 438.5L335.3 438.6L335.5 438.3L336.0 438.0L336.2 437.5L336.6 437.4L337.2 438.1L337.2 437.9L337.8 437.9L338.4 437.6L338.9 437.6L339.1 437.5L339.5 437.7L340.1 436.8L340.7 437.1L341.1 436.9L341.3 437.4L341.8 437.4L342.4 436.7L343.0 436.4L343.6 436.5L344.2 436.5L344.7 436.9L344.9 436.5L345.3 436.8L345.9 436.3L346.5 436.5L347.1 436.2L347.6 436.6L348.2 436.4L348.8 436.8L349.4 436.8L350.0 436.4L350.5 435.9L350.7 436.7L351.1 436.8L351.7 436.3L352.3 436.4L352.8 436.8L353.4 436.2L354.0 436.2L354.6 436.7L355.2 436.7L355.7 436.7L356.3 436.9L356.5 436.6L356.9 436.6L357.5 436.4L358.1 436.5L358.6 436.7L359.2 436.9L359.8 437.3L360.4 437.2L361.0 437.2L361.5 437.1L362.1 437.5L362.3 437.3L362.7 437.7L363.3 437.7L363.9 437.9L364.4 437.7L365.0 437.9L365.6 438.2L366.2 438.6L366.8 438.3L367.3 438.2L367.9 438.7L368.5 438.2L369.1 438.6L370.0 438.4L370.1 425.0L370.1 407.0L370.2 384.4L370.3 368.6L370.4 356.8L370.6 341.9L370.8 335.0L371.0 330.8L371.2 329.8L371.4 328.7L371.6 328.4L372.0 327.5L372.0 328.1L372.6 327.4L372.6 328.2L373.1 327.8L373.1 327.5L373.7 328.5L373.9 328.4L374.3 327.9L374.9 328.4L374.9 328.3L375.5 328.1L375.8 328.4L376.0 329.0L376.6 328.5L376.8 328.9L377.2 329.0L377.8 329.1L377.8 328.9L378.4 329.3L378.9 328.8L379.5 329.0L379.7 329.0L380.1 328.7L380.7 329.1L381.3 329.4L381.6 329.3L381.8 328.9L382.4 329.0L383.0 329.3L383.6 328.9L383.6 329.0L384.2 329.6L384.7 329.0L385.3 329.0L385.5 329.1L385.9 329.5L386.5 329.0L387.1 329.7L387.4 329.6L387.6 329.8L388.2 329.8L389.4 329.8L389.4 342.9L389.5 359.9L389.6 383.3L389.7 400.4L389.8 413.7L389.9 431.7L390.1 441.7L390.3 447.0L390.5 450.5L390.5 450.7L390.9 453.2L391.1 454.0L391.3 453.9L391.7 454.0L391.9 454.3L392.3 454.1L392.5 454.4L392.8 453.9L393.2 453.6L393.4 454.0L394.0 453.6L394.2 453.5L394.6 452.6L395.2 452.4L395.2 452.2L395.7 452.6L396.1 452.1L396.3 451.6L396.9 452.2L397.1 451.2L397.5 451.0L398.1 451.6L398.6 450.9L399.0 451.2L399.2 450.8L399.8 450.2L400.4 450.3L401.0 450.4L401.0 449.7L401.5 450.3L402.1 449.7L402.7 449.7L402.9 449.5L403.3 449.8L403.9 449.4L404.4 449.3L404.8 448.8L405.0 449.4L405.6 448.8L406.2 449.1L406.8 448.4L406.8 448.5L407.3 449.0L407.9 448.5L408.7 448.8L408.7 434.0L408.8 414.8L408.9 390.8L409.0 373.3L409.1 360.6L409.3 346.2L409.5 338.0L409.7 334.4L409.9 332.1L410.2 330.6L410.2 330.0L410.6 330.2L410.8 330.0L411.2 329.8L411.4 329.6L411.8 329.7L412.0 329.7L412.6 330.3L412.6 330.1L413.1 329.8L413.5 330.3L413.7 330.7L414.3 330.8L414.5 329.9L414.9 330.5L415.5 330.5L415.5 330.4L416.0 330.3L416.4 330.5L416.6 330.3L417.2 330.4L417.8 330.3L418.4 330.8L418.4 331.0L418.9 331.1L419.5 330.5L420.1 330.4L420.3 330.5L420.7 330.2L421.3 330.9L421.8 330.4L422.2 330.8L422.4 331.1L423.0 331.0L423.6 330.9L424.2 331.1L424.2 330.9L424.7 331.2L425.3 331.0L425.9 330.6L426.1 330.4L426.5 331.3L427.0 330.5L428.0 330.9L428.1 344.7L428.1 362.2L428.2 385.5L428.3 402.6L428.4 416.0L428.6 434.3L428.8 444.0L429.0 450.0L429.2 453.3L429.4 455.3L429.6 456.8L429.9 457.6L429.9 457.7L430.5 457.8L430.5 457.1L431.1 457.7L431.1 457.0L431.7 457.0L431.9 457.0L432.3 456.2L432.8 456.5L432.8 456.2L433.4 456.0L433.8 455.4L434.0 455.7L434.6 454.8L434.8 454.8L435.2 455.0L435.7 454.9L435.7 454.6L436.3 454.3L436.9 453.5L437.5 453.7L437.7 453.3L438.1 453.3L438.6 453.2L439.2 453.1L439.6 452.8L439.8 453.1L440.4 452.3L441.0 452.1L441.5 452.6L441.5 452.4L442.1 452.7L442.7 452.2L443.3 452.1L443.5 452.0L443.9 451.5L444.4 451.9L445.0 451.6L445.4 451.3L445.6 451.3L446.2 451.0L446.8 451.3L447.3 451.3L447.4 436.5L447.4 417.8L447.5 392.7L447.6 375.4L447.7 362.8L447.9 347.9L448.1 340.0L448.3 335.6L448.5 333.9L448.9 332.3L449.1 332.0L449.3 332.1L449.7 331.8L449.9 331.8L450.2 332.0L450.4 332.1L450.8 332.3L451.2 332.3L451.4 332.6L452.0 332.3L452.2 332.5L452.6 332.2L453.1 333.1L453.1 333.0L453.7 332.4L454.1 333.1L454.3 333.0L454.9 333.2L455.1 333.3L455.5 333.2L456.0 333.3L456.6 333.0L457.0 333.0L457.2 333.2L457.8 333.3L458.4 333.1L458.9 333.7L458.9 333.2L459.5 333.1L460.1 333.5L460.7 333.3L460.9 333.2L461.3 333.2L461.8 333.6L462.4 333.1L462.8 333.7L463.0 333.2L463.6 333.0L464.1 333.1L464.7 333.4L464.7 333.6L465.3 333.8L465.9 333.0L466.7 333.9L466.7 347.0L466.8 364.0L466.9 387.7L467.0 405.1L467.0 419.3L467.2 436.6L467.4 446.5L467.6 452.2L467.8 455.8L468.2 458.6L468.2 458.9L468.6 459.8L468.8 460.0L469.2 459.9L469.4 459.8L469.8 459.7L469.9 459.6L470.5 459.0L470.5 459.0L471.1 458.6L471.5 459.1L471.7 459.0L472.3 458.0L472.5 458.0L472.8 458.6L473.4 458.1L473.4 457.4L474.0 457.5L474.4 457.8L474.6 457.5L475.2 456.9L475.7 457.2L476.3 456.8L476.3 457.1L476.9 456.7L477.5 455.8L478.1 456.0L478.3 456.2L478.6 456.2L479.2 456.0L479.8 455.9L480.2 455.2L480.4 455.4L481.0 455.1L481.5 455.6L482.1 455.6L482.1 455.0L482.7 454.9L483.3 454.7L483.9 454.4L484.1 454.4L484.4 454.3L485.0 455.1L486.0 454.8L486.0 439.2L486.1 420.7L486.2 395.3L486.3 378.5L486.4 365.1L486.6 349.8L486.8 341.6L487.0 337.9L487.1 336.1L487.3 335.5L487.5 334.5L487.9 333.5L487.9 334.0L488.5 334.4L488.5 334.1L489.1 333.6L489.1 334.5L489.7 333.6L489.8 334.5L490.2 334.3L490.8 334.0L490.8 334.4L491.4 334.5L491.8 334.6L492.0 334.7L492.6 334.5L492.7 334.7L493.1 334.1L493.7 334.1L493.7 334.5L494.3 334.7L494.9 334.8L495.5 334.4L495.6 335.0L496.0 334.7L496.6 334.2L497.2 335.0L497.6 334.7L497.8 334.6L498.4 334.9L498.9 334.3L499.5 334.6L499.5 334.5L500.1 335.1L500.7 335.2L501.2 334.7L501.4 335.0L501.8 334.6L502.4 334.6L503.0 334.9L503.4 334.6L503.6 335.2L504.1 335.0L504.7 335.1L505.3 335.2L505.3 349.1L505.4 366.4L505.5 391.1L505.6 409.4L505.7 423.1L505.9 442.1L506.1 452.5L506.3 458.7L506.5 461.5L506.9 465.1L507.0 465.1L507.2 465.8L507.6 465.9L507.8 465.7L508.2 465.5L508.4 464.7L508.8 464.9L509.2 464.6L509.4 464.8L509.9 464.0L510.1 463.8L510.5 463.7L511.1 462.7L511.1 463.4L511.7 462.1L512.1 461.7L512.3 462.0L512.8 461.9L513.0 461.3L513.4 461.8L514.0 460.6L514.6 461.2L515.0 460.6L515.2 460.4L515.7 460.3L516.3 460.0L516.9 459.2L516.9 459.7L517.5 459.8L518.1 459.3L518.6 458.7L518.8 458.6L519.2 458.9L519.8 458.8L520.4 458.3L520.8 458.7L521.0 458.3L521.5 457.8L522.1 458.0L522.7 458.0L522.7 457.8L523.3 457.6L523.9 457.6L524.6 457.3L524.7 442.7L524.7 423.0L524.8 398.0L524.9 379.6L525.0 367.2L525.2 351.4L525.4 343.1L525.6 338.4L525.8 336.8L526.2 334.8L526.2 334.8L526.6 334.4L526.8 334.5L527.1 335.1L527.3 334.5L527.7 335.3L527.9 334.4L528.5 335.1L528.5 334.7L529.1 335.6L529.5 334.8L529.7 335.3L530.2 335.1L530.4 335.2L530.8 335.7L531.4 335.5L531.4 335.7L532.0 335.5L532.4 335.5L532.6 335.8L533.1 335.9L533.7 335.2L534.3 335.3L534.3 335.5L534.9 335.5L535.5 335.4L536.0 335.5L536.2 335.5L536.6 335.4L537.2 336.1L537.8 336.4L538.2 335.6L538.4 336.3L538.9 336.3L539.5 336.2L540.1 335.7L540.1 336.4L540.7 336.3L541.2 335.9L541.8 335.6L542.0 336.1L542.4 336.3L543.0 336.0L544.0 336.4L544.0 350.1L544.1 367.4L544.1 391.9L544.2 410.3L544.3 423.4L544.5 442.2L544.7 452.3L544.9 458.5L545.1 462.2L545.3 462.9L545.5 465.2L545.9 465.8L545.9 465.2L546.5 465.8L546.5 466.2L547.0 465.7L547.0 465.9L547.6 465.5L547.8 464.9L548.2 465.4L548.8 464.9L548.8 465.0L549.4 464.0L549.8 464.0L549.9 464.2L550.5 464.0L550.7 464.1L551.1 463.3L551.7 462.8L551.7 463.1L552.3 462.7L552.8 463.1L553.4 462.6L553.6 462.5L554.0 462.5L554.6 461.8L555.2 462.2L555.5 461.7L555.7 462.2L556.3 461.7L556.9 461.5L557.5 460.8L557.5 460.8L558.1 461.0L558.6 461.0L559.2 460.5L559.4 460.7L559.8 460.6L560.4 460.4L561.0 460.8L561.3 460.5L561.5 460.9L562.1 460.7L562.7 460.3L563.3 460.1L565.0 460.1L565.6 460.3L566.2 460.3L566.8 460.4L567.1 460.4L567.3 460.3L567.9 459.7L568.5 459.9L569.1 460.0L569.7 460.0L570.2 459.8L570.8 459.4L571.0 459.9L571.4 459.5L572.0 459.5L572.6 459.3L573.1 459.7L573.7 459.3L574.3 459.5L574.9 460.2L574.9 459.2L575.5 459.2L576.0 459.4L576.6 459.7L577.2 459.6L577.8 460.1L578.3 459.5L578.7 459.6L578.9 459.3L579.5 459.8L580.1 459.7L580.7 459.3L581.2 459.9L581.8 459.6L582.6 459.4" stroke="#45a04d"/>
<path d="M331.4 416.6L331.5 419.3L331.6 422.6L331.7 425.2L331.8 427.3L332.0 430.3L332.0 430.5L332.2 432.7L332.4 434.8L332.6 435.6L332.8 437.4L333.1 438.6L333.1 438.3L333.7 439.4L333.7 439.7L334.3 439.7L334.3 440.3L334.9 440.3L335.3 440.2L335.5 439.4L336.0 439.3L336.2 439.5L336.6 439.5L337.2 439.7L337.2 439.8L337.8 439.4L338.4 439.4L338.9 439.2L339.1 438.6L339.5 439.1L340.1 438.6L340.7 438.8L341.1 438.3L341.3 438.9L341.8 439.1L342.4 438.2L343.0 438.6L343.6 438.0L344.2 438.2L344.7 438.0L344.9 438.6L345.3 438.5L345.9 438.6L346.5 437.9L347.1 438.4L347.6 438.3L348.2 438.1L348.8 438.5L349.4 438.2L350.0 437.8L350.5 438.2L350.7 438.0L351.1 437.7L351.7 438.2L352.3 437.6L352.8 438.0L353.4 438.2L354.0 437.7L354.6 438.3L355.2 437.8L355.7 438.4L356.3 438.1L356.5 437.8L356.9 438.8L357.5 438.0L358.1 438.1L358.6 438.6L359.2 438.4L359.8 438.8L360.4 438.8L361.0 439.0L361.5 439.0L362.1 438.8L362.3 438.8L362.7 439.3L363.3 439.2L363.9 439.4L364.4 439.9L365.0 439.1L365.6 439.5L366.2 439.9L366.8 439.5L367.3 440.3L367.9 440.1L368.5 440.1L369.1 440.1L370.0 441.1L370.1 425.6L370.1 407.8L370.2 384.0L370.3 367.2L370.4 354.8L370.6 339.5L370.8 332.0L371.0 328.5L371.2 325.6L371.4 325.6L371.6 324.7L372.0 323.9L372.0 324.6L372.6 323.9L372.6 323.6L373.1 324.0L373.1 324.2L373.7 323.8L373.9 324.4L374.3 324.3L374.9 324.2L374.9 324.6L375.5 324.6L375.8 324.9L376.0 324.9L376.6 324.9L376.8 325.0L377.2 324.9L377.8 324.6L377.8 324.2L378.4 324.6L378.9 324.8L379.5 325.2L379.7 324.9L380.1 324.8L380.7 324.4L381.3 325.0L381.6 324.4L381.8 324.5L382.4 324.4L383.0 325.1L383.6 325.3L383.6 325.0L384.2 324.5L384.7 325.2L385.3 324.6L385.5 325.2L385.9 325.1L386.5 325.4L387.1 324.6L387.4 324.7L387.6 324.8L388.2 324.6L389.4 325.5L389.4 339.2L389.5 357.0L389.6 381.9L389.7 400.1L389.8 415.1L389.9 433.1L390.1 443.5L390.3 450.3L390.5 453.4L390.5 453.7L390.9 456.9L391.1 456.7L391.3 457.6L391.7 458.1L391.9 457.5L392.3 457.4L392.5 457.7L392.8 456.9L393.2 457.4L393.4 457.3L394.0 457.1L394.2 456.9L394.6 456.4L395.2 456.0L395.2 456.1L395.7 455.9L396.1 456.0L396.3 455.1L396.9 455.1L397.1 455.0L397.5 454.6L398.1 454.3L398.6 454.7L399.0 454.3L399.2 454.3L399.8 453.7L400.4 453.7L401.0 453.2L401.0 453.2L401.5 453.0L402.1 453.4L402.7 453.4L402.9 453.1L403.3 453.2L403.9 452.4L404.4 452.7L404.8 452.3L405.0 452.6L405.6 452.2L406.2 452.2L406.8 452.7L406.8 452.4L407.3 452.0L407.9 452.1L408.7 451.8L408.7 435.9L408.8 414.5L408.9 388.2L409.0 368.7L409.1 355.1L409.3 338.2L409.5 329.6L409.7 324.7L409.9 323.2L410.2 321.5L410.2 321.1L410.6 321.1L410.8 321.6L411.2 321.4L411.4 321.3L411.8 321.5L412.0 321.1L412.6 321.8L412.6 321.7L413.1 322.1L413.5 322.0L413.7 321.8L414.3 322.7L414.5 322.2L414.9 322.3L415.5 322.6L415.5 323.1L416.0 323.1L416.4 322.6L416.6 322.6L417.2 323.1L417.8 322.8L418.4 323.1L418.4 323.0L418.9 323.8L419.5 323.9L420.1 324.0L420.3 323.8L420.7 323.3L421.3 323.6L421.8 324.2L422.2 323.5L422.4 323.9L423.0 324.3L423.6 323.8L424.2 324.0L424.2 324.2L424.7 324.3L425.3 323.8L425.9 324.5L426.1 323.8L426.5 323.9L427.0 324.1L428.0 324.1L428.1 338.7L428.1 357.3L428.2 382.8L428.3 401.8L428.4 416.1L428.6 435.3L428.8 445.6L429.0 452.3L429.2 455.9L429.4 457.6L429.6 458.7L429.9 460.1L429.9 459.6L430.5 460.3L430.5 460.1L431.1 459.2L431.1 460.1L431.7 459.6L431.9 459.3L432.3 459.4L432.8 459.0L432.8 458.9L433.4 458.6L433.8 458.3L434.0 457.6L434.6 457.7L434.8 457.0L435.2 457.3L435.7 456.7L435.7 457.2L436.3 457.2L436.9 456.2L437.5 456.3L437.7 456.0L438.1 456.5L438.6 455.8L439.2 455.3L439.6 455.6L439.8 455.4L440.4 455.3L441.0 455.1L441.5 454.6L441.5 454.6L442.1 454.9L442.7 454.3L443.3 454.4L443.5 454.6L443.9 454.7L444.4 454.0L445.0 454.1L445.4 453.8L445.6 453.9L446.2 454.5L446.8 454.2L447.3 453.5L447.4 438.3L447.4 417.1L447.5 391.1L447.6 372.5L447.7 358.5L447.9 342.1L448.1 333.7L448.3 329.8L448.5 328.0L448.9 325.7L449.1 326.4L449.3 325.9L449.7 325.9L449.9 325.5L450.2 326.4L450.4 325.8L450.8 326.8L451.2 326.4L451.4 327.0L452.0 327.2L452.2 326.9L452.6 326.9L453.1 327.4L453.1 327.3L453.7 327.5L454.1 328.2L454.3 327.6L454.9 327.8L455.1 328.2L455.5 328.0L456.0 328.0L456.6 328.3L457.0 328.0L457.2 328.1L457.8 328.9L458.4 328.7L458.9 328.7L458.9 328.7L459.5 328.6L460.1 328.6L460.7 328.6L460.9 329.2L461.3 328.9L461.8 329.4L462.4 329.1L462.8 329.6L463.0 329.7L463.6 329.2L464.1 329.5L464.7 329.1L464.7 329.6L465.3 329.3L465.9 329.5L466.7 329.9L466.7 344.0L466.8 361.9L466.9 386.7L467.0 405.2L467.0 419.1L467.2 437.5L467.4 448.1L467.6 454.4L467.8 458.1L468.2 461.1L468.2 461.0L468.6 462.1L468.8 462.2L469.2 462.7L469.4 462.7L469.8 462.6L469.9 462.2L470.5 461.4L470.5 462.2L471.1 461.9L471.5 461.0L471.7 461.0L472.3 460.9L472.5 460.6L472.8 461.2L473.4 460.5L473.4 460.5L474.0 459.9L474.4 459.8L474.6 459.9L475.2 459.9L475.7 459.2L476.3 459.1L476.3 459.0L476.9 459.0L477.5 458.6L478.1 458.3L478.3 458.6L478.6 458.8L479.2 458.7L479.8 458.6L480.2 457.9L480.4 458.4L481.0 457.5L481.5 457.5L482.1 457.4L482.1 457.8L482.7 457.3L483.3 457.3L483.9 457.0L484.1 457.5L484.4 457.4L485.0 457.2L486.0 457.2L486.0 441.6L486.1 421.5L486.2 394.9L486.3 377.0L486.4 363.5L486.6 347.3L486.8 338.4L487.0 334.9L487.1 332.2L487.3 331.1L487.5 330.7L487.9 330.2L487.9 330.6L488.5 330.5L488.5 330.7L489.1 330.9L489.1 330.8L489.7 330.5L489.8 330.7L490.2 330.8L490.8 331.1L490.8 331.0L491.4 331.1L491.8 330.9L492.0 331.1L492.6 331.1L492.7 331.5L493.1 331.8L493.7 331.6L493.7 331.3L494.3 331.2L494.9 332.0L495.5 332.1L495.6 332.0L496.0 332.0L496.6 331.8L497.2 332.0L497.6 331.8L497.8 331.4L498.4 331.9L498.9 332.4L499.5 331.8L499.5 332.1L500.1 331.6L500.7 332.2L501.2 331.9L501.4 332.5L501.8 332.1L502.4 332.3L503.0 332.0L503.4 332.0L503.6 332.4L504.1 332.2L504.7 332.3L505.3 332.6L505.3 346.4L505.4 365.8L505.5 391.9L505.6 410.9L505.7 425.7L505.9 444.9L506.1 456.0L506.3 461.7L506.5 465.3L506.9 469.0L507.0 469.4L507.2 469.4L507.6 469.6L507.8 470.0L508.2 469.8L508.4 469.0L508.8 469.4L509.2 469.1L509.4 468.3L509.9 468.0L510.1 467.5L510.5 467.5L511.1 466.8L511.1 466.9L511.7 466.9L512.1 466.8L512.3 466.2L512.8 466.4L513.0 465.4L513.4 465.8L514.0 465.8L514.6 464.6L515.0 464.5L515.2 464.6L515.7 464.2L516.3 464.5L516.9 463.9L516.9 463.4L517.5 463.5L518.1 463.4L518.6 463.4L518.8 462.9L519.2 463.4L519.8 462.9L520.4 462.9L520.8 462.6L521.0 463.1L521.5 462.1L522.1 462.7L522.7 462.6L522.7 462.8L523.3 461.7L523.9 461.8L524.6 461.8L524.7 446.6L524.7 426.5L524.8 400.8L524.9 382.7L525.0 369.5L525.2 353.7L525.4 345.1L525.6 340.9L525.8 338.5L526.2 337.5L526.2 336.9L526.6 336.9L526.8 336.5L527.1 336.9L527.3 337.1L527.7 337.4L527.9 337.2L528.5 337.4L528.5 336.9L529.1 337.2L529.5 337.0L529.7 337.5L530.2 337.5L530.4 337.6L530.8 337.2L531.4 338.3L531.4 338.1L532.0 337.6L532.4 338.3L532.6 338.0L533.1 338.2L533.7 338.1L534.3 338.6L534.3 337.8L534.9 338.6L535.5 338.5L536.0 338.5L536.2 338.8L536.6 338.8L537.2 337.9L537.8 338.2L538.2 338.7L538.4 338.6L538.9 338.6L539.5 338.6L540.1 338.8L540.1 338.2L540.7 338.3L541.2 338.4L541.8 338.7L542.0 338.7L542.4 338.6L543.0 338.5L544.0 338.9L544.0 352.4L544.1 370.9L544.1 396.2L544.2 414.6L544.3 428.1L544.5 447.1L544.7 457.7L544.9 464.0L545.1 467.9L545.3 469.4L545.5 470.1L545.9 471.7L545.9 472.0L546.5 471.7L546.5 471.6L547.0 471.2L547.0 471.4L547.6 471.7L547.8 471.0L548.2 470.7L548.8 470.5L548.8 471.0L549.4 469.8L549.8 469.6L549.9 470.2L550.5 469.2L550.7 469.4L551.1 469.3L551.7 469.1L551.7 469.0L552.3 469.1L552.8 468.5L553.4 468.5L553.6 468.7L554.0 468.5L554.6 468.4L555.2 467.5L555.5 467.6L555.7 467.8L556.3 467.3L556.9 467.2L557.5 466.8L557.5 467.1L558.1 467.5L558.6 466.9L559.2 466.4L559.4 466.7L559.8 466.3L560.4 466.9L561.0 466.3L561.3 466.6L561.5 466.9L562.1 466.4L562.7 466.8L563.3 466.3L565.0 465.8L565.6 466.0L566.2 465.6L566.8 466.1L567.1 465.8L567.3 466.0L567.9 465.6L568.5 465.7L569.1 466.2L569.7 465.9L570.2 465.9L570.8 465.5L571.0 465.5L571.4 465.7L572.0 465.3L572.6 466.0L573.1 465.4L573.7 465.3L574.3 465.3L574.9 465.4L574.9 465.4L575.5 465.9L576.0 465.7L576.6 465.6L577.2 465.9L577.8 465.4L578.3 465.3L578.7 465.8L578.9 465.6L579.5 465.5L580.1 465.1L580.7 465.8L581.2 465.7L581.8 465.3L582.6 465.8" stroke="#26266e"/>
<path d="M331.4 416.4L331.5 419.4L331.6 422.3L331.7 423.8L331.8 425.7L332.0 428.6L332.0 428.7L332.2 430.8L332.4 432.7L332.6 434.2L332.8 435.8L333.1 436.7L333.1 436.4L333.7 437.2L333.7 437.5L334.3 437.4L334.3 437.2L334.9 438.0L335.3 437.7L335.5 437.2L336.0 437.1L336.2 437.0L336.6 437.8L337.2 436.9L337.2 437.4L337.8 437.6L338.4 436.6L338.9 436.8L339.1 436.9L339.5 437.2L340.1 436.4L340.7 436.4L341.1 436.3L341.3 436.1L341.8 436.6L342.4 436.7L343.0 436.2L343.6 435.8L344.2 436.4L344.7 436.3L344.9 436.2L345.3 435.9L345.9 436.3L346.5 436.1L347.1 436.0L347.6 436.0L348.2 435.6L348.8 435.8L349.4 436.1L350.0 436.0L350.5 435.6L350.7 436.1L351.1 436.1L351.7 435.4L352.3 435.5L352.8 435.6L353.4 435.4L354.0 436.2L354.6 436.1L355.2 436.0L355.7 436.5L356.3 435.9L356.5 435.8L356.9 435.7L357.5 436.0L358.1 436.6L358.6 436.5L359.2 436.0L359.8 436.4L360.4 436.1L361.0 436.8L361.5 436.4L362.1 436.5L362.3 437.0L362.7 437.3L363.3 437.2L363.9 437.0L364.4 437.4L365.0 437.2L365.6 437.0L366.2 437.4L366.8 437.9L367.3 438.0L367.9 437.7L368.5 438.4L369.1 438.5L370.0 438.2L370.1 422.5L370.1 401.0L370.2 374.2L370.3 355.6L370.4 342.4L370.6 325.3L370.8 316.7L371.0 312.2L371.2 309.8L371.4 308.9L371.6 308.2L372.0 307.9L372.0 308.3L372.6 307.4L372.6 307.6L373.1 308.3L373.1 308.0L373.7 307.5L373.9 307.9L374.3 308.1L374.9 308.5L374.9 307.6L375.5 308.5L375.8 308.4L376.0 307.9L376.6 308.2L376.8 308.5L377.2 308.0L377.8 308.5L377.8 308.4L378.4 307.9L378.9 308.1L379.5 308.3L379.7 308.0L380.1 308.9L380.7 308.2L381.3 308.2L381.6 308.6L381.8 308.5L382.4 308.3L383.0 308.4L383.6 308.6L383.6 309.0L384.2 308.2L384.7 309.0L385.3 309.1L385.5 308.8L385.9 308.9L386.5 308.5L387.1 309.1L387.4 308.9L387.6 308.9L388.2 308.6L389.4 308.4L389.4 324.2L389.5 344.2L389.6 370.1L389.7 390.6L389.8 406.1L389.9 426.1L390.1 437.7L390.3 444.4L390.5 448.0L390.5 448.1L390.9 451.8L391.1 452.4L391.3 453.1L391.7 452.9L391.9 452.8L392.3 453.5L392.5 453.2L392.8 453.0L393.2 452.8L393.4 452.4L394.0 452.3L394.2 451.9L394.6 452.0L395.2 451.9L395.2 451.1L395.7 451.6L396.1 450.7L396.3 450.5L396.9 450.3L397.1 450.6L397.5 450.8L398.1 450.6L398.6 449.6L399.0 449.7L399.2 450.1L399.8 449.9L400.4 449.6L401.0 448.9L401.0 448.9L401.5 448.6L402.1 448.6L402.7 448.5L402.9 448.9L403.3 448.7L403.9 448.1L404.4 447.9L404.8 448.1L405.0 448.5L405.6 448.0L406.2 448.2L406.8 448.1L406.8 448.2L407.3 447.8L407.9 447.6L408.7 447.6L408.7 430.6L408.8 408.0L408.9 379.7L409.0 360.1L409.1 345.2L409.3 327.5L409.5 317.8L409.7 312.9L409.9 310.7L410.2 308.9L410.2 308.5L410.6 308.2L410.8 308.8L411.2 308.1L411.4 307.6L411.8 308.3L412.0 307.8L412.6 307.5L412.6 308.0L413.1 307.9L413.5 307.5L413.7 307.9L414.3 308.0L414.5 307.4L414.9 307.5L415.5 307.0L415.5 307.5L416.0 307.2L416.4 307.5L416.6 307.6L417.2 307.1L417.8 307.4L418.4 307.6L418.4 306.8L418.9 307.4L419.5 307.1L420.1 307.5L420.3 306.6L420.7 306.9L421.3 306.7L421.8 306.7L422.2 307.3L422.4 307.0L423.0 306.8L423.6 307.3L424.2 306.4L424.2 306.4L424.7 307.1L425.3 306.9L425.9 307.1L426.1 306.8L426.5 307.2L427.0 306.6L428.0 306.5L428.1 323.0L428.1 343.3L428.2 370.4L428.3 391.3L428.4 407.1L428.6 428.9L428.8 440.9L429.0 447.3L429.2 451.9L429.4 453.6L429.6 455.2L429.9 456.3L429.9 456.1L430.5 456.6L430.5 456.3L431.1 456.7L431.1 456.3L431.7 456.1L431.9 456.3L432.3 456.1L432.8 455.3L432.8 454.9L433.4 455.0L433.8 455.1L434.0 454.3L434.6 454.0L434.8 454.0L435.2 453.7L435.7 454.0L435.7 453.7L436.3 453.0L436.9 453.2L437.5 453.1L437.7 452.4L438.1 452.4L438.6 452.0L439.2 452.5L439.6 452.0L439.8 451.6L440.4 451.7L441.0 451.5L441.5 451.7L441.5 451.5L442.1 451.4L442.7 451.2L443.3 450.8L443.5 451.0L443.9 451.3L444.4 451.1L445.0 451.0L445.4 450.5L445.6 450.4L446.2 451.0L446.8 450.9L447.3 450.8L447.4 433.1L447.4 409.6L447.5 380.9L447.6 359.5L447.7 344.8L447.9 326.7L448.1 316.8L448.3 312.2L448.5 310.1L448.9 307.7L449.1 307.2L449.3 307.7L449.7 307.4L449.9 307.0L450.2 307.0L450.4 306.7L450.8 306.8L451.2 307.8L451.4 307.4L452.0 307.7L452.2 307.1L452.6 307.8L453.1 307.7L453.1 307.9L453.7 307.5L454.1 308.0L454.3 307.7L454.9 307.3L455.1 308.0L455.5 307.5L456.0 308.1L456.6 307.8L457.0 307.7L457.2 307.8L457.8 307.7L458.4 307.4L458.9 307.4L458.9 307.4L459.5 308.3L460.1 307.7L460.7 307.4L460.9 307.8L461.3 308.1L461.8 308.1L462.4 308.4L462.8 307.8L463.0 308.4L463.6 307.5L464.1 307.7L464.7 308.0L464.7 308.2L465.3 307.9L465.9 308.3L466.7 308.1L466.7 323.5L466.8 344.7L466.9 372.7L467.0 393.4L467.0 409.3L467.2 430.9L467.4 442.9L467.6 450.4L467.8 454.4L468.2 457.3L468.2 457.1L468.6 458.3L468.8 458.7L469.2 458.9L469.4 458.9L469.8 458.4L469.9 458.5L470.5 458.4L470.5 458.8L471.1 457.8L471.5 458.1L471.7 457.8L472.3 457.9L472.5 457.7L472.8 457.0L473.4 457.2L473.4 456.9L474.0 457.1L474.4 456.1L474.6 456.3L475.2 456.3L475.7 455.8L476.3 455.7L476.3 455.9L476.9 455.4L477.5 455.8L478.1 455.0L478.3 455.4L478.6 455.6L479.2 454.5L479.8 455.2L480.2 454.4L480.4 454.6L481.0 454.2L481.5 454.9L482.1 454.1L482.1 454.3L482.7 454.7L483.3 453.8L483.9 453.6L484.1 454.2L484.4 453.5L485.0 453.5L486.0 453.5L486.0 435.1L486.1 412.3L486.2 382.5L486.3 362.2L486.4 346.6L486.6 327.5L486.8 318.7L487.0 313.3L487.1 311.5L487.3 309.7L487.5 308.9L487.9 308.7L487.9 309.2L488.5 309.3L488.5 309.3L489.1 308.7L489.1 308.9L489.7 309.5L489.8 309.5L490.2 309.7L490.8 309.0L490.8 308.9L491.4 309.4L491.8 309.9L492.0 309.8L492.6 309.6L492.7 309.9L493.1 309.7L493.7 310.2L493.7 309.6L494.3 310.2L494.9 309.6L495.5 310.1L495.6 309.9L496.0 310.0L496.6 309.9L497.2 309.8L497.6 309.9L497.8 310.4L498.4 310.5L498.9 310.5L499.5 310.3L499.5 310.5L500.1 310.7L500.7 310.9L501.2 310.4L501.4 310.8L501.8 310.8L502.4 310.9L503.0 310.7L503.4 310.3L503.6 310.9L504.1 310.7L504.7 310.9L505.3 310.9L505.3 326.6L505.4 347.8L505.5 376.9L505.6 398.2L505.7 413.8L505.9 435.5L506.1 448.2L506.3 455.4L506.5 458.9L506.9 463.0L507.0 463.1L507.2 463.9L507.6 463.6L507.8 463.6L508.2 463.3L508.4 463.8L508.8 463.4L509.2 462.6L509.4 462.5L509.9 462.8L510.1 462.0L510.5 462.4L511.1 462.0L511.1 461.9L511.7 460.8L512.1 460.5L512.3 461.1L512.8 460.3L513.0 459.8L513.4 459.7L514.0 459.5L514.6 459.2L515.0 458.7L515.2 459.3L515.7 458.4L516.3 458.4L516.9 458.5L516.9 458.6L517.5 458.4L518.1 457.7L518.6 457.4L518.8 457.8L519.2 457.9L519.8 457.7L520.4 457.5L520.8 457.1L521.0 457.3L521.5 457.4L522.1 457.0L522.7 456.4L522.7 457.1L523.3 456.2L523.9 456.1L524.6 456.2L524.7 438.0L524.7 415.2L524.8 385.2L524.9 363.5L525.0 348.3L525.2 329.4L525.4 320.2L525.6 315.1L525.8 312.3L526.2 311.0L526.2 310.9L526.6 310.1L526.8 310.6L527.1 309.7L527.3 310.6L527.7 310.2L527.9 310.3L528.5 310.9L528.5 310.4L529.1 310.5L529.5 310.4L529.7 310.9L530.2 311.0L530.4 311.0L530.8 310.6L531.4 311.4L531.4 311.0L532.0 310.7L532.4 310.9L532.6 310.8L533.1 310.9L533.7 311.3L534.3 311.6L534.3 311.6L534.9 311.9L535.5 312.0L536.0 311.7L536.2 311.9L536.6 312.0L537.2 311.6L537.8 312.0L538.2 311.8L538.4 312.0L538.9 312.1L539.5 312.2L540.1 311.8L540.1 311.4L540.7 311.4L541.2 312.1L541.8 312.0L542.0 312.2L542.4 311.6L543.0 312.2L544.0 312.5L544.0 328.0L544.1 348.5L544.1 377.1L544.2 397.7L544.3 414.4L544.5 435.8L544.7 447.6L544.9 455.2L545.1 458.6L545.3 460.9L545.5 462.2L545.9 463.7L545.9 463.1L546.5 463.6L546.5 463.7L547.0 464.1L547.0 464.0L547.6 463.0L547.8 463.3L548.2 463.5L548.8 463.3L548.8 462.8L549.4 462.2L549.8 462.6L549.9 461.9L550.5 462.0L550.7 461.6L551.1 461.2L551.7 460.9L551.7 461.3L552.3 460.7L552.8 461.0L553.4 460.9L553.6 460.8L554.0 460.4L554.6 460.4L555.2 460.4L555.5 459.8L555.7 460.0L556.3 459.4L556.9 459.8L557.5 459.9L557.5 459.3L558.1 459.5L558.6 458.9L559.2 459.6L559.4 458.6L559.8 458.7L560.4 458.8L561.0 459.1L561.3 458.8L561.5 458.3L562.1 458.8L562.7 458.1L563.3 458.3L565.0 458.8L565.6 458.3L566.2 457.8L566.8 457.9L567.1 457.9L567.3 457.8L567.9 458.4L568.5 457.9L569.1 458.2L569.7 458.1L570.2 458.4L570.8 457.8L571.0 457.5L571.4 458.1L572.0 458.0L572.6 457.4L573.1 457.9L573.7 457.5L574.3 458.4L574.9 457.9L574.9 458.1L575.5 458.0L576.0 457.9L576.6 458.2L577.2 457.3L577.8 457.6L578.3 457.9L578.7 457.6L578.9 458.2L579.5 457.6L580.1 458.0L580.7 457.8L581.2 457.8L581.8 458.1L582.6 458.2" stroke="#a278ec"/>
</g>
<text transform="translate(326.4,445.1) scale(0.920,1)" text-anchor="end" font-size="15.8" font-family='"Liberation Sans", sans-serif' fill="#000" stroke="#000" stroke-width="0.3">0.0</text>
<text transform="translate(326.4,379.8) scale(0.920,1)" text-anchor="end" font-size="15.8" font-family='"Liberation Sans", sans-serif' fill="#000" stroke="#000" stroke-width="0.3">0.1</text>
<text transform="translate(326.4,314.5) scale(0.920,1)" text-anchor="end" font-size="15.8" font-family='"Liberation Sans", sans-serif' fill="#000" stroke="#000" stroke-width="0.3">0.2</text>
<text transform="translate(331.4,497.8) scale(0.920,1)" text-anchor="middle" font-size="15.8" font-family='"Liberation Sans", sans-serif' fill="#000" stroke="#000" stroke-width="0.3">0</text>
<text transform="translate(370.0,497.8) scale(0.920,1)" text-anchor="middle" font-size="15.8" font-family='"Liberation Sans", sans-serif' fill="#000" stroke="#000" stroke-width="0.3">20</text>
<text transform="translate(408.7,497.8) scale(0.920,1)" text-anchor="middle" font-size="15.8" font-family='"Liberation Sans", sans-serif' fill="#000" stroke="#000" stroke-width="0.3">40</text>
<text transform="translate(447.3,497.8) scale(0.920,1)" text-anchor="middle" font-size="15.8" font-family='"Liberation Sans", sans-serif' fill="#000" stroke="#000" stroke-width="0.3">60</text>
<text transform="translate(486.0,497.8) scale(0.920,1)" text-anchor="middle" font-size="15.8" font-family='"Liberation Sans", sans-serif' fill="#000" stroke="#000" stroke-width="0.3">80</text>
<text transform="translate(524.6,497.8) scale(0.920,1)" text-anchor="middle" font-size="15.8" font-family='"Liberation Sans", sans-serif' fill="#000" stroke="#000" stroke-width="0.3">100</text>
<text transform="translate(563.3,497.8) scale(0.920,1)" text-anchor="middle" font-size="15.8" font-family='"Liberation Sans", sans-serif' fill="#000" stroke="#000" stroke-width="0.3">120</text>
<text x="81.2" y="15.3" font-size="18.5" font-weight="bold" font-family='"Liberation Sans", sans-serif' textLength="186" lengthAdjust="spacingAndGlyphs" fill="#000">Aminopropyl-STNPs</text>
<text x="397.2" y="15.3" font-size="18.5" font-weight="bold" font-family='"Liberation Sans", sans-serif' textLength="113" lengthAdjust="spacingAndGlyphs" fill="#000">Vinyl-STNPs</text>
<text x="118.3" y="272.5" font-size="18.5" font-weight="bold" font-family='"Liberation Sans", sans-serif' textLength="103" lengthAdjust="spacingAndGlyphs" fill="#000">C18-STNPs</text>
<text x="382.2" y="272.5" font-size="18.5" font-weight="bold" font-family='"Liberation Sans", sans-serif' textLength="130" lengthAdjust="spacingAndGlyphs" fill="#000">Phenyl-STNPs</text>
<text x="276.4" y="262.5" font-size="16.5" font-weight="bold" font-family='"Liberation Sans", sans-serif' textLength="81" lengthAdjust="spacingAndGlyphs" fill="#000">Time (sec)</text>
<text x="276.4" y="522.6" font-size="16.5" font-weight="bold" font-family='"Liberation Sans", sans-serif' textLength="81" lengthAdjust="spacingAndGlyphs" fill="#000">Time (sec)</text>
<text transform="translate(13.8,120.0) rotate(-90)" x="0" y="0" text-anchor="middle" font-size="16.6" font-weight="bold" font-family='"Liberation Sans", sans-serif' fill="#000">Output (mV)</text>
<text transform="translate(13.8,376.0) rotate(-90)" x="0" y="0" text-anchor="middle" font-size="16.6" font-weight="bold" font-family='"Liberation Sans", sans-serif' fill="#000">Output (mV)</text>
<path d="M592.5 29.3H613.3" stroke="#333333" stroke-width="1"/>
<text x="617.8" y="32.3" font-size="10.5" font-family='"Liberation Sans", sans-serif' fill="#000" stroke="#000" stroke-width="0.15">Vodka</text>
<path d="M592.5 40.9H613.3" stroke="#e6655a" stroke-width="1"/>
<text x="617.8" y="43.9" font-size="10.5" font-family='"Liberation Sans", sans-serif' fill="#000" stroke="#000" stroke-width="0.15">Gin</text>
<path d="M592.5 52.6H613.3" stroke="#3a48d8" stroke-width="1"/>
<text x="617.8" y="55.6" font-size="10.5" font-family='"Liberation Sans", sans-serif' fill="#000" stroke="#000" stroke-width="0.15">Palinka</text>
<path d="M592.5 64.2H613.3" stroke="#e05ae6" stroke-width="1"/>
<text x="617.8" y="67.2" font-size="10.5" font-family='"Liberation Sans", sans-serif' fill="#000" stroke="#000" stroke-width="0.15">Whisky</text>
<path d="M592.5 75.8H613.3" stroke="#45a04d" stroke-width="1"/>
<text x="617.8" y="78.8" font-size="10.5" font-family='"Liberation Sans", sans-serif' fill="#000" stroke="#000" stroke-width="0.15">Rum</text>
<path d="M592.5 87.5H613.3" stroke="#26266e" stroke-width="1"/>
<text x="617.8" y="90.5" font-size="10.5" font-family='"Liberation Sans", sans-serif' fill="#000" stroke="#000" stroke-width="0.15">Brandy</text>
<path d="M592.5 99.1H613.3" stroke="#a278ec" stroke-width="1"/>
<text x="617.8" y="102.1" font-size="10.5" font-family='"Liberation Sans", sans-serif' fill="#000" stroke="#000" stroke-width="0.15">Water/EtOH</text>
</svg>
</body></html>
